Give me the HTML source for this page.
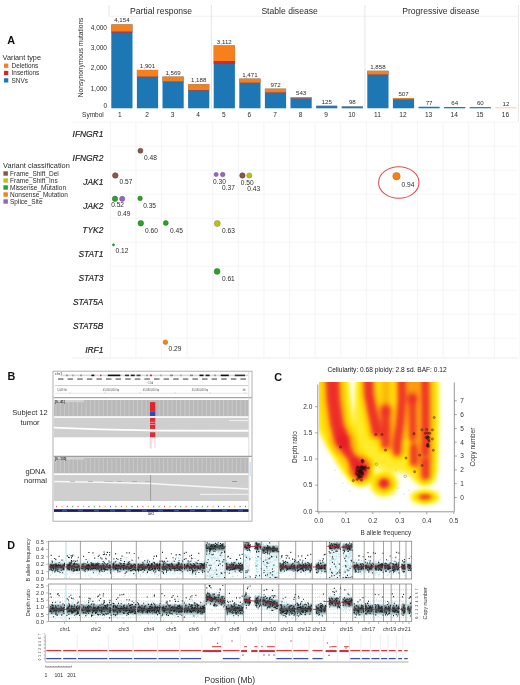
<!DOCTYPE html><html><head><meta charset="utf-8"><style>html,body{margin:0;padding:0;background:#fff;}svg{display:block;will-change:transform;font-family:"Liberation Sans", sans-serif;}</style></head><body><svg width="520" height="685" viewBox="0 0 520 685"><rect width="520" height="685" fill="#fff"/><line x1="109.2" y1="16.3" x2="518.2" y2="16.3" stroke="#ededed" stroke-width="0.8"/><line x1="109" y1="5" x2="109" y2="16.3" stroke="#e0e0e0" stroke-width="0.8"/><line x1="211.4" y1="5" x2="211.4" y2="109" stroke="#e0e0e0" stroke-width="0.8"/><line x1="364.9" y1="5" x2="364.9" y2="109" stroke="#e0e0e0" stroke-width="0.8"/><line x1="518.4" y1="5" x2="518.4" y2="122" stroke="#e0e0e0" stroke-width="0.8"/><text x="161.1" y="14.2" font-size="8.6" fill="#2c2c2c" text-anchor="middle">Partial response</text><text x="289.6" y="13.9" font-size="8.6" fill="#2c2c2c" text-anchor="middle">Stable disease</text><text x="440.9" y="13.9" font-size="8.6" fill="#2c2c2c" text-anchor="middle">Progressive disease</text><rect x="111.3" y="24.39" width="21.2" height="83.91" fill="#1d77b5"/><rect x="111.3" y="24.39" width="21.2" height="7.3" fill="#f6811c"/><rect x="111.3" y="31.69" width="21.2" height="0.9" fill="#d62728"/><text x="121.9" y="22.49" font-size="6.15" fill="#2c2c2c" text-anchor="middle">4,154</text><text x="119.9" y="117.2" font-size="6.6" fill="#2c2c2c" text-anchor="middle">1</text><rect x="136.9" y="69.9" width="21.2" height="38.4" fill="#1d77b5"/><rect x="136.9" y="69.9" width="21.2" height="6.8" fill="#f6811c"/><rect x="136.9" y="76.7" width="21.2" height="0.4" fill="#d62728"/><text x="147.5" y="68" font-size="6.15" fill="#2c2c2c" text-anchor="middle">1,901</text><text x="147" y="117.2" font-size="6.6" fill="#2c2c2c" text-anchor="middle">2</text><rect x="162.5" y="76.61" width="21.2" height="31.69" fill="#1d77b5"/><rect x="162.5" y="76.61" width="21.2" height="5" fill="#f6811c"/><rect x="162.5" y="81.61" width="21.2" height="0.4" fill="#d62728"/><text x="173.1" y="74.71" font-size="6.15" fill="#2c2c2c" text-anchor="middle">1,569</text><text x="172.6" y="117.2" font-size="6.6" fill="#2c2c2c" text-anchor="middle">3</text><rect x="188.1" y="84.3" width="21.2" height="24" fill="#1d77b5"/><rect x="188.1" y="84.3" width="21.2" height="5.8" fill="#f6811c"/><rect x="188.1" y="90.1" width="21.2" height="0.4" fill="#d62728"/><text x="198.7" y="82.4" font-size="6.15" fill="#2c2c2c" text-anchor="middle">1,188</text><text x="198.2" y="117.2" font-size="6.6" fill="#2c2c2c" text-anchor="middle">4</text><rect x="213.7" y="45.44" width="21.2" height="62.86" fill="#1d77b5"/><rect x="213.7" y="45.44" width="21.2" height="15.6" fill="#f6811c"/><rect x="213.7" y="61.04" width="21.2" height="3" fill="#d62728"/><text x="224.3" y="43.54" font-size="6.15" fill="#2c2c2c" text-anchor="middle">3,112</text><text x="223.8" y="117.2" font-size="6.6" fill="#2c2c2c" text-anchor="middle">5</text><rect x="239.3" y="78.59" width="21.2" height="29.71" fill="#1d77b5"/><rect x="239.3" y="78.59" width="21.2" height="4.2" fill="#f6811c"/><rect x="239.3" y="82.79" width="21.2" height="0.3" fill="#d62728"/><text x="249.9" y="76.69" font-size="6.15" fill="#2c2c2c" text-anchor="middle">1,471</text><text x="249.4" y="117.2" font-size="6.6" fill="#2c2c2c" text-anchor="middle">6</text><rect x="264.9" y="88.67" width="21.2" height="19.63" fill="#1d77b5"/><rect x="264.9" y="88.67" width="21.2" height="3.8" fill="#f6811c"/><rect x="264.9" y="92.47" width="21.2" height="0.3" fill="#d62728"/><text x="275.5" y="86.77" font-size="6.15" fill="#2c2c2c" text-anchor="middle">972</text><text x="275" y="117.2" font-size="6.6" fill="#2c2c2c" text-anchor="middle">7</text><rect x="290.5" y="97.33" width="21.2" height="10.97" fill="#1d77b5"/><rect x="290.5" y="97.33" width="21.2" height="1" fill="#f6811c"/><rect x="290.5" y="98.33" width="21.2" height="0.2" fill="#d62728"/><text x="301.1" y="95.43" font-size="6.15" fill="#2c2c2c" text-anchor="middle">543</text><text x="300.6" y="117.2" font-size="6.6" fill="#2c2c2c" text-anchor="middle">8</text><rect x="316.1" y="105.77" width="21.2" height="2.52" fill="#1d77b5"/><rect x="316.1" y="105.77" width="21.2" height="0.3" fill="#f6811c"/><text x="326.7" y="103.87" font-size="6.15" fill="#2c2c2c" text-anchor="middle">125</text><text x="326.2" y="117.2" font-size="6.6" fill="#2c2c2c" text-anchor="middle">9</text><rect x="341.7" y="106.32" width="21.2" height="1.98" fill="#1d77b5"/><rect x="341.7" y="106.32" width="21.2" height="0.2" fill="#f6811c"/><text x="352.3" y="104.42" font-size="6.15" fill="#2c2c2c" text-anchor="middle">98</text><text x="351.8" y="117.2" font-size="6.6" fill="#2c2c2c" text-anchor="middle">10</text><rect x="367.3" y="70.77" width="21.2" height="37.53" fill="#1d77b5"/><rect x="367.3" y="70.77" width="21.2" height="3.8" fill="#f6811c"/><rect x="367.3" y="74.57" width="21.2" height="0.3" fill="#d62728"/><text x="377.9" y="68.87" font-size="6.15" fill="#2c2c2c" text-anchor="middle">1,858</text><text x="377.4" y="117.2" font-size="6.6" fill="#2c2c2c" text-anchor="middle">11</text><rect x="392.9" y="98.06" width="21.2" height="10.24" fill="#1d77b5"/><rect x="392.9" y="98.06" width="21.2" height="1.3" fill="#f6811c"/><rect x="392.9" y="99.36" width="21.2" height="0.2" fill="#d62728"/><text x="403.5" y="96.16" font-size="6.15" fill="#2c2c2c" text-anchor="middle">507</text><text x="403" y="117.2" font-size="6.6" fill="#2c2c2c" text-anchor="middle">12</text><rect x="418.5" y="106.74" width="21.2" height="1.56" fill="#1d77b5"/><text x="429.1" y="104.84" font-size="6.15" fill="#2c2c2c" text-anchor="middle">77</text><text x="428.6" y="117.2" font-size="6.6" fill="#2c2c2c" text-anchor="middle">13</text><rect x="444.1" y="107.01" width="21.2" height="1.29" fill="#1d77b5"/><text x="454.7" y="105.11" font-size="6.15" fill="#2c2c2c" text-anchor="middle">64</text><text x="454.2" y="117.2" font-size="6.6" fill="#2c2c2c" text-anchor="middle">14</text><rect x="469.7" y="107.09" width="21.2" height="1.21" fill="#1d77b5"/><text x="480.3" y="105.19" font-size="6.15" fill="#2c2c2c" text-anchor="middle">60</text><text x="479.8" y="117.2" font-size="6.6" fill="#2c2c2c" text-anchor="middle">15</text><rect x="495.3" y="107.4" width="21.2" height="0.9" fill="#f6c9a0"/><text x="505.9" y="106.16" font-size="6.15" fill="#2c2c2c" text-anchor="middle">12</text><text x="505.4" y="117.2" font-size="6.6" fill="#2c2c2c" text-anchor="middle">16</text><text x="103.8" y="117.2" font-size="6.5" fill="#2c2c2c" text-anchor="end">Symbol</text><text x="107" y="108.2" font-size="6.5" fill="#2c2c2c" text-anchor="end">0</text><text x="107" y="90.5" font-size="6.5" fill="#2c2c2c" text-anchor="end">1,000</text><text x="107" y="70.3" font-size="6.5" fill="#2c2c2c" text-anchor="end">2,000</text><text x="107" y="50.1" font-size="6.5" fill="#2c2c2c" text-anchor="end">3,000</text><text x="107" y="29.9" font-size="6.5" fill="#2c2c2c" text-anchor="end">4,000</text><text transform="translate(83.2 57.4) rotate(-90)" font-size="6.6" fill="#2c2c2c" text-anchor="middle">Nonsynonymous mutations</text><text x="7.2" y="43.6" font-size="10.8" fill="#111" font-weight="bold">A</text><text x="2.6" y="60.3" font-size="7.3" fill="#2c2c2c">Variant type</text><rect x="4" y="63.6" width="4.3" height="4.3" fill="#f6811c"/><text x="11.6" y="68" font-size="6.4" fill="#2c2c2c">Deletions</text><rect x="4" y="70.9" width="4.3" height="4.3" fill="#d62728"/><text x="11.6" y="75.3" font-size="6.4" fill="#2c2c2c">Insertions</text><rect x="4" y="78.2" width="4.3" height="4.3" fill="#1d77b5"/><text x="11.6" y="82.6" font-size="6.4" fill="#2c2c2c">SNVs</text><line x1="72.5" y1="122.2" x2="518.2" y2="122.2" stroke="#f1f1f1" stroke-width="0.8"/><line x1="110.3" y1="146.2" x2="518.2" y2="146.2" stroke="#f1f1f1" stroke-width="0.8"/><line x1="110.3" y1="170.2" x2="518.2" y2="170.2" stroke="#f1f1f1" stroke-width="0.8"/><line x1="110.3" y1="194.2" x2="518.2" y2="194.2" stroke="#f1f1f1" stroke-width="0.8"/><line x1="110.3" y1="218.2" x2="518.2" y2="218.2" stroke="#f1f1f1" stroke-width="0.8"/><line x1="110.3" y1="242.2" x2="518.2" y2="242.2" stroke="#f1f1f1" stroke-width="0.8"/><line x1="110.3" y1="266.2" x2="518.2" y2="266.2" stroke="#f1f1f1" stroke-width="0.8"/><line x1="110.3" y1="290.2" x2="518.2" y2="290.2" stroke="#f1f1f1" stroke-width="0.8"/><line x1="110.3" y1="314.2" x2="518.2" y2="314.2" stroke="#f1f1f1" stroke-width="0.8"/><line x1="110.3" y1="338.2" x2="518.2" y2="338.2" stroke="#f1f1f1" stroke-width="0.8"/><line x1="72.5" y1="358" x2="518.2" y2="358" stroke="#ebebeb" stroke-width="0.9"/><line x1="110.3" y1="122.2" x2="110.3" y2="358" stroke="#f1f1f1" stroke-width="0.8"/><line x1="135.9" y1="122.2" x2="135.9" y2="358" stroke="#f1f1f1" stroke-width="0.8"/><line x1="161.5" y1="122.2" x2="161.5" y2="358" stroke="#f1f1f1" stroke-width="0.8"/><line x1="187.1" y1="122.2" x2="187.1" y2="358" stroke="#f1f1f1" stroke-width="0.8"/><line x1="212.7" y1="122.2" x2="212.7" y2="358" stroke="#f1f1f1" stroke-width="0.8"/><line x1="238.3" y1="122.2" x2="238.3" y2="358" stroke="#f1f1f1" stroke-width="0.8"/><line x1="263.9" y1="122.2" x2="263.9" y2="358" stroke="#f1f1f1" stroke-width="0.8"/><line x1="289.5" y1="122.2" x2="289.5" y2="358" stroke="#f1f1f1" stroke-width="0.8"/><line x1="315.1" y1="122.2" x2="315.1" y2="358" stroke="#f1f1f1" stroke-width="0.8"/><line x1="340.7" y1="122.2" x2="340.7" y2="358" stroke="#f1f1f1" stroke-width="0.8"/><line x1="366.3" y1="122.2" x2="366.3" y2="358" stroke="#f1f1f1" stroke-width="0.8"/><line x1="391.9" y1="122.2" x2="391.9" y2="358" stroke="#f1f1f1" stroke-width="0.8"/><line x1="417.5" y1="122.2" x2="417.5" y2="358" stroke="#f1f1f1" stroke-width="0.8"/><line x1="443.1" y1="122.2" x2="443.1" y2="358" stroke="#f1f1f1" stroke-width="0.8"/><line x1="468.7" y1="122.2" x2="468.7" y2="358" stroke="#f1f1f1" stroke-width="0.8"/><line x1="494.3" y1="122.2" x2="494.3" y2="358" stroke="#f1f1f1" stroke-width="0.8"/><line x1="519.9" y1="122.2" x2="519.9" y2="358" stroke="#f1f1f1" stroke-width="0.8"/><text x="103.3" y="137" font-size="8.4" fill="#1c1c1c" text-anchor="end" font-style="italic" stroke="#1c1c1c" stroke-width="0.18">IFNGR1</text><text x="103.3" y="160.96" font-size="8.4" fill="#1c1c1c" text-anchor="end" font-style="italic" stroke="#1c1c1c" stroke-width="0.18">IFNGR2</text><text x="103.3" y="184.92" font-size="8.4" fill="#1c1c1c" text-anchor="end" font-style="italic" stroke="#1c1c1c" stroke-width="0.18">JAK1</text><text x="103.3" y="208.88" font-size="8.4" fill="#1c1c1c" text-anchor="end" font-style="italic" stroke="#1c1c1c" stroke-width="0.18">JAK2</text><text x="103.3" y="232.84" font-size="8.4" fill="#1c1c1c" text-anchor="end" font-style="italic" stroke="#1c1c1c" stroke-width="0.18">TYK2</text><text x="103.3" y="256.8" font-size="8.4" fill="#1c1c1c" text-anchor="end" font-style="italic" stroke="#1c1c1c" stroke-width="0.18">STAT1</text><text x="103.3" y="280.76" font-size="8.4" fill="#1c1c1c" text-anchor="end" font-style="italic" stroke="#1c1c1c" stroke-width="0.18">STAT3</text><text x="103.3" y="304.72" font-size="8.4" fill="#1c1c1c" text-anchor="end" font-style="italic" stroke="#1c1c1c" stroke-width="0.18">STAT5A</text><text x="103.3" y="328.68" font-size="8.4" fill="#1c1c1c" text-anchor="end" font-style="italic" stroke="#1c1c1c" stroke-width="0.18">STAT5B</text><text x="103.3" y="352.64" font-size="8.4" fill="#1c1c1c" text-anchor="end" font-style="italic" stroke="#1c1c1c" stroke-width="0.18">IRF1</text><text x="3" y="168" font-size="7.4" fill="#2c2c2c">Variant classification</text><rect x="3.4" y="171.3" width="4.5" height="4.4" fill="#8c564b"/><text x="10" y="175.8" font-size="6.5" fill="#2c2c2c">Frame_Shift_Del</text><rect x="3.4" y="178.3" width="4.5" height="4.4" fill="#bcbd22"/><text x="10" y="182.8" font-size="6.5" fill="#2c2c2c">Frame_Shift_Ins</text><rect x="3.4" y="185.3" width="4.5" height="4.4" fill="#2ca02c"/><text x="10" y="189.8" font-size="6.5" fill="#2c2c2c">Missense_Mutation</text><rect x="3.4" y="192.3" width="4.5" height="4.4" fill="#f6811c"/><text x="10" y="196.8" font-size="6.5" fill="#2c2c2c">Nonsense_Mutation</text><rect x="3.4" y="199.3" width="4.5" height="4.4" fill="#9467bd"/><text x="10" y="203.8" font-size="6.5" fill="#2c2c2c">Splice_Site</text><circle cx="140.4" cy="150.7" r="2.5" fill="#8c564b" stroke="#5e3730" stroke-width="0.5"/><circle cx="115.3" cy="175.5" r="2.8" fill="#8c564b" stroke="#5e3730" stroke-width="0.5"/><circle cx="216.1" cy="174.5" r="2.1" fill="#9467bd" stroke="#6a4590" stroke-width="0.5"/><circle cx="222.7" cy="174.5" r="2.3" fill="#9467bd" stroke="#6a4590" stroke-width="0.5"/><circle cx="242.4" cy="175.5" r="2.7" fill="#8c564b" stroke="#5e3730" stroke-width="0.5"/><circle cx="249.3" cy="175.5" r="2.6" fill="#bcbd22" stroke="#8a8a18" stroke-width="0.5"/><circle cx="396.5" cy="176.2" r="3.7" fill="#f6811c" stroke="#c05c08" stroke-width="0.5"/><circle cx="115" cy="198.8" r="2.7" fill="#2ca02c" stroke="#1b6e1f" stroke-width="0.5"/><circle cx="122.2" cy="198.8" r="2.6" fill="#9467bd" stroke="#6a4590" stroke-width="0.5"/><circle cx="140.1" cy="198.4" r="2.3" fill="#2ca02c" stroke="#1b6e1f" stroke-width="0.5"/><circle cx="140.8" cy="223.2" r="2.8" fill="#2ca02c" stroke="#1b6e1f" stroke-width="0.5"/><circle cx="165.8" cy="223" r="2.5" fill="#2ca02c" stroke="#1b6e1f" stroke-width="0.5"/><circle cx="217.3" cy="223.5" r="3" fill="#bcbd22" stroke="#8a8a18" stroke-width="0.5"/><circle cx="113.5" cy="244.8" r="1.1" fill="#2ca02c" stroke="#1b6e1f" stroke-width="0.5"/><circle cx="217.1" cy="271.4" r="2.9" fill="#2ca02c" stroke="#1b6e1f" stroke-width="0.5"/><circle cx="165.4" cy="342.2" r="2.3" fill="#f6811c" stroke="#c05c08" stroke-width="0.5"/><text x="144" y="160.4" font-size="6.6" fill="#2c2c2c">0.48</text><text x="119.6" y="184.3" font-size="6.6" fill="#2c2c2c">0.57</text><text x="213" y="183.6" font-size="6.6" fill="#2c2c2c">0.30</text><text x="222" y="190.2" font-size="6.6" fill="#2c2c2c">0.37</text><text x="240.8" y="185.1" font-size="6.6" fill="#2c2c2c">0.50</text><text x="247.3" y="191.2" font-size="6.6" fill="#2c2c2c">0.43</text><text x="401.5" y="186.7" font-size="6.6" fill="#2c2c2c">0.94</text><text x="111.2" y="207.4" font-size="6.6" fill="#2c2c2c">0.52</text><text x="117.6" y="215.9" font-size="6.6" fill="#2c2c2c">0.49</text><text x="143.2" y="207.7" font-size="6.6" fill="#2c2c2c">0.35</text><text x="145" y="232.8" font-size="6.6" fill="#2c2c2c">0.60</text><text x="170" y="232.8" font-size="6.6" fill="#2c2c2c">0.45</text><text x="222" y="232.8" font-size="6.6" fill="#2c2c2c">0.63</text><text x="115.5" y="253.2" font-size="6.6" fill="#2c2c2c">0.12</text><text x="221.9" y="281" font-size="6.6" fill="#2c2c2c">0.61</text><text x="168.5" y="350.9" font-size="6.6" fill="#2c2c2c">0.29</text><ellipse cx="398.8" cy="182.5" rx="20.2" ry="15.8" fill="none" stroke="#d9534f" stroke-width="1.1"/><text x="7.4" y="380.2" font-size="10.8" fill="#111" font-weight="bold">B</text><text x="30" y="415" font-size="7.5" fill="#2c2c2c" text-anchor="middle">Subject 12</text><text x="30" y="424.5" font-size="7.5" fill="#2c2c2c" text-anchor="middle">tumor</text><text x="35.5" y="474.2" font-size="7.5" fill="#2c2c2c" text-anchor="middle">gDNA</text><text x="35.5" y="483" font-size="7.5" fill="#2c2c2c" text-anchor="middle">normal</text><rect x="53" y="371.2" width="199" height="150" fill="#ffffff" stroke="#a8a8a8" stroke-width="0.9"/><text x="55" y="374.7" font-size="3.8" fill="#333">chr1</text><rect x="60.5" y="374.6" width="187.5" height="1.6" fill="#d8d8d8"/><rect x="66" y="374.6" width="2" height="1.6" fill="#999"/><rect x="72" y="374.6" width="2" height="1.6" fill="#aaa"/><rect x="80" y="374.6" width="2" height="1.6" fill="#999"/><rect x="91.4" y="374.6" width="2.9" height="1.6" fill="#111"/><rect x="100" y="374.6" width="1.5" height="1.6" fill="#c04040"/><rect x="107.8" y="374.6" width="12.5" height="1.6" fill="#111"/><rect x="125" y="374.6" width="4" height="1.6" fill="#333"/><rect x="130.8" y="374.6" width="3.9" height="1.6" fill="#222"/><rect x="136.6" y="374.6" width="3.9" height="1.6" fill="#444"/><rect x="146" y="374.6" width="2" height="1.6" fill="#999"/><rect x="150" y="374.6" width="2" height="1.6" fill="#d03030"/><rect x="160" y="374.6" width="2" height="1.6" fill="#aaa"/><rect x="170" y="374.6" width="3" height="1.6" fill="#888"/><rect x="180" y="374.6" width="2" height="1.6" fill="#aaa"/><rect x="190" y="374.6" width="3" height="1.6" fill="#888"/><rect x="199.5" y="374.6" width="4" height="1.6" fill="#111"/><rect x="205.6" y="374.6" width="4" height="1.6" fill="#222"/><rect x="214" y="374.6" width="2" height="1.6" fill="#999"/><rect x="220.7" y="374.6" width="8.1" height="1.6" fill="#111"/><rect x="234.8" y="374.6" width="10.2" height="1.6" fill="#333"/><rect x="58" y="378.3" width="5.5" height="1.5" fill="#7a7a7a"/><rect x="67.6" y="378.3" width="5.5" height="1.5" fill="#7a7a7a"/><rect x="77.2" y="378.3" width="5.5" height="1.5" fill="#7a7a7a"/><rect x="86.8" y="378.3" width="5.5" height="1.5" fill="#7a7a7a"/><rect x="96.4" y="378.3" width="5.5" height="1.5" fill="#7a7a7a"/><rect x="106" y="378.3" width="5.5" height="1.5" fill="#7a7a7a"/><rect x="115.6" y="378.3" width="5.5" height="1.5" fill="#7a7a7a"/><rect x="125.2" y="378.3" width="5.5" height="1.5" fill="#7a7a7a"/><rect x="134.8" y="378.3" width="5.5" height="1.5" fill="#7a7a7a"/><rect x="144.4" y="378.3" width="5.5" height="1.5" fill="#7a7a7a"/><rect x="154" y="378.3" width="5.5" height="1.5" fill="#7a7a7a"/><rect x="163.6" y="378.3" width="5.5" height="1.5" fill="#7a7a7a"/><rect x="173.2" y="378.3" width="5.5" height="1.5" fill="#7a7a7a"/><rect x="182.8" y="378.3" width="5.5" height="1.5" fill="#7a7a7a"/><rect x="192.4" y="378.3" width="5.5" height="1.5" fill="#7a7a7a"/><rect x="202" y="378.3" width="5.5" height="1.5" fill="#7a7a7a"/><rect x="211.6" y="378.3" width="5.5" height="1.5" fill="#7a7a7a"/><rect x="221.2" y="378.3" width="5.5" height="1.5" fill="#7a7a7a"/><rect x="230.8" y="378.3" width="5.5" height="1.5" fill="#7a7a7a"/><rect x="240.4" y="378.3" width="5.5" height="1.5" fill="#7a7a7a"/><line x1="55" y1="385.6" x2="248" y2="385.6" stroke="#9a9a9a" stroke-width="0.5"/><text x="150" y="384.4" font-size="2.6" fill="#444" text-anchor="middle">~1 kb</text><text x="62" y="391.3" font-size="2.6" fill="#555" text-anchor="middle">5,049 kb</text><text x="111" y="391.3" font-size="2.6" fill="#555" text-anchor="middle">45,000,000 bp</text><text x="151" y="391.3" font-size="2.6" fill="#555" text-anchor="middle">45,080,000 bp</text><text x="200" y="391.3" font-size="2.6" fill="#555" text-anchor="middle">45,090,000 bp</text><text x="244" y="391.3" font-size="2.6" fill="#555" text-anchor="middle">kb</text><line x1="55" y1="393.3" x2="248" y2="393.3" stroke="#c8c8c8" stroke-width="0.5"/><line x1="70" y1="392.4" x2="70" y2="393.3" stroke="#999" stroke-width="0.5"/><line x1="105" y1="392.4" x2="105" y2="393.3" stroke="#999" stroke-width="0.5"/><line x1="140" y1="392.4" x2="140" y2="393.3" stroke="#999" stroke-width="0.5"/><line x1="175" y1="392.4" x2="175" y2="393.3" stroke="#999" stroke-width="0.5"/><line x1="210" y1="392.4" x2="210" y2="393.3" stroke="#999" stroke-width="0.5"/><line x1="245" y1="392.4" x2="245" y2="393.3" stroke="#999" stroke-width="0.5"/><line x1="53.6" y1="397.6" x2="251.8" y2="397.6" stroke="#a6a6a6" stroke-width="1.1"/><line x1="248.8" y1="372" x2="248.8" y2="520.8" stroke="#cfcfcf" stroke-width="0.7"/><rect x="249.3" y="462" width="2.4" height="14" fill="#d6e6f4"/><rect x="54" y="400" width="194.5" height="16.2" fill="#b9b9b9"/><rect x="55.5" y="400" width="0.9" height="16.2" fill="#cbcbcb"/><rect x="59.8" y="400" width="0.9" height="16.2" fill="#cbcbcb"/><rect x="64.1" y="400" width="0.9" height="16.2" fill="#cbcbcb"/><rect x="68.4" y="400" width="0.9" height="16.2" fill="#cbcbcb"/><rect x="72.7" y="400" width="0.9" height="16.2" fill="#cbcbcb"/><rect x="77" y="400" width="0.9" height="16.2" fill="#cbcbcb"/><rect x="81.3" y="400" width="0.9" height="16.2" fill="#cbcbcb"/><rect x="85.6" y="400" width="0.9" height="16.2" fill="#cbcbcb"/><rect x="89.9" y="400" width="0.9" height="16.2" fill="#cbcbcb"/><rect x="94.2" y="400" width="0.9" height="16.2" fill="#cbcbcb"/><rect x="98.5" y="400" width="0.9" height="16.2" fill="#cbcbcb"/><rect x="102.8" y="400" width="0.9" height="16.2" fill="#cbcbcb"/><rect x="107.1" y="400" width="0.9" height="16.2" fill="#cbcbcb"/><rect x="111.4" y="400" width="0.9" height="16.2" fill="#cbcbcb"/><rect x="115.7" y="400" width="0.9" height="16.2" fill="#cbcbcb"/><rect x="120" y="400" width="0.9" height="16.2" fill="#cbcbcb"/><rect x="124.3" y="400" width="0.9" height="16.2" fill="#cbcbcb"/><rect x="128.6" y="400" width="0.9" height="16.2" fill="#cbcbcb"/><rect x="132.9" y="400" width="0.9" height="16.2" fill="#cbcbcb"/><rect x="137.2" y="400" width="0.9" height="16.2" fill="#cbcbcb"/><rect x="141.5" y="400" width="0.9" height="16.2" fill="#cbcbcb"/><rect x="145.8" y="400" width="0.9" height="16.2" fill="#cbcbcb"/><rect x="150.1" y="400" width="0.9" height="16.2" fill="#cbcbcb"/><rect x="154.4" y="400" width="0.9" height="16.2" fill="#cbcbcb"/><rect x="158.7" y="400" width="0.9" height="16.2" fill="#cbcbcb"/><rect x="163" y="400" width="0.9" height="16.2" fill="#cbcbcb"/><rect x="167.3" y="400" width="0.9" height="16.2" fill="#cbcbcb"/><rect x="171.6" y="400" width="0.9" height="16.2" fill="#cbcbcb"/><rect x="175.9" y="400" width="0.9" height="16.2" fill="#cbcbcb"/><rect x="180.2" y="400" width="0.9" height="16.2" fill="#cbcbcb"/><rect x="184.5" y="400" width="0.9" height="16.2" fill="#cbcbcb"/><rect x="188.8" y="400" width="0.9" height="16.2" fill="#cbcbcb"/><rect x="193.1" y="400" width="0.9" height="16.2" fill="#cbcbcb"/><rect x="197.4" y="400" width="0.9" height="16.2" fill="#cbcbcb"/><rect x="201.7" y="400" width="0.9" height="16.2" fill="#cbcbcb"/><rect x="206" y="400" width="0.9" height="16.2" fill="#cbcbcb"/><rect x="210.3" y="400" width="0.9" height="16.2" fill="#cbcbcb"/><rect x="214.6" y="400" width="0.9" height="16.2" fill="#cbcbcb"/><rect x="218.9" y="400" width="0.9" height="16.2" fill="#cbcbcb"/><rect x="223.2" y="400" width="0.9" height="16.2" fill="#cbcbcb"/><rect x="227.5" y="400" width="0.9" height="16.2" fill="#cbcbcb"/><rect x="231.8" y="400" width="0.9" height="16.2" fill="#cbcbcb"/><rect x="236.1" y="400" width="0.9" height="16.2" fill="#cbcbcb"/><rect x="240.4" y="400" width="0.9" height="16.2" fill="#cbcbcb"/><rect x="244.7" y="400" width="0.9" height="16.2" fill="#cbcbcb"/><rect x="54" y="400" width="30" height="2.2" fill="#d2d2d2"/><text x="55" y="402.6" font-size="3" fill="#222" font-weight="bold">[0 - 41]</text><rect x="54" y="417.8" width="194.5" height="19.5" fill="#cfcfcf"/><polyline points="54,427.6 100,429.4 160,430.6 248.5,430.7" fill="none" stroke="#fff" stroke-width="1.9"/><line x1="229" y1="420.6" x2="248.5" y2="420.6" stroke="#f4f4f4" stroke-width="0.9"/><rect x="150" y="402.1" width="5.3" height="9.6" fill="#e3242b"/><rect x="150" y="411.7" width="5.3" height="4.3" fill="#2b4bb5"/><rect x="150" y="417.9" width="5.3" height="11" fill="#dc2b3a"/><rect x="150" y="421.8" width="5.3" height="0.8" fill="#f3a0a8"/><rect x="150" y="424" width="5.3" height="0.8" fill="#f3a0a8"/><rect x="150" y="432.3" width="5.3" height="4.9" fill="#dc2b3a"/><line x1="150.3" y1="437" x2="150.3" y2="448" stroke="#f0a0a0" stroke-width="0.5"/><line x1="155" y1="437" x2="155" y2="448" stroke="#f0a0a0" stroke-width="0.5"/><line x1="151.3" y1="437" x2="151.3" y2="449" stroke="#bbbbbb" stroke-width="0.4"/><line x1="53.6" y1="456.4" x2="251.8" y2="456.4" stroke="#9e9e9e" stroke-width="1.4"/><rect x="54" y="457.4" width="194.5" height="15.9" fill="#b9b9b9"/><rect x="55.5" y="457.4" width="0.9" height="15.9" fill="#cbcbcb"/><rect x="59.8" y="457.4" width="0.9" height="15.9" fill="#cbcbcb"/><rect x="64.1" y="457.4" width="0.9" height="15.9" fill="#cbcbcb"/><rect x="68.4" y="457.4" width="0.9" height="15.9" fill="#cbcbcb"/><rect x="72.7" y="457.4" width="0.9" height="15.9" fill="#cbcbcb"/><rect x="77" y="457.4" width="0.9" height="15.9" fill="#cbcbcb"/><rect x="81.3" y="457.4" width="0.9" height="15.9" fill="#cbcbcb"/><rect x="85.6" y="457.4" width="0.9" height="15.9" fill="#cbcbcb"/><rect x="89.9" y="457.4" width="0.9" height="15.9" fill="#cbcbcb"/><rect x="94.2" y="457.4" width="0.9" height="15.9" fill="#cbcbcb"/><rect x="98.5" y="457.4" width="0.9" height="15.9" fill="#cbcbcb"/><rect x="102.8" y="457.4" width="0.9" height="15.9" fill="#cbcbcb"/><rect x="107.1" y="457.4" width="0.9" height="15.9" fill="#cbcbcb"/><rect x="111.4" y="457.4" width="0.9" height="15.9" fill="#cbcbcb"/><rect x="115.7" y="457.4" width="0.9" height="15.9" fill="#cbcbcb"/><rect x="120" y="457.4" width="0.9" height="15.9" fill="#cbcbcb"/><rect x="124.3" y="457.4" width="0.9" height="15.9" fill="#cbcbcb"/><rect x="128.6" y="457.4" width="0.9" height="15.9" fill="#cbcbcb"/><rect x="132.9" y="457.4" width="0.9" height="15.9" fill="#cbcbcb"/><rect x="137.2" y="457.4" width="0.9" height="15.9" fill="#cbcbcb"/><rect x="141.5" y="457.4" width="0.9" height="15.9" fill="#cbcbcb"/><rect x="145.8" y="457.4" width="0.9" height="15.9" fill="#cbcbcb"/><rect x="150.1" y="457.4" width="0.9" height="15.9" fill="#cbcbcb"/><rect x="154.4" y="457.4" width="0.9" height="15.9" fill="#cbcbcb"/><rect x="158.7" y="457.4" width="0.9" height="15.9" fill="#cbcbcb"/><rect x="163" y="457.4" width="0.9" height="15.9" fill="#cbcbcb"/><rect x="167.3" y="457.4" width="0.9" height="15.9" fill="#cbcbcb"/><rect x="171.6" y="457.4" width="0.9" height="15.9" fill="#cbcbcb"/><rect x="175.9" y="457.4" width="0.9" height="15.9" fill="#cbcbcb"/><rect x="180.2" y="457.4" width="0.9" height="15.9" fill="#cbcbcb"/><rect x="184.5" y="457.4" width="0.9" height="15.9" fill="#cbcbcb"/><rect x="188.8" y="457.4" width="0.9" height="15.9" fill="#cbcbcb"/><rect x="193.1" y="457.4" width="0.9" height="15.9" fill="#cbcbcb"/><rect x="197.4" y="457.4" width="0.9" height="15.9" fill="#cbcbcb"/><rect x="201.7" y="457.4" width="0.9" height="15.9" fill="#cbcbcb"/><rect x="206" y="457.4" width="0.9" height="15.9" fill="#cbcbcb"/><rect x="210.3" y="457.4" width="0.9" height="15.9" fill="#cbcbcb"/><rect x="214.6" y="457.4" width="0.9" height="15.9" fill="#cbcbcb"/><rect x="218.9" y="457.4" width="0.9" height="15.9" fill="#cbcbcb"/><rect x="223.2" y="457.4" width="0.9" height="15.9" fill="#cbcbcb"/><rect x="227.5" y="457.4" width="0.9" height="15.9" fill="#cbcbcb"/><rect x="231.8" y="457.4" width="0.9" height="15.9" fill="#cbcbcb"/><rect x="236.1" y="457.4" width="0.9" height="15.9" fill="#cbcbcb"/><rect x="240.4" y="457.4" width="0.9" height="15.9" fill="#cbcbcb"/><rect x="244.7" y="457.4" width="0.9" height="15.9" fill="#cbcbcb"/><rect x="54" y="457.4" width="30" height="2.2" fill="#d2d2d2"/><text x="55" y="460" font-size="3" fill="#222" font-weight="bold">[0 - 130]</text><rect x="54" y="475" width="194.5" height="26" fill="#cfcfcf"/><polyline points="54,481.6 100,482.2 150,483.5 200,486.5 248.5,489" fill="none" stroke="#f7f7f7" stroke-width="1.5"/><line x1="200" y1="494.3" x2="248.5" y2="494.3" stroke="#f4f4f4" stroke-width="1"/><rect x="70" y="481" width="5" height="0.7" fill="#e8a070"/><rect x="88" y="481" width="5" height="0.7" fill="#d89090"/><rect x="104" y="481" width="5" height="0.7" fill="#e0b080"/><rect x="117" y="481" width="5" height="0.7" fill="#d0a060"/><rect x="132" y="481" width="5" height="0.7" fill="#c89080"/><rect x="108" y="481" width="5" height="0.7" fill="#c8a8a8"/><rect x="145" y="481" width="5" height="0.7" fill="#e0a070"/><rect x="232" y="481" width="5" height="0.7" fill="#d06060"/><line x1="150.6" y1="475" x2="150.6" y2="501" stroke="#7a7a7a" stroke-width="0.6"/><rect x="56" y="505.9" width="1" height="1.3" fill="#e05050"/><rect x="61.4" y="505.9" width="1" height="1.3" fill="#e0a030"/><rect x="66.8" y="505.9" width="1" height="1.3" fill="#4060d0"/><rect x="72.2" y="505.9" width="1" height="1.3" fill="#40a040"/><rect x="77.6" y="505.9" width="1" height="1.3" fill="#e05050"/><rect x="83" y="505.9" width="1" height="1.3" fill="#e0a030"/><rect x="88.4" y="505.9" width="1" height="1.3" fill="#4060d0"/><rect x="93.8" y="505.9" width="1" height="1.3" fill="#40a040"/><rect x="99.2" y="505.9" width="1" height="1.3" fill="#e05050"/><rect x="104.6" y="505.9" width="1" height="1.3" fill="#e0a030"/><rect x="110" y="505.9" width="1" height="1.3" fill="#4060d0"/><rect x="115.4" y="505.9" width="1" height="1.3" fill="#40a040"/><rect x="120.8" y="505.9" width="1" height="1.3" fill="#e05050"/><rect x="126.2" y="505.9" width="1" height="1.3" fill="#e0a030"/><rect x="131.6" y="505.9" width="1" height="1.3" fill="#4060d0"/><rect x="137" y="505.9" width="1" height="1.3" fill="#40a040"/><rect x="142.4" y="505.9" width="1" height="1.3" fill="#e05050"/><rect x="147.8" y="505.9" width="1" height="1.3" fill="#e0a030"/><rect x="153.2" y="505.9" width="1" height="1.3" fill="#4060d0"/><rect x="158.6" y="505.9" width="1" height="1.3" fill="#40a040"/><rect x="164" y="505.9" width="1" height="1.3" fill="#e05050"/><rect x="169.4" y="505.9" width="1" height="1.3" fill="#e0a030"/><rect x="174.8" y="505.9" width="1" height="1.3" fill="#4060d0"/><rect x="180.2" y="505.9" width="1" height="1.3" fill="#40a040"/><rect x="185.6" y="505.9" width="1" height="1.3" fill="#e05050"/><rect x="191" y="505.9" width="1" height="1.3" fill="#e0a030"/><rect x="196.4" y="505.9" width="1" height="1.3" fill="#4060d0"/><rect x="201.8" y="505.9" width="1" height="1.3" fill="#40a040"/><rect x="207.2" y="505.9" width="1" height="1.3" fill="#e05050"/><rect x="212.6" y="505.9" width="1" height="1.3" fill="#e0a030"/><rect x="218" y="505.9" width="1" height="1.3" fill="#4060d0"/><rect x="223.4" y="505.9" width="1" height="1.3" fill="#40a040"/><rect x="228.8" y="505.9" width="1" height="1.3" fill="#e05050"/><rect x="234.2" y="505.9" width="1" height="1.3" fill="#e0a030"/><rect x="239.6" y="505.9" width="1" height="1.3" fill="#4060d0"/><rect x="245" y="505.9" width="1" height="1.3" fill="#40a040"/><rect x="54" y="509.2" width="194.5" height="2.7" fill="#17186a"/><rect x="62" y="509.6" width="5" height="1.9" fill="#3f4fa8"/><rect x="78" y="509.6" width="5" height="1.9" fill="#3f4fa8"/><rect x="94" y="509.6" width="5" height="1.9" fill="#3f4fa8"/><rect x="110" y="509.6" width="5" height="1.9" fill="#3f4fa8"/><rect x="126" y="509.6" width="5" height="1.9" fill="#3f4fa8"/><rect x="142" y="509.6" width="5" height="1.9" fill="#3f4fa8"/><rect x="158" y="509.6" width="5" height="1.9" fill="#3f4fa8"/><rect x="174" y="509.6" width="5" height="1.9" fill="#3f4fa8"/><rect x="190" y="509.6" width="5" height="1.9" fill="#3f4fa8"/><rect x="206" y="509.6" width="5" height="1.9" fill="#3f4fa8"/><rect x="222" y="509.6" width="5" height="1.9" fill="#3f4fa8"/><rect x="238" y="509.6" width="5" height="1.9" fill="#3f4fa8"/><text x="151" y="515.2" font-size="2.8" fill="#222" text-anchor="middle">JAK1</text><text x="274.3" y="380.6" font-size="10.8" fill="#111" font-weight="bold">C</text><text x="387" y="371.7" font-size="6.6" fill="#222" text-anchor="middle">Cellularity: 0.68 ploidy: 2.8 sd. BAF: 0.12</text><defs><clipPath id="hmc"><rect x="319" y="382" width="134.8" height="129.5"/></clipPath><filter id="hmf" x="300" y="360" width="170" height="170" filterUnits="userSpaceOnUse" color-interpolation-filters="sRGB"><feGaussianBlur stdDeviation="2.6"/><feComponentTransfer><feFuncR type="table" tableValues="0.9 0.91 0.93 0.95 0.98 1 1 1 1"/><feFuncG type="table" tableValues="0.1 0.12 0.16 0.3 0.52 0.74 0.9 0.96 1"/><feFuncB type="table" tableValues="0.14 0.15 0.17 0.14 0.08 0.04 0.04 0.4 1"/></feComponentTransfer></filter></defs><g clip-path="url(#hmc)"><g filter="url(#hmf)"><rect x="300" y="360" width="170" height="170" fill="#fff"/><g fill="#000" stroke="#000" stroke-linecap="round" stroke-linejoin="round" fill-opacity="0"><path d="M310 365 L347 365 L350 400 L352 428 L355 400 L357 365 L438.5 365 L438.5 420 L437.5 470 L433 481 L425 485 L416 482 L410 476 L406 473 L400 472 L394 472 L388 471 L380 468 L372 466 L368 476 L364 484 L356 484 L348 477 L341 469 L335 459 L329 449 L323 439 L318 430 L310 430 Z" fill-opacity="0.2" stroke="none"/><path d="M332 370 L333.5 400 L337 425 L342.5 441" stroke-width="30" stroke-opacity="0.12"/><path d="M342.5 441 L346 449 L351 457 L358 467" stroke-width="26" stroke-opacity="0.12"/><path d="M368 370 L369 395 L372 410 L375.5 426 L376.5 432" stroke-width="20" stroke-opacity="0.12"/><path d="M386 410 L386 428 L385.5 445" stroke-width="16" stroke-opacity="0.12"/><path d="M386 370 L386 410" stroke-width="14" stroke-opacity="0.08"/><path d="M401.5 370 L402 400 L400 425 L397.5 442 L397 452" stroke-width="16" stroke-opacity="0.12"/><path d="M412.5 370 L412.5 398" stroke-width="12" stroke-opacity="0.1"/><path d="M412.5 398 L412.5 438" stroke-width="12" stroke-opacity="0.12"/><path d="M413.5 447 L413.5 463" stroke-width="12" stroke-opacity="0.12"/><path d="M425 370 L425.5 410 L425.5 452" stroke-width="22" stroke-opacity="0.14"/><path d="M425.5 462 L425.5 476" stroke-width="20" stroke-opacity="0.14"/><path d="M332 370 L333.5 400 L337 425 L342.5 441" stroke-width="18" stroke-opacity="0.16"/><path d="M342.5 441 L346 449 L351 457 L358 467" stroke-width="13.5" stroke-opacity="0.16"/><path d="M368 370 L369 395 L372 410 L375.5 426 L376.5 432" stroke-width="14" stroke-opacity="0.16"/><path d="M386 410 L386 428 L385.5 445" stroke-width="12.5" stroke-opacity="0.16"/><path d="M386 370 L386 410" stroke-width="8" stroke-opacity="0.16"/><path d="M401.5 370 L402 400 L400 425 L397.5 442 L397 452" stroke-width="12.5" stroke-opacity="0.16"/><path d="M412.5 370 L412.5 398" stroke-width="10" stroke-opacity="0.16"/><path d="M412.5 398 L412.5 438" stroke-width="11" stroke-opacity="0.16"/><path d="M413.5 447 L413.5 463" stroke-width="11.5" stroke-opacity="0.16"/><path d="M425 370 L425.5 410 L425.5 452" stroke-width="12.5" stroke-opacity="0.16"/><path d="M425.5 462 L425.5 476" stroke-width="12.5" stroke-opacity="0.16"/><path d="M332 370 L333.5 400 L337 425 L342.5 441" stroke-width="12" stroke-opacity="0.55"/><path d="M342.5 441 L346 449 L351 457 L358 467" stroke-width="7.5" stroke-opacity="0.55"/><path d="M368 370 L369 395 L372 410 L375.5 426 L376.5 432" stroke-width="8" stroke-opacity="0.55"/><path d="M386 410 L386 428 L385.5 445" stroke-width="6.5" stroke-opacity="0.52"/><path d="M386 370 L386 410" stroke-width="2" stroke-opacity="0.05"/><path d="M401.5 370 L402 400 L400 425 L397.5 442 L397 452" stroke-width="6.5" stroke-opacity="0.55"/><path d="M412.5 370 L412.5 398" stroke-width="4" stroke-opacity="0.05"/><path d="M412.5 398 L412.5 438" stroke-width="5" stroke-opacity="0.52"/><path d="M413.5 447 L413.5 463" stroke-width="5.5" stroke-opacity="0.52"/><path d="M425 370 L425.5 410 L425.5 452" stroke-width="6.5" stroke-opacity="0.55"/><path d="M425.5 462 L425.5 476" stroke-width="6.5" stroke-opacity="0.52"/><ellipse cx="361" cy="470.5" rx="13" ry="15" fill-opacity="0.3" stroke="none"/><ellipse cx="361" cy="470.5" rx="6" ry="8" fill-opacity="0.7" stroke="none"/><ellipse cx="384" cy="483.5" rx="13" ry="12" fill-opacity="0.3" stroke="none"/><ellipse cx="384" cy="483.5" rx="5.5" ry="5" fill-opacity="0.7" stroke="none"/><ellipse cx="425" cy="497" rx="14" ry="6.5" fill-opacity="0.3" stroke="none"/><ellipse cx="425" cy="497" rx="7" ry="2.6" fill-opacity="0.7" stroke="none"/></g></g></g><g fill="#2a1008" fill-opacity="0.35" stroke="#2a1208" stroke-width="0.45" stroke-opacity="0.8"><circle cx="362.57" cy="474.5" r="1.1"/><circle cx="360.14" cy="476.5" r="1.1"/><circle cx="360.17" cy="471.49" r="1.1"/><circle cx="365.16" cy="466.97" r="1.1"/><circle cx="361.71" cy="473.51" r="1.1"/><circle cx="363.33" cy="468.49" r="1.1"/><circle cx="361.16" cy="467.44" r="1.1"/><circle cx="359.75" cy="471.31" r="1.1"/><circle cx="356.54" cy="471.04" r="1.1"/><circle cx="357.32" cy="475.11" r="1.1"/><circle cx="360.29" cy="471.12" r="1.1"/><circle cx="359.68" cy="467.85" r="1.1"/><circle cx="361.1" cy="472.33" r="1.1"/><circle cx="361.65" cy="467.35" r="1.1"/><circle cx="357.94" cy="467.3" r="1.1"/><circle cx="357.53" cy="467.1" r="1.1"/><circle cx="359.23" cy="478.05" r="1.1"/><circle cx="357.25" cy="479.3" r="1.1"/><circle cx="361.35" cy="469.84" r="1.1"/><circle cx="362.54" cy="471.68" r="1.1"/><circle cx="362.94" cy="468.18" r="1.1"/><circle cx="359.09" cy="471.47" r="1.1"/><circle cx="358.88" cy="473.95" r="1.1"/><circle cx="360.53" cy="476.32" r="1.1"/><circle cx="355.87" cy="473.52" r="1.1"/><circle cx="356.7" cy="468.54" r="1.1"/><circle cx="362.35" cy="460.29" r="1.1"/><circle cx="359.83" cy="470.87" r="1.1"/><circle cx="362.29" cy="462.03" r="1.1"/><circle cx="362.45" cy="466.81" r="1.1"/><circle cx="359.94" cy="470.16" r="1.1"/><circle cx="361.09" cy="466.88" r="1.1"/><circle cx="361.22" cy="472.62" r="1.1"/><circle cx="362.22" cy="460.46" r="1.1"/><circle cx="365.25" cy="470" r="1.1"/><circle cx="360.32" cy="473.55" r="1.1"/><circle cx="361.83" cy="476.99" r="1.1"/><circle cx="361.2" cy="470.39" r="1.1"/><circle cx="360.3" cy="471.57" r="1.1"/><circle cx="359.66" cy="469.67" r="1.1"/><circle cx="363.22" cy="461.18" r="1.1"/><circle cx="353.29" cy="480.56" r="1.1"/><circle cx="361.1" cy="472.85" r="1.1"/><circle cx="360.41" cy="471.65" r="1.1"/><circle cx="362.76" cy="473.15" r="1.1"/><circle cx="359.65" cy="471.7" r="1.1"/><circle cx="365.66" cy="467.83" r="1.1"/><circle cx="361.49" cy="480.1" r="1.1"/><circle cx="361.98" cy="467.95" r="1.1"/><circle cx="358.86" cy="475.33" r="1.1"/><circle cx="358.09" cy="470.91" r="1.1"/><circle cx="357.72" cy="473.55" r="1.1"/><circle cx="362.85" cy="467.49" r="1.1"/><circle cx="358.69" cy="477.01" r="1.1"/><circle cx="362.07" cy="473.52" r="1.1"/><circle cx="363.34" cy="467.94" r="1.1"/><circle cx="360.65" cy="471.76" r="1.1"/><circle cx="359.35" cy="476.19" r="1.1"/><circle cx="364.07" cy="468.38" r="1.1"/><circle cx="360.22" cy="471.44" r="1.1"/><circle cx="427.25" cy="436.98" r="1.1"/><circle cx="427.86" cy="436.79" r="1.1"/><circle cx="427.8" cy="433.11" r="1.1"/><circle cx="429.06" cy="441.25" r="1.1"/><circle cx="426.66" cy="429.51" r="1.1"/><circle cx="428.49" cy="446.52" r="1.1"/><circle cx="427.33" cy="438.59" r="1.1"/><circle cx="427.59" cy="444.27" r="1.1"/><circle cx="427.03" cy="445.93" r="1.1"/><circle cx="428.02" cy="445.62" r="1.1"/><circle cx="428.55" cy="439.84" r="1.1"/><circle cx="426.13" cy="437.56" r="1.1"/><circle cx="428.08" cy="444.3" r="1.1"/><circle cx="428.89" cy="437.52" r="1.1"/><circle cx="434.2" cy="417.5" r="1.1"/><circle cx="421.9" cy="429.8" r="1.1"/><circle cx="432.4" cy="429.8" r="1.1"/><circle cx="414" cy="433.7" r="1.1"/><circle cx="425.4" cy="433.3" r="1.1"/><circle cx="429.8" cy="433.3" r="1.1"/><circle cx="432.4" cy="439" r="1.1"/><circle cx="433.3" cy="450.3" r="1.1"/><circle cx="419.7" cy="455.2" r="1.1"/><circle cx="340.5" cy="447" r="1.1"/><circle cx="375.8" cy="434.5" r="1.1"/><circle cx="382" cy="434.5" r="1.1"/><circle cx="385.5" cy="450.2" r="1.1"/><circle cx="368.5" cy="468" r="1.1"/><circle cx="414.6" cy="471.7" r="1.1"/><circle cx="422.2" cy="465.5" r="1.1"/><circle cx="406" cy="458" r="1.1"/></g><circle cx="376.4" cy="464.2" r="1.3" fill="none" stroke="#777" stroke-width="0.5"/><circle cx="405.2" cy="476.3" r="1.3" fill="none" stroke="#777" stroke-width="0.5"/><circle cx="335" cy="470" r="0.5" fill="#aab8c8"/><circle cx="343" cy="483" r="0.5" fill="#aab8c8"/><circle cx="350" cy="491" r="0.5" fill="#aab8c8"/><circle cx="398" cy="488" r="0.5" fill="#aab8c8"/><circle cx="404" cy="494" r="0.5" fill="#aab8c8"/><circle cx="409" cy="490" r="0.5" fill="#aab8c8"/><circle cx="330" cy="500" r="0.5" fill="#aab8c8"/><circle cx="396" cy="470" r="0.5" fill="#aab8c8"/><line x1="317.8" y1="384.5" x2="317.8" y2="512.2" stroke="#8a8a8a" stroke-width="0.9"/><line x1="315.2" y1="511.3" x2="317.7" y2="511.3" stroke="#8a8a8a" stroke-width="0.8"/><text x="312.3" y="513.6" font-size="6.5" fill="#333" text-anchor="end">0.0</text><line x1="315.2" y1="485.15" x2="317.7" y2="485.15" stroke="#8a8a8a" stroke-width="0.8"/><text x="312.3" y="487.45" font-size="6.5" fill="#333" text-anchor="end">0.5</text><line x1="315.2" y1="459" x2="317.7" y2="459" stroke="#8a8a8a" stroke-width="0.8"/><text x="312.3" y="461.3" font-size="6.5" fill="#333" text-anchor="end">1.0</text><line x1="315.2" y1="432.85" x2="317.7" y2="432.85" stroke="#8a8a8a" stroke-width="0.8"/><text x="312.3" y="435.15" font-size="6.5" fill="#333" text-anchor="end">1.5</text><line x1="315.2" y1="406.7" x2="317.7" y2="406.7" stroke="#8a8a8a" stroke-width="0.8"/><text x="312.3" y="409" font-size="6.5" fill="#333" text-anchor="end">2.0</text><line x1="317.8" y1="511.8" x2="453.8" y2="511.8" stroke="#8a8a8a" stroke-width="0.9"/><line x1="318.8" y1="511.8" x2="318.8" y2="514.2" stroke="#8a8a8a" stroke-width="0.8"/><text x="318.8" y="522.7" font-size="6.5" fill="#333" text-anchor="middle">0.0</text><line x1="345.8" y1="511.8" x2="345.8" y2="514.2" stroke="#8a8a8a" stroke-width="0.8"/><text x="345.8" y="522.7" font-size="6.5" fill="#333" text-anchor="middle">0.1</text><line x1="372.8" y1="511.8" x2="372.8" y2="514.2" stroke="#8a8a8a" stroke-width="0.8"/><text x="372.8" y="522.7" font-size="6.5" fill="#333" text-anchor="middle">0.2</text><line x1="399.8" y1="511.8" x2="399.8" y2="514.2" stroke="#8a8a8a" stroke-width="0.8"/><text x="399.8" y="522.7" font-size="6.5" fill="#333" text-anchor="middle">0.3</text><line x1="426.8" y1="511.8" x2="426.8" y2="514.2" stroke="#8a8a8a" stroke-width="0.8"/><text x="426.8" y="522.7" font-size="6.5" fill="#333" text-anchor="middle">0.4</text><line x1="453.8" y1="511.8" x2="453.8" y2="514.2" stroke="#8a8a8a" stroke-width="0.8"/><text x="453.8" y="522.7" font-size="6.5" fill="#333" text-anchor="middle">0.5</text><line x1="454.3" y1="382.5" x2="454.3" y2="511.8" stroke="#8a8a8a" stroke-width="0.9"/><line x1="454.3" y1="497.5" x2="456.8" y2="497.5" stroke="#8a8a8a" stroke-width="0.8"/><text x="460.2" y="499.8" font-size="6.5" fill="#333">0</text><line x1="454.3" y1="483.68" x2="456.8" y2="483.68" stroke="#8a8a8a" stroke-width="0.8"/><text x="460.2" y="485.98" font-size="6.5" fill="#333">1</text><line x1="454.3" y1="469.86" x2="456.8" y2="469.86" stroke="#8a8a8a" stroke-width="0.8"/><text x="460.2" y="472.16" font-size="6.5" fill="#333">2</text><line x1="454.3" y1="456.04" x2="456.8" y2="456.04" stroke="#8a8a8a" stroke-width="0.8"/><text x="460.2" y="458.34" font-size="6.5" fill="#333">3</text><line x1="454.3" y1="442.22" x2="456.8" y2="442.22" stroke="#8a8a8a" stroke-width="0.8"/><text x="460.2" y="444.52" font-size="6.5" fill="#333">4</text><line x1="454.3" y1="428.4" x2="456.8" y2="428.4" stroke="#8a8a8a" stroke-width="0.8"/><text x="460.2" y="430.7" font-size="6.5" fill="#333">5</text><line x1="454.3" y1="414.58" x2="456.8" y2="414.58" stroke="#8a8a8a" stroke-width="0.8"/><text x="460.2" y="416.88" font-size="6.5" fill="#333">6</text><line x1="454.3" y1="400.76" x2="456.8" y2="400.76" stroke="#8a8a8a" stroke-width="0.8"/><text x="460.2" y="403.06" font-size="6.5" fill="#333">7</text><text x="385.8" y="534.6" font-size="6.4" fill="#333" text-anchor="middle">B allele frequency</text><text transform="translate(297 447) rotate(-90)" font-size="6.5" fill="#333" text-anchor="middle">Depth ratio</text><text transform="translate(475.3 447) rotate(-90)" font-size="6.5" fill="#333" text-anchor="middle">Copy number</text><text x="7.2" y="549.4" font-size="10.8" fill="#111" font-weight="bold">D</text><rect x="48.7" y="541.2" width="363" height="37.8" fill="#ffffff"/><rect x="48.7" y="584" width="363" height="37.6" fill="#ffffff"/><defs><linearGradient id="cyb" x1="0" y1="0" x2="0" y2="1"><stop offset="0" stop-color="#c4e6ee" stop-opacity="0"/><stop offset="0.5" stop-color="#c4e6ee" stop-opacity="0.9"/><stop offset="1" stop-color="#c4e6ee" stop-opacity="0"/></linearGradient><linearGradient id="bkb" x1="0" y1="0" x2="0" y2="1"><stop offset="0" stop-color="#1a2426" stop-opacity="0"/><stop offset="0.5" stop-color="#1a2426" stop-opacity="0.8"/><stop offset="1" stop-color="#1a2426" stop-opacity="0"/></linearGradient><linearGradient id="bkd" x1="0" y1="0" x2="0" y2="1"><stop offset="0" stop-color="#1a2426" stop-opacity="0"/><stop offset="0.5" stop-color="#1a2426" stop-opacity="0.75"/><stop offset="1" stop-color="#1a2426" stop-opacity="0"/></linearGradient></defs><line x1="48.7" y1="589.7" x2="411.7" y2="589.7" stroke="#a8a8a8" stroke-width="0.5" stroke-dasharray="1 1.2"/><line x1="48.7" y1="593.7" x2="411.7" y2="593.7" stroke="#a8a8a8" stroke-width="0.5" stroke-dasharray="1 1.2"/><line x1="48.7" y1="597.4" x2="411.7" y2="597.4" stroke="#a8a8a8" stroke-width="0.5" stroke-dasharray="1 1.2"/><line x1="48.7" y1="601.1" x2="411.7" y2="601.1" stroke="#a8a8a8" stroke-width="0.5" stroke-dasharray="1 1.2"/><line x1="48.7" y1="605" x2="411.7" y2="605" stroke="#a8a8a8" stroke-width="0.5" stroke-dasharray="1 1.2"/><line x1="48.7" y1="609.2" x2="411.7" y2="609.2" stroke="#a8a8a8" stroke-width="0.5" stroke-dasharray="1 1.2"/><line x1="48.7" y1="613.4" x2="411.7" y2="613.4" stroke="#a8a8a8" stroke-width="0.5" stroke-dasharray="1 1.2"/><line x1="48.7" y1="617.6" x2="411.7" y2="617.6" stroke="#a8a8a8" stroke-width="0.5" stroke-dasharray="1 1.2"/><rect x="65" y="541.7" width="2" height="36.8" fill="#d5eef4"/><rect x="65" y="584.5" width="2" height="36.6" fill="#d5eef4"/><rect x="205.7" y="541.7" width="18.9" height="36.8" fill="#eef8fa"/><rect x="244.1" y="541.7" width="6.05" height="36.8" fill="#eef8fa"/><rect x="254.52" y="541.7" width="6.38" height="36.8" fill="#eef8fa"/><rect x="262.1" y="541.7" width="16.1" height="36.8" fill="#eef8fa"/><rect x="328.74" y="541.7" width="11.26" height="36.8" fill="#eef8fa"/><rect x="342.51" y="541.7" width="9.59" height="36.8" fill="#eef8fa"/><rect x="49.3" y="558.97" width="15.25" height="16" fill="url(#cyb)"/><rect x="49.3" y="601.35" width="15.25" height="16" fill="url(#cyb)"/><rect x="66.38" y="558.97" width="13.42" height="16" fill="url(#cyb)"/><rect x="66.38" y="601.35" width="13.42" height="16" fill="url(#cyb)"/><rect x="81" y="558.97" width="29.9" height="16" fill="url(#cyb)"/><rect x="81" y="601.35" width="29.9" height="16" fill="url(#cyb)"/><rect x="112.1" y="558.97" width="23.6" height="16" fill="url(#cyb)"/><rect x="112.1" y="601.35" width="23.6" height="16" fill="url(#cyb)"/><rect x="136.9" y="558.97" width="23.2" height="16" fill="url(#cyb)"/><rect x="136.9" y="601.35" width="23.2" height="16" fill="url(#cyb)"/><rect x="161.3" y="558.97" width="21" height="16" fill="url(#cyb)"/><rect x="161.3" y="601.35" width="21" height="16" fill="url(#cyb)"/><rect x="183.5" y="558.97" width="21" height="16" fill="url(#cyb)"/><rect x="183.5" y="601.35" width="21" height="16" fill="url(#cyb)"/><rect x="205.7" y="591.44" width="18.9" height="16" fill="url(#cyb)"/><rect x="225.8" y="558.97" width="17.1" height="16" fill="url(#cyb)"/><rect x="225.8" y="601.35" width="17.1" height="16" fill="url(#cyb)"/><rect x="244.1" y="592.88" width="6.05" height="16" fill="url(#cyb)"/><rect x="254.52" y="592.88" width="6.38" height="16" fill="url(#cyb)"/><rect x="262.1" y="595.03" width="16.1" height="16" fill="url(#cyb)"/><rect x="279.4" y="558.97" width="15.7" height="16" fill="url(#cyb)"/><rect x="279.4" y="601.35" width="15.7" height="16" fill="url(#cyb)"/><rect x="296.3" y="558.97" width="15.4" height="16" fill="url(#cyb)"/><rect x="296.3" y="601.35" width="15.4" height="16" fill="url(#cyb)"/><rect x="315.52" y="558.97" width="10.48" height="16" fill="url(#cyb)"/><rect x="315.52" y="601.35" width="10.48" height="16" fill="url(#cyb)"/><rect x="328.74" y="594.17" width="11.26" height="16" fill="url(#cyb)"/><rect x="342.51" y="594.31" width="9.59" height="16" fill="url(#cyb)"/><rect x="353.3" y="558.97" width="10.3" height="16" fill="url(#cyb)"/><rect x="353.3" y="601.35" width="10.3" height="16" fill="url(#cyb)"/><rect x="364.8" y="558.97" width="8.4" height="16" fill="url(#cyb)"/><rect x="364.8" y="601.35" width="8.4" height="16" fill="url(#cyb)"/><rect x="374.4" y="558.97" width="8.5" height="16" fill="url(#cyb)"/><rect x="374.4" y="601.35" width="8.5" height="16" fill="url(#cyb)"/><rect x="384.1" y="558.97" width="6.5" height="16" fill="url(#cyb)"/><rect x="384.1" y="601.35" width="6.5" height="16" fill="url(#cyb)"/><rect x="391.8" y="558.97" width="7.2" height="16" fill="url(#cyb)"/><rect x="391.8" y="601.35" width="7.2" height="16" fill="url(#cyb)"/><rect x="401.24" y="558.97" width="4.16" height="16" fill="url(#cyb)"/><rect x="401.24" y="601.35" width="4.16" height="16" fill="url(#cyb)"/><rect x="407.28" y="558.97" width="3.82" height="16" fill="url(#cyb)"/><rect x="407.28" y="601.35" width="3.82" height="16" fill="url(#cyb)"/><path d="M63.1 564.7h1M68.5 569.1h1M55.1 562.2h1M68.8 562.7h1M70.9 566.6h1M77.1 566.4h1M52.0 565.3h1M73.6 565.2h1M52.9 565.5h1M58.6 570.9h1M52.0 573.1h1M66.8 573.9h1M62.2 569.8h1M67.5 566.7h1M62.9 570.8h1M64.0 577.5h1M68.4 563.9h1M51.9 562.8h1M68.0 562.0h1M55.5 563.3h1M71.0 563.5h1M49.9 575.3h1M70.2 567.3h1M68.9 577.2h1M73.4 562.2h1M72.7 568.4h1M71.5 570.2h1M55.4 566.9h1M73.7 567.4h1M77.5 570.3h1M53.2 567.4h1M68.2 564.7h1M62.6 569.8h1M76.8 569.8h1M76.4 574.2h1M73.4 570.9h1M78.8 567.2h1M55.1 567.7h1M63.4 561.7h1M70.7 566.5h1M75.6 570.4h1M77.1 558.8h1M72.7 566.7h1M59.6 562.6h1M68.9 554.4h1M61.5 571.1h1M50.7 562.6h1M78.1 563.5h1M57.9 570.3h1M61.2 573.3h1M51.5 570.3h1M68.3 568.4h1M63.2 560.1h1M71.7 573.1h1M60.3 561.6h1M68.3 568.7h1M68.5 567.4h1M74.0 555.8h1M62.3 568.3h1M77.8 564.1h1M76.2 561.4h1M73.8 567.4h1M51.9 566.8h1M72.6 573.6h1M71.0 571.5h1M60.8 571.5h1M52.8 564.2h1M50.4 567.6h1M67.4 570.3h1M64.0 574.6h1M57.7 566.0h1M71.1 569.2h1M68.7 563.0h1M52.3 572.7h1M58.6 572.0h1M54.1 570.4h1M70.3 555.6h1M69.2 571.9h1M79.5 573.0h1M59.6 564.0h1M66.5 567.9h1M70.9 570.1h1M53.1 571.1h1M74.3 566.3h1M67.9 557.3h1M55.3 560.8h1M55.0 569.8h1M49.8 569.7h1M57.3 566.2h1M53.7 561.6h1M62.5 563.9h1M51.0 562.7h1M51.4 568.7h1M56.6 569.0h1M76.9 564.7h1M79.1 564.1h1M55.3 571.3h1M55.5 575.6h1M76.8 563.4h1M56.1 564.1h1M77.6 573.3h1M56.8 570.7h1M75.1 565.5h1M64.2 564.4h1M75.9 567.7h1M73.7 563.8h1M58.8 572.7h1M73.3 569.3h1M72.5 566.9h1M53.6 565.4h1M71.7 563.8h1M59.6 565.2h1M51.1 558.5h1M75.0 563.9h1M55.5 567.8h1M55.5 565.4h1M82.6 569.5h1M93.7 566.0h1M87.8 567.2h1M101.6 564.5h1M92.7 569.7h1M95.2 564.1h1M98.4 564.7h1M93.1 567.1h1M91.4 565.6h1M109.5 574.2h1M92.4 563.1h1M85.5 565.6h1M105.8 569.9h1M101.5 564.4h1M89.5 567.3h1M84.8 572.6h1M96.2 571.4h1M103.7 560.8h1M105.8 565.4h1M92.9 567.5h1M102.9 567.9h1M90.2 567.4h1M86.2 565.6h1M97.9 564.4h1M82.5 564.6h1M87.0 571.7h1M100.6 575.3h1M94.3 569.7h1M103.5 570.1h1M88.5 559.0h1M90.6 566.8h1M97.3 568.9h1M90.6 577.5h1M98.0 561.1h1M87.9 564.6h1M98.8 574.3h1M110.7 561.8h1M106.9 573.3h1M88.2 560.9h1M86.9 567.3h1M109.1 571.8h1M103.0 571.3h1M93.2 570.8h1M88.0 575.9h1M108.9 560.9h1M107.8 562.4h1M98.7 572.6h1M95.0 564.3h1M110.0 570.1h1M83.0 565.2h1M99.6 569.7h1M81.7 565.7h1M84.7 568.4h1M93.4 571.8h1M106.4 566.0h1M93.4 570.0h1M85.7 567.4h1M82.4 566.8h1M95.3 569.1h1M97.4 569.0h1M91.9 565.0h1M96.4 569.8h1M106.7 566.2h1M82.7 568.8h1M100.9 569.8h1M97.8 558.6h1M95.1 562.1h1M95.8 572.0h1M87.0 570.6h1M88.8 566.9h1M92.3 569.5h1M95.6 564.9h1M98.0 573.4h1M105.1 563.9h1M89.7 564.8h1M89.8 563.4h1M91.8 562.8h1M109.2 565.3h1M96.8 566.3h1M106.7 565.3h1M99.3 566.2h1M107.0 570.3h1M103.6 570.3h1M91.0 567.9h1M95.3 567.5h1M107.2 565.7h1M110.6 577.5h1M103.2 566.3h1M108.8 556.4h1M102.7 572.1h1M86.5 566.0h1M98.0 568.7h1M103.7 568.8h1M103.0 568.5h1M86.5 570.4h1M92.0 564.2h1M97.1 575.6h1M88.0 570.5h1M95.8 564.1h1M100.2 573.9h1M88.3 563.5h1M84.3 569.7h1M101.8 566.6h1M109.8 566.0h1M88.2 567.6h1M93.4 555.7h1M97.2 567.1h1M102.1 567.9h1M83.1 562.4h1M84.8 568.7h1M109.5 567.4h1M84.6 575.8h1M94.5 563.7h1M127.6 569.6h1M120.2 560.3h1M131.5 565.2h1M125.8 561.4h1M115.5 553.4h1M130.0 564.5h1M121.1 571.3h1M119.4 568.0h1M129.5 566.6h1M132.4 560.3h1M131.6 568.7h1M117.2 564.8h1M128.5 562.2h1M135.3 565.7h1M118.5 563.2h1M120.6 570.4h1M114.8 563.4h1M126.8 562.0h1M124.6 557.7h1M128.2 562.0h1M133.7 563.9h1M112.4 571.1h1M130.1 565.6h1M113.5 564.6h1M134.7 575.4h1M113.1 568.5h1M116.5 566.3h1M127.9 571.8h1M124.6 569.2h1M115.9 570.1h1M126.3 569.5h1M127.2 562.7h1M121.3 564.8h1M126.0 569.2h1M128.8 562.8h1M130.6 565.7h1M134.8 570.3h1M135.4 566.0h1M116.8 567.2h1M135.5 569.8h1M134.2 563.9h1M112.9 566.3h1M134.9 567.7h1M132.3 571.2h1M129.3 571.6h1M135.1 560.7h1M126.3 566.9h1M130.8 558.9h1M121.5 568.4h1M115.7 560.8h1M133.1 570.9h1M113.3 571.7h1M123.2 568.5h1M129.3 569.2h1M123.8 570.2h1M135.0 563.5h1M118.0 570.0h1M117.4 568.7h1M114.9 561.1h1M112.9 576.6h1M115.1 568.6h1M130.5 571.6h1M115.9 561.3h1M119.9 568.2h1M124.7 575.5h1M113.2 568.8h1M112.8 566.1h1M116.3 567.3h1M126.3 557.6h1M132.5 566.1h1M131.4 566.5h1M121.8 563.5h1M123.7 570.5h1M112.7 561.4h1M125.8 558.9h1M117.4 561.6h1M113.5 570.4h1M134.2 566.0h1M123.3 576.7h1M120.4 569.6h1M113.1 569.2h1M135.0 566.8h1M122.6 561.0h1M129.2 565.7h1M114.7 569.0h1M133.6 571.1h1M120.4 567.3h1M115.0 568.3h1M141.4 567.7h1M149.1 566.6h1M158.3 565.2h1M139.8 575.0h1M148.4 566.6h1M143.8 569.5h1M159.0 562.1h1M138.1 563.7h1M158.0 575.9h1M137.0 564.6h1M142.1 567.4h1M153.7 566.7h1M151.8 566.1h1M156.1 574.2h1M143.2 562.0h1M138.4 559.8h1M147.5 571.1h1M157.0 565.6h1M138.0 573.0h1M137.6 572.8h1M144.1 564.4h1M154.4 574.7h1M159.6 564.5h1M142.6 561.6h1M156.5 566.3h1M141.6 569.6h1M148.0 560.3h1M159.5 567.4h1M151.3 573.0h1M146.8 562.7h1M141.0 551.8h1M145.2 565.4h1M157.0 562.8h1M146.7 573.2h1M138.1 566.9h1M137.4 570.7h1M148.0 564.6h1M150.5 569.9h1M148.7 570.3h1M141.4 562.1h1M155.0 570.8h1M147.0 565.6h1M139.8 563.7h1M154.8 567.6h1M142.6 569.9h1M148.3 577.4h1M139.6 576.7h1M145.4 560.4h1M149.1 568.2h1M150.0 570.0h1M153.1 570.8h1M144.2 569.1h1M155.3 568.1h1M156.0 577.1h1M155.9 564.8h1M153.4 564.2h1M149.7 565.1h1M154.6 562.5h1M150.4 569.2h1M159.0 566.7h1M145.3 573.6h1M146.5 564.3h1M137.1 569.1h1M159.1 560.4h1M139.0 570.4h1M143.8 562.7h1M156.1 564.4h1M151.8 565.8h1M143.5 566.5h1M148.3 570.1h1M159.4 571.6h1M158.5 567.3h1M159.0 566.7h1M151.7 566.7h1M151.5 571.5h1M141.7 567.1h1M154.5 566.2h1M158.7 561.4h1M147.1 562.2h1M147.6 564.3h1M151.0 566.5h1M154.2 566.3h1M177.9 565.3h1M169.4 570.6h1M179.6 571.3h1M170.8 566.4h1M180.5 571.2h1M164.9 569.3h1M169.7 572.3h1M170.2 564.4h1M162.8 566.7h1M162.4 565.0h1M180.5 567.9h1M179.5 568.2h1M174.4 567.1h1M169.3 568.5h1M166.2 568.3h1M168.7 569.2h1M175.8 557.6h1M181.1 571.9h1M165.7 571.1h1M166.1 562.4h1M181.6 562.0h1M167.2 566.6h1M175.7 568.5h1M171.0 564.4h1M163.2 563.5h1M164.0 574.2h1M163.8 571.0h1M175.0 568.8h1M169.9 563.7h1M173.4 566.7h1M175.7 564.9h1M179.4 564.5h1M179.6 570.9h1M181.6 572.4h1M181.4 560.4h1M172.6 574.4h1M168.6 566.7h1M173.4 560.0h1M176.4 563.8h1M181.2 564.0h1M176.3 567.7h1M176.7 562.6h1M166.4 561.3h1M180.3 568.0h1M177.2 566.1h1M168.8 569.3h1M172.6 564.6h1M174.4 573.1h1M167.5 566.4h1M169.5 568.0h1M161.7 567.4h1M177.8 557.7h1M179.6 573.9h1M179.6 558.7h1M177.2 563.5h1M170.6 569.2h1M178.4 563.8h1M162.8 569.3h1M178.7 569.3h1M181.6 566.8h1M171.8 561.2h1M177.6 566.5h1M177.7 570.6h1M171.4 569.9h1M166.6 567.8h1M174.3 571.7h1M179.4 566.8h1M173.7 572.3h1M166.0 574.5h1M174.1 569.6h1M178.1 558.4h1M165.0 566.8h1M174.5 561.6h1M172.0 564.8h1M179.4 560.9h1M177.1 569.7h1M171.6 566.5h1M164.1 567.3h1M162.7 571.6h1M161.9 566.6h1M169.3 567.8h1M176.8 577.5h1M165.7 565.1h1M194.9 558.5h1M203.3 565.7h1M201.5 570.6h1M189.3 571.0h1M189.0 573.4h1M191.5 563.6h1M190.9 559.6h1M203.3 570.4h1M198.3 559.5h1M194.2 573.3h1M193.1 566.8h1M185.5 568.1h1M202.8 572.1h1M194.2 561.8h1M199.4 568.9h1M201.5 566.5h1M202.1 567.1h1M185.9 564.7h1M203.5 565.9h1M191.9 573.2h1M185.2 567.8h1M204.2 563.3h1M186.2 553.0h1M189.3 565.2h1M183.8 569.0h1M202.7 567.5h1M196.6 561.4h1M191.0 566.2h1M192.0 574.3h1M201.5 574.2h1M191.3 574.2h1M189.6 564.2h1M203.5 566.4h1M198.7 568.9h1M192.2 575.1h1M200.6 566.0h1M185.3 566.2h1M191.0 564.2h1M200.3 569.6h1M195.7 576.5h1M185.7 569.3h1M190.1 565.2h1M187.5 567.0h1M196.9 571.2h1M185.7 563.4h1M193.9 565.1h1M204.3 564.3h1M194.5 564.2h1M193.8 568.7h1M195.1 573.7h1M203.8 569.8h1M190.3 565.2h1M203.9 570.9h1M204.2 570.1h1M203.6 561.1h1M183.8 555.4h1M183.9 570.1h1M187.6 561.8h1M204.0 569.5h1M191.1 560.5h1M195.2 562.6h1M184.0 565.2h1M203.8 567.5h1M193.1 564.0h1M192.3 568.1h1M190.9 572.0h1M191.2 574.2h1M193.5 558.8h1M221.2 550.5h1M221.2 573.4h1M206.5 569.5h1M222.1 575.0h1M218.7 561.4h1M211.4 550.9h1M211.3 551.5h1M211.3 570.4h1M219.7 568.2h1M219.7 547.2h1M208.6 561.8h1M209.5 554.1h1M213.2 574.2h1M209.9 576.4h1M209.9 565.8h1M212.9 557.2h1M212.9 557.7h1M211.1 574.4h1M218.8 552.8h1M218.7 570.2h1M207.0 568.0h1M217.7 558.1h1M207.3 559.2h1M214.9 548.2h1M214.9 567.8h1M210.4 575.9h1M213.3 549.1h1M221.3 549.0h1M216.5 558.1h1M216.5 576.5h1M206.2 551.2h1M206.2 544.1h1M207.6 544.3h1M207.6 554.8h1M222.1 548.9h1M222.1 544.2h1M210.6 567.2h1M216.3 571.4h1M216.3 544.5h1M219.6 561.8h1M206.2 570.8h1M219.8 544.2h1M220.9 557.1h1M224.5 563.9h1M216.5 543.7h1M216.5 565.6h1M206.6 563.2h1M205.8 561.2h1M211.3 558.2h1M211.3 569.0h1M224.1 560.2h1M224.1 569.9h1M224.1 556.2h1M212.6 576.5h1M212.6 574.2h1M207.8 562.8h1M213.2 570.4h1M220.0 574.5h1M220.0 555.8h1M211.6 558.3h1M221.2 555.0h1M221.2 550.1h1M224.0 563.6h1M224.0 552.6h1M209.6 547.0h1M209.6 556.9h1M212.6 545.8h1M214.5 573.7h1M214.8 551.8h1M214.8 547.0h1M214.2 557.0h1M215.8 560.6h1M206.3 565.4h1M208.6 543.4h1M208.6 576.1h1M223.3 561.1h1M223.3 572.0h1M214.0 563.8h1M214.0 572.6h1M220.6 545.3h1M209.7 563.9h1M209.1 546.0h1M213.9 543.3h1M213.9 558.8h1M209.9 576.5h1M212.5 546.1h1M210.2 575.5h1M210.2 554.4h1M207.7 569.1h1M207.7 555.9h1M222.5 560.9h1M222.5 545.9h1M212.6 563.2h1M216.1 546.2h1M206.5 550.8h1M206.5 547.3h1M221.7 569.3h1M221.7 555.6h1M215.0 546.2h1M215.0 572.3h1M210.7 569.5h1M210.7 557.9h1M222.5 560.5h1M214.9 561.8h1M208.7 553.1h1M220.7 552.3h1M222.6 561.4h1M222.6 544.5h1M206.9 575.7h1M206.9 571.0h1M206.8 575.9h1M208.8 565.8h1M208.8 573.9h1M224.5 559.2h1M224.5 563.2h1M218.0 551.7h1M218.7 555.2h1M218.7 576.9h1M210.9 554.1h1M210.9 552.4h1M209.0 543.3h1M205.9 556.6h1M209.3 576.1h1M221.5 562.7h1M218.4 565.4h1M218.4 576.0h1M211.6 554.7h1M216.4 547.5h1M216.4 550.2h1M209.6 551.0h1M211.4 553.2h1M211.4 560.3h1M217.5 552.6h1M217.5 559.2h1M215.2 558.1h1M215.2 549.7h1M211.7 555.5h1M238.1 569.6h1M241.7 559.2h1M238.1 562.4h1M226.0 560.2h1M228.7 570.1h1M231.6 571.1h1M227.9 562.0h1M227.3 575.0h1M233.1 564.0h1M233.3 564.1h1M226.6 569.6h1M241.7 565.5h1M238.7 570.7h1M227.8 562.9h1M241.7 572.0h1M241.7 572.5h1M225.9 560.4h1M239.6 564.6h1M226.9 572.8h1M237.2 572.8h1M241.9 566.6h1M228.9 567.7h1M235.5 559.9h1M239.3 570.2h1M235.6 561.8h1M236.4 559.5h1M239.6 571.6h1M235.4 562.0h1M240.5 567.9h1M237.0 575.6h1M241.7 564.7h1M234.1 566.9h1M229.1 568.8h1M231.7 572.9h1M239.2 563.4h1M242.9 562.7h1M232.0 576.1h1M236.8 569.4h1M227.2 570.7h1M240.2 569.1h1M240.1 567.0h1M241.5 572.1h1M236.9 564.5h1M231.9 566.8h1M227.1 569.3h1M233.3 567.9h1M241.6 565.1h1M233.2 562.7h1M230.6 558.6h1M233.7 561.2h1M239.1 566.3h1M238.7 565.6h1M241.8 562.9h1M238.9 566.9h1M234.4 566.3h1M234.5 568.6h1M236.0 563.6h1M240.5 565.3h1M231.4 568.7h1M239.8 563.3h1M233.4 577.0h1M240.1 568.2h1M232.5 565.6h1M231.8 576.5h1M240.8 562.7h1M235.3 565.1h1M249.8 552.4h1M249.8 552.2h1M246.2 570.9h1M245.3 565.4h1M245.8 557.2h1M259.6 557.6h1M256.2 554.2h1M256.2 568.6h1M246.9 572.3h1M246.9 558.8h1M255.6 560.5h1M255.6 543.9h1M255.3 562.9h1M255.4 543.4h1M257.6 556.6h1M256.1 576.5h1M245.5 567.7h1M258.1 544.3h1M248.7 575.9h1M257.3 565.0h1M245.2 559.9h1M245.2 549.6h1M247.1 556.0h1M256.4 569.2h1M256.5 561.4h1M256.5 569.6h1M247.5 550.3h1M247.9 567.8h1M244.3 560.9h1M244.3 555.4h1M249.1 544.9h1M249.1 560.4h1M257.3 549.3h1M257.9 571.6h1M258.4 549.8h1M258.4 551.3h1M246.8 543.5h1M259.0 575.1h1M256.0 571.6h1M258.8 559.9h1M258.8 552.8h1M247.1 545.4h1M247.1 571.3h1M248.9 571.2h1M247.6 557.6h1M247.6 576.3h1M249.8 544.6h1M249.8 559.0h1M247.5 546.9h1M247.5 557.6h1M249.0 575.9h1M249.0 558.6h1M260.8 574.5h1M260.8 545.9h1M257.6 546.1h1M255.9 565.5h1M260.4 551.4h1M249.3 569.9h1M245.7 561.1h1M244.7 575.7h1M256.3 551.8h1M256.3 548.5h1M248.8 556.4h1M248.3 554.3h1M244.8 554.5h1M244.8 554.7h1M255.6 544.1h1M254.5 563.6h1M247.3 566.0h1M247.3 572.7h1M256.3 564.8h1M256.3 561.3h1M245.8 555.2h1M245.8 550.0h1M257.0 566.4h1M257.5 560.5h1M257.5 563.9h1M256.1 558.5h1M256.7 572.1h1M256.7 560.5h1M248.2 547.9h1M259.9 558.7h1M255.0 557.5h1M244.5 556.2h1M244.5 568.8h1M249.0 565.6h1M260.6 544.5h1M260.6 575.3h1M247.7 550.5h1M257.0 548.2h1M245.8 563.4h1M257.3 546.5h1M250.0 576.8h1M266.7 559.4h1M266.7 571.1h1M271.6 561.8h1M268.5 563.5h1M268.5 546.2h1M262.9 544.6h1M272.7 556.3h1M263.8 561.0h1M263.8 565.0h1M264.3 565.0h1M267.2 545.9h1M267.2 568.5h1M273.1 547.5h1M273.1 556.5h1M265.2 557.1h1M270.2 572.7h1M270.2 574.1h1M273.4 546.0h1M273.7 568.1h1M273.9 556.0h1M265.3 557.4h1M271.7 572.4h1M274.1 570.9h1M274.1 547.7h1M274.6 551.1h1M274.6 576.3h1M267.1 549.3h1M267.1 554.8h1M265.1 546.2h1M275.6 560.5h1M273.3 554.4h1M269.0 552.0h1M269.0 574.7h1M266.1 544.8h1M269.9 562.0h1M269.9 543.7h1M269.6 555.6h1M269.6 546.2h1M272.5 552.0h1M269.3 555.5h1M269.3 562.8h1M267.6 576.9h1M267.6 553.3h1M268.7 570.0h1M267.3 570.5h1M267.3 558.1h1M271.0 573.2h1M262.7 544.2h1M262.7 546.7h1M263.8 565.2h1M263.6 564.0h1M263.6 546.7h1M268.1 573.6h1M269.1 566.2h1M267.4 561.2h1M267.4 553.6h1M271.4 569.1h1M275.0 548.3h1M275.0 545.7h1M274.5 559.2h1M274.5 576.5h1M266.0 568.8h1M266.0 549.9h1M273.5 547.7h1M273.5 560.7h1M266.4 568.2h1M267.1 573.8h1M267.1 551.1h1M267.1 548.0h1M276.3 573.2h1M276.3 545.6h1M262.5 546.9h1M262.5 573.4h1M272.4 551.8h1M276.1 554.9h1M269.5 543.5h1M269.5 547.6h1M266.3 573.1h1M266.8 576.5h1M276.4 559.2h1M276.4 566.4h1M269.3 543.7h1M273.5 574.6h1M263.5 549.2h1M265.7 564.5h1M265.7 547.6h1M267.4 572.9h1M267.4 561.3h1M265.1 554.5h1M271.8 549.1h1M271.8 556.5h1M273.5 570.7h1M266.9 557.6h1M266.9 552.5h1M263.5 568.4h1M263.5 560.4h1M273.4 556.5h1M273.4 576.0h1M276.9 555.6h1M276.9 551.7h1M277.7 554.1h1M277.7 572.7h1M272.3 566.0h1M272.3 576.2h1M264.9 555.0h1M264.9 549.5h1M269.8 562.4h1M269.8 548.4h1M278.1 546.9h1M271.7 571.7h1M262.6 563.4h1M265.1 565.7h1M265.1 571.8h1M269.3 558.5h1M266.3 550.7h1M275.6 556.0h1M275.6 555.2h1M263.3 548.1h1M263.3 562.3h1M265.4 560.0h1M265.4 553.6h1M291.9 571.2h1M279.5 565.2h1M282.6 568.9h1M286.5 566.2h1M288.7 557.5h1M291.1 567.8h1M286.0 555.2h1M285.1 562.7h1M293.9 568.3h1M283.2 563.5h1M283.1 563.2h1M293.9 565.8h1M282.7 568.6h1M291.3 569.3h1M295.0 554.0h1M293.5 570.7h1M294.5 573.8h1M279.8 571.8h1M285.1 560.3h1M288.5 575.9h1M286.5 569.1h1M294.5 568.2h1M293.0 568.4h1M293.9 570.4h1M294.8 568.1h1M293.5 564.8h1M282.5 572.2h1M292.2 566.7h1M280.9 567.6h1M292.4 568.5h1M295.0 565.3h1M294.0 561.7h1M293.4 568.8h1M281.6 572.4h1M293.5 576.8h1M287.3 564.1h1M290.0 567.0h1M290.3 567.5h1M281.9 560.7h1M281.2 570.7h1M281.3 567.1h1M287.2 567.6h1M292.4 569.2h1M279.7 571.2h1M285.9 566.0h1M288.6 569.2h1M280.1 558.5h1M291.5 574.0h1M280.3 558.9h1M279.6 573.4h1M295.0 565.3h1M294.0 562.7h1M286.1 570.3h1M291.3 568.7h1M285.6 562.1h1M288.8 566.5h1M290.0 560.7h1M309.3 567.9h1M298.5 569.5h1M310.4 562.6h1M303.3 565.9h1M299.3 563.5h1M302.3 564.1h1M310.7 569.2h1M300.7 566.8h1M305.0 567.1h1M297.9 571.6h1M307.3 568.5h1M304.8 561.4h1M302.2 560.0h1M301.8 570.3h1M302.2 565.6h1M304.5 570.5h1M296.9 572.5h1M296.7 569.7h1M308.2 569.4h1M304.4 569.5h1M298.1 564.2h1M297.4 557.4h1M302.5 569.8h1M308.5 571.1h1M302.6 569.9h1M296.9 565.0h1M308.8 569.0h1M302.9 560.4h1M304.9 563.2h1M309.8 572.9h1M306.6 564.8h1M296.5 561.5h1M296.6 567.5h1M305.0 572.5h1M303.7 563.6h1M305.5 567.4h1M296.6 566.1h1M306.0 565.1h1M310.3 577.5h1M310.9 566.2h1M307.9 569.0h1M296.7 570.0h1M302.6 568.0h1M297.8 565.0h1M309.8 559.1h1M300.4 565.0h1M309.5 572.9h1M305.0 565.0h1M296.9 564.5h1M309.9 572.0h1M298.2 564.2h1M301.3 557.1h1M301.0 569.0h1M306.6 566.0h1M305.4 574.9h1M310.8 567.2h1M322.9 565.1h1M317.8 564.0h1M325.6 566.8h1M319.6 569.1h1M317.5 560.0h1M316.8 565.8h1M316.4 570.4h1M319.8 577.0h1M317.6 570.6h1M318.4 559.9h1M324.6 573.4h1M323.7 571.6h1M320.4 573.5h1M323.2 555.1h1M321.1 568.7h1M316.0 570.0h1M320.7 565.5h1M316.2 570.7h1M315.7 570.8h1M317.3 565.9h1M325.2 570.3h1M322.0 558.6h1M323.8 565.7h1M324.0 565.3h1M320.4 567.0h1M319.6 562.9h1M318.2 569.7h1M320.0 568.3h1M324.1 570.4h1M320.7 573.0h1M321.0 567.4h1M335.7 568.4h1M335.7 553.8h1M331.0 557.2h1M337.1 572.6h1M337.1 563.1h1M336.2 556.3h1M337.5 574.2h1M338.7 554.4h1M338.7 556.7h1M339.6 551.3h1M333.8 561.1h1M335.7 564.7h1M329.3 563.6h1M329.3 546.1h1M337.3 572.8h1M337.3 573.5h1M329.8 560.7h1M333.8 556.3h1M337.9 546.0h1M337.9 553.8h1M331.2 559.7h1M340.0 551.7h1M340.0 543.4h1M334.9 566.1h1M334.9 571.3h1M339.3 567.8h1M339.3 556.7h1M335.3 553.1h1M331.8 552.1h1M331.8 557.9h1M332.5 576.8h1M332.5 573.1h1M331.1 566.5h1M337.2 561.7h1M328.8 555.8h1M328.8 572.9h1M330.4 560.3h1M334.5 559.4h1M329.8 556.6h1M331.9 562.8h1M330.2 545.3h1M329.2 563.2h1M336.7 565.9h1M331.6 571.0h1M331.6 544.6h1M335.2 559.8h1M336.9 567.9h1M329.3 547.8h1M335.8 555.9h1M334.5 543.3h1M334.5 545.2h1M336.5 558.4h1M336.5 569.0h1M331.2 558.3h1M331.2 560.7h1M332.4 555.6h1M330.2 570.6h1M337.6 544.3h1M336.1 549.6h1M336.1 572.0h1M329.2 563.9h1M329.2 561.5h1M332.0 573.4h1M334.0 543.4h1M334.0 563.2h1M335.9 549.8h1M334.7 566.5h1M332.0 553.9h1M328.7 571.0h1M344.1 570.3h1M344.1 559.0h1M342.7 571.9h1M349.6 544.9h1M349.6 574.5h1M347.6 571.1h1M347.0 547.4h1M348.0 565.4h1M348.0 547.9h1M350.6 555.8h1M347.8 555.3h1M342.8 574.4h1M342.8 555.3h1M347.4 571.5h1M344.6 546.7h1M344.6 565.6h1M346.0 561.7h1M350.7 552.6h1M350.7 545.6h1M349.6 544.3h1M349.6 553.1h1M348.8 569.1h1M346.9 561.8h1M345.9 556.0h1M345.9 555.0h1M348.5 556.9h1M348.5 553.5h1M347.6 546.7h1M347.6 571.1h1M345.6 550.4h1M349.0 554.8h1M351.7 556.6h1M351.7 558.7h1M345.2 557.6h1M345.2 565.5h1M343.1 551.3h1M343.1 556.9h1M351.2 567.8h1M351.2 577.0h1M342.5 566.4h1M349.1 546.1h1M349.1 554.1h1M350.5 562.6h1M350.5 550.7h1M349.7 556.4h1M349.7 552.8h1M346.8 562.7h1M348.2 557.5h1M349.4 554.4h1M349.4 544.5h1M351.6 567.3h1M351.6 550.9h1M346.8 557.2h1M346.8 566.1h1M351.6 553.6h1M345.2 566.7h1M345.2 549.4h1M345.2 571.4h1M348.4 567.5h1M345.3 564.3h1M349.6 566.2h1M349.6 565.8h1M350.3 556.8h1M350.3 563.8h1M345.1 572.0h1M345.1 555.2h1M345.5 550.5h1M347.9 558.5h1M347.9 564.8h1M351.5 545.8h1M346.0 546.3h1M346.0 569.9h1M354.8 565.7h1M362.6 560.9h1M357.8 569.5h1M357.6 567.2h1M354.7 566.5h1M355.9 569.4h1M363.0 570.7h1M358.3 569.9h1M359.6 567.5h1M356.8 572.2h1M358.5 566.5h1M355.1 560.2h1M357.3 567.2h1M358.0 570.6h1M353.9 566.6h1M360.8 564.0h1M353.9 566.1h1M356.0 569.7h1M359.5 563.2h1M355.6 565.5h1M360.9 560.6h1M355.7 572.7h1M362.2 563.5h1M356.0 572.0h1M360.0 563.9h1M360.8 571.6h1M362.9 565.1h1M363.5 554.7h1M355.1 571.6h1M363.0 572.2h1M354.2 570.6h1M358.6 568.3h1M354.6 571.8h1M356.3 562.3h1M360.8 574.0h1M361.3 570.9h1M373.0 560.0h1M370.2 570.2h1M368.2 564.7h1M365.7 565.7h1M366.8 566.1h1M365.6 565.2h1M370.9 562.2h1M370.5 569.8h1M365.1 566.2h1M369.7 571.2h1M367.5 570.2h1M373.1 566.4h1M367.0 563.4h1M369.3 561.8h1M369.0 566.1h1M365.8 561.9h1M370.8 571.4h1M371.1 570.5h1M368.0 576.1h1M365.6 564.0h1M365.9 563.5h1M365.0 571.1h1M365.1 572.9h1M367.0 562.8h1M369.4 569.7h1M370.5 568.7h1M368.0 560.5h1M368.7 571.3h1M368.4 569.1h1M368.9 562.3h1M368.3 565.1h1M378.1 576.0h1M379.9 559.7h1M378.1 574.6h1M381.3 558.1h1M374.8 575.1h1M378.7 565.7h1M374.7 573.4h1M375.2 568.0h1M375.0 570.4h1M377.8 567.7h1M379.2 574.1h1M382.1 565.3h1M381.0 567.8h1M375.6 568.4h1M375.6 570.9h1M382.7 572.2h1M375.3 561.5h1M381.0 568.7h1M378.3 569.1h1M381.4 564.9h1M381.7 565.5h1M376.5 572.6h1M381.4 563.2h1M382.4 577.5h1M376.1 566.9h1M377.7 560.7h1M379.9 571.2h1M381.6 566.9h1M378.6 566.7h1M380.4 566.1h1M378.1 569.9h1M382.6 566.4h1M390.0 571.7h1M389.7 564.8h1M389.6 570.6h1M387.1 560.3h1M388.9 562.5h1M385.9 571.8h1M384.6 563.0h1M390.6 568.1h1M388.1 560.6h1M386.8 575.5h1M385.0 563.5h1M388.2 567.4h1M387.2 568.3h1M384.9 565.8h1M388.4 567.3h1M387.4 574.3h1M390.1 568.0h1M388.8 568.9h1M393.0 567.0h1M392.6 560.8h1M393.4 561.8h1M396.3 563.6h1M394.3 564.4h1M396.1 573.1h1M398.2 572.0h1M394.5 569.6h1M392.6 572.5h1M392.5 573.3h1M398.4 562.8h1M395.8 571.4h1M395.1 558.7h1M393.1 563.6h1M396.2 567.0h1M393.8 569.8h1M398.0 559.5h1M392.4 567.6h1M393.1 568.7h1M392.7 574.7h1M398.1 561.6h1M398.9 559.6h1M396.8 565.5h1M393.7 569.5h1M397.1 565.5h1M394.2 568.3h1M394.3 565.1h1M393.3 571.1h1M396.3 561.9h1M395.9 562.3h1M397.1 565.8h1M391.8 557.8h1M404.1 565.6h1M403.6 564.5h1M404.5 569.0h1M403.0 567.9h1M402.0 565.8h1M403.6 568.5h1M404.0 568.4h1M401.5 570.0h1M403.0 566.9h1M404.6 568.8h1M401.3 566.1h1M403.5 569.2h1M403.1 570.6h1M404.2 562.8h1M403.3 565.2h1M404.3 564.0h1M404.6 575.4h1M403.6 572.9h1M409.6 564.1h1M408.4 564.7h1M407.3 565.9h1M410.8 569.5h1M410.3 568.2h1M408.6 566.2h1M407.9 567.8h1M409.1 570.7h1M409.8 571.1h1M410.1 569.3h1M409.0 568.5h1" stroke="#b4dde8" stroke-width="1" fill="none"/><path d="M63.1 607.9h1M68.5 603.3h1M79.3 607.9h1M61.5 609.2h1M77.1 604.1h1M52.0 611.3h1M55.8 612.4h1M52.0 612.4h1M66.8 605.1h1M67.5 601.7h1M68.0 610.1h1M79.2 608.2h1M76.8 607.4h1M51.9 607.8h1M55.4 604.9h1M71.0 610.4h1M68.4 610.3h1M49.9 610.2h1M70.2 608.8h1M53.3 607.2h1M76.1 608.0h1M73.4 611.6h1M72.7 606.9h1M70.3 605.9h1M71.5 603.4h1M76.8 608.3h1M55.4 608.4h1M53.2 605.9h1M68.2 612.1h1M76.4 613.9h1M55.1 608.8h1M54.9 618.9h1M63.4 608.8h1M70.7 605.1h1M75.6 608.5h1M72.7 608.7h1M68.9 604.8h1M61.5 618.5h1M78.8 603.6h1M50.7 608.2h1M78.1 606.3h1M57.9 613.2h1M71.3 604.1h1M63.2 619.7h1M60.3 604.1h1M56.9 608.8h1M68.5 601.3h1M53.0 613.6h1M62.3 604.9h1M51.8 606.1h1M60.2 618.0h1M77.2 612.8h1M77.8 612.3h1M55.2 612.5h1M76.2 615.3h1M73.8 608.6h1M51.9 610.7h1M72.6 602.8h1M60.8 609.1h1M67.4 605.7h1M74.2 599.3h1M64.0 604.4h1M57.7 604.2h1M71.1 612.8h1M58.6 606.8h1M54.1 608.5h1M69.2 607.5h1M79.5 613.0h1M66.5 614.6h1M70.9 609.7h1M53.1 605.0h1M74.3 605.7h1M73.4 609.8h1M67.9 613.3h1M71.1 614.9h1M55.3 612.9h1M63.4 616.2h1M67.6 602.3h1M78.0 603.0h1M49.8 611.7h1M72.2 602.3h1M62.5 613.1h1M51.0 605.8h1M51.4 611.4h1M75.7 616.2h1M76.9 609.3h1M58.4 605.9h1M55.5 613.5h1M76.8 600.0h1M60.7 607.7h1M77.6 608.9h1M50.7 607.8h1M50.3 611.6h1M69.0 604.4h1M56.5 602.1h1M64.2 605.5h1M75.9 611.2h1M73.7 606.4h1M58.8 614.9h1M73.3 609.1h1M53.6 616.5h1M71.7 613.0h1M51.1 606.3h1M75.0 614.2h1M55.5 612.0h1M57.3 606.1h1M81.6 610.0h1M82.6 612.9h1M100.9 603.0h1M87.8 605.6h1M105.2 605.4h1M101.6 608.0h1M92.7 611.8h1M95.2 613.0h1M98.4 611.9h1M93.1 612.2h1M85.5 605.3h1M88.2 607.6h1M101.5 605.6h1M89.5 611.6h1M84.8 602.5h1M95.4 608.3h1M96.2 605.7h1M105.8 614.9h1M92.9 612.7h1M102.9 605.3h1M110.3 607.2h1M86.2 611.9h1M97.9 609.8h1M87.0 614.3h1M94.3 612.9h1M81.3 611.9h1M88.5 605.2h1M97.3 613.0h1M96.0 612.1h1M103.5 613.9h1M87.3 604.7h1M98.0 605.6h1M87.9 606.1h1M110.6 618.5h1M88.0 602.8h1M110.7 605.0h1M106.9 606.8h1M88.2 605.2h1M86.9 614.8h1M99.0 610.8h1M88.0 604.4h1M108.9 611.1h1M94.2 607.5h1M87.3 612.4h1M81.7 605.9h1M84.7 616.4h1M93.4 611.4h1M90.8 600.3h1M92.8 613.4h1M95.3 608.1h1M97.4 613.8h1M103.4 600.4h1M91.9 607.4h1M96.4 610.6h1M82.7 606.7h1M108.9 604.2h1M108.4 611.9h1M94.4 615.3h1M95.8 606.8h1M87.0 608.8h1M106.2 608.4h1M92.3 608.0h1M105.1 608.1h1M103.9 615.7h1M89.7 606.2h1M89.8 608.5h1M107.1 604.8h1M102.9 618.6h1M100.6 612.6h1M110.6 614.7h1M110.4 604.4h1M96.8 615.6h1M95.5 611.7h1M99.3 609.1h1M107.0 603.7h1M93.2 604.9h1M91.0 611.2h1M95.3 606.2h1M101.2 610.2h1M110.6 614.2h1M104.4 611.7h1M85.3 607.0h1M102.7 610.9h1M86.5 604.2h1M98.0 612.6h1M103.7 607.3h1M110.1 605.5h1M109.2 610.7h1M103.0 606.7h1M92.0 605.7h1M88.0 607.9h1M97.7 609.0h1M95.8 612.0h1M104.9 609.2h1M109.3 607.8h1M101.5 610.8h1M104.5 612.4h1M92.5 605.2h1M101.5 614.9h1M109.8 617.5h1M97.0 612.2h1M93.4 603.5h1M103.8 605.9h1M97.2 607.9h1M102.1 606.9h1M84.8 607.4h1M88.7 610.6h1M94.5 604.8h1M120.2 607.1h1M121.5 607.4h1M119.8 614.7h1M123.8 610.9h1M115.5 613.1h1M121.1 613.7h1M132.4 607.3h1M117.4 605.2h1M117.2 611.6h1M128.5 610.1h1M135.3 610.2h1M118.5 614.6h1M120.6 614.6h1M126.8 612.5h1M124.6 609.8h1M133.7 608.4h1M112.4 605.6h1M130.1 605.7h1M122.6 610.5h1M117.2 618.5h1M113.5 609.8h1M116.5 606.2h1M127.9 611.1h1M124.6 611.4h1M133.7 609.5h1M129.2 609.9h1M132.0 610.4h1M115.9 617.1h1M126.3 611.5h1M127.2 604.8h1M121.3 618.1h1M126.0 608.3h1M130.6 603.6h1M116.8 609.4h1M123.0 607.5h1M134.9 603.7h1M132.3 610.4h1M113.6 613.9h1M135.1 609.7h1M130.8 613.6h1M121.5 614.9h1M115.7 608.2h1M133.1 615.1h1M113.3 615.3h1M123.2 618.4h1M126.7 605.1h1M124.0 605.9h1M123.8 608.4h1M135.0 613.9h1M118.0 607.8h1M117.4 606.3h1M129.3 605.8h1M114.9 611.0h1M112.9 605.4h1M115.1 616.6h1M125.7 620.1h1M125.5 610.6h1M113.7 606.0h1M124.4 611.2h1M124.7 613.6h1M135.2 600.4h1M114.9 612.1h1M117.8 604.9h1M123.1 607.2h1M113.2 616.8h1M112.8 611.5h1M119.2 612.9h1M126.3 610.1h1M132.5 614.6h1M131.4 610.6h1M121.8 607.6h1M123.7 610.1h1M123.4 612.9h1M112.7 615.2h1M130.8 605.2h1M125.8 603.5h1M133.5 607.2h1M129.9 617.5h1M113.5 616.3h1M134.2 607.2h1M113.1 618.1h1M135.0 608.7h1M127.7 618.2h1M129.2 611.3h1M126.6 605.5h1M120.7 600.7h1M132.2 613.1h1M120.4 607.9h1M141.4 607.2h1M153.2 607.9h1M145.8 612.3h1M139.8 615.2h1M148.4 615.0h1M139.6 615.7h1M146.5 609.9h1M141.3 597.5h1M143.8 609.5h1M142.6 613.2h1M158.0 612.8h1M141.6 607.8h1M138.2 603.5h1M142.1 612.8h1M138.1 611.9h1M153.7 611.2h1M148.0 611.1h1M151.8 617.7h1M156.1 612.8h1M143.2 612.7h1M156.7 607.4h1M147.5 612.0h1M157.0 605.7h1M138.0 609.3h1M149.9 612.1h1M137.6 602.4h1M154.2 616.2h1M157.1 609.1h1M144.1 609.7h1M159.6 613.0h1M142.6 610.0h1M156.5 604.5h1M142.4 604.8h1M147.4 610.9h1M148.0 608.8h1M159.5 603.1h1M141.0 609.6h1M159.6 609.0h1M150.8 607.4h1M157.0 611.9h1M146.7 602.1h1M159.6 608.0h1M156.9 611.0h1M149.0 610.1h1M137.4 615.3h1M156.7 606.6h1M148.0 609.8h1M150.5 620.1h1M148.7 609.7h1M147.2 603.1h1M147.0 604.5h1M139.8 608.7h1M154.8 606.2h1M142.6 604.2h1M145.4 607.8h1M159.8 608.3h1M152.2 609.6h1M153.1 604.6h1M154.7 603.6h1M144.2 608.9h1M156.0 611.6h1M155.9 611.3h1M153.4 607.5h1M149.7 607.7h1M154.6 610.2h1M150.4 608.3h1M157.8 611.1h1M159.0 606.6h1M145.3 608.3h1M137.1 604.4h1M152.4 608.9h1M139.0 611.4h1M149.1 612.5h1M143.8 611.1h1M156.1 618.5h1M160.1 606.5h1M151.8 614.0h1M143.5 609.4h1M139.3 607.7h1M159.4 610.0h1M148.9 604.0h1M159.0 612.0h1M137.9 600.1h1M152.0 605.8h1M153.9 611.1h1M151.7 602.3h1M141.7 609.0h1M154.5 603.7h1M147.1 608.7h1M155.2 607.9h1M147.6 609.8h1M151.0 608.8h1M140.5 606.8h1M154.2 619.8h1M177.9 614.4h1M169.4 611.3h1M170.8 608.6h1M180.5 603.5h1M163.8 614.9h1M169.7 604.8h1M170.2 609.5h1M162.4 615.1h1M180.5 608.7h1M172.8 615.7h1M174.4 607.8h1M179.7 608.5h1M169.3 609.8h1M168.7 608.7h1M175.8 604.9h1M181.1 603.5h1M163.2 606.1h1M166.1 603.4h1M167.2 610.4h1M175.7 608.9h1M178.3 599.4h1M162.6 608.6h1M163.2 614.8h1M181.3 613.5h1M179.1 607.7h1M163.8 613.9h1M175.0 616.0h1M165.3 606.5h1M169.9 607.9h1M179.4 608.1h1M179.6 606.6h1M181.6 619.1h1M178.5 608.6h1M172.6 610.9h1M178.5 613.0h1M173.4 612.6h1M176.2 606.4h1M176.7 612.7h1M170.3 605.0h1M180.3 606.1h1M168.8 606.3h1M172.6 607.2h1M174.4 603.6h1M181.8 607.9h1M174.6 609.3h1M163.4 604.8h1M167.5 613.4h1M169.5 613.1h1M182.1 606.5h1M161.7 613.3h1M162.9 611.9h1M177.8 613.9h1M179.6 606.8h1M161.4 601.3h1M177.2 611.8h1M162.0 605.7h1M162.7 610.9h1M162.8 605.4h1M177.6 599.0h1M177.7 605.6h1M172.1 614.0h1M174.3 613.2h1M173.7 608.2h1M165.0 605.0h1M174.5 613.7h1M172.0 612.8h1M179.4 612.0h1M168.6 608.2h1M174.3 608.0h1M163.0 619.9h1M171.6 606.4h1M161.9 613.3h1M169.3 608.7h1M176.8 613.5h1M165.7 607.9h1M194.9 610.9h1M203.3 601.8h1M202.2 610.5h1M189.0 604.7h1M191.5 608.8h1M190.9 610.3h1M202.4 608.0h1M203.3 603.3h1M198.3 604.2h1M192.0 614.7h1M194.2 605.0h1M196.1 610.2h1M202.1 605.5h1M193.1 615.5h1M185.5 608.8h1M202.8 606.9h1M194.2 604.4h1M201.9 607.4h1M203.8 607.6h1M200.2 606.7h1M202.1 603.6h1M185.9 607.6h1M187.2 608.2h1M203.5 606.4h1M191.9 605.9h1M185.2 615.3h1M204.2 606.8h1M186.2 605.5h1M185.4 609.3h1M197.6 608.1h1M199.7 601.6h1M183.8 608.8h1M202.7 601.6h1M196.6 608.0h1M201.5 605.4h1M197.3 612.6h1M190.0 608.4h1M191.3 608.8h1M189.6 609.1h1M196.9 615.9h1M200.3 611.3h1M203.5 602.6h1M198.7 611.5h1M192.2 613.9h1M197.7 610.8h1M189.8 610.4h1M200.3 609.3h1M187.0 612.9h1M195.7 609.3h1M185.7 603.3h1M190.1 614.2h1M197.5 613.3h1M196.8 609.5h1M196.9 616.3h1M185.7 608.1h1M203.8 616.9h1M193.9 603.7h1M193.1 610.6h1M194.5 610.6h1M195.4 609.0h1M189.2 610.9h1M195.1 612.8h1M184.0 611.2h1M203.8 608.7h1M190.3 612.5h1M198.0 608.3h1M203.9 607.5h1M203.6 607.3h1M200.1 612.6h1M197.1 603.5h1M183.8 602.0h1M187.6 610.0h1M203.6 600.9h1M187.8 607.2h1M192.7 616.2h1M187.2 607.7h1M191.1 598.8h1M195.2 614.6h1M184.0 602.6h1M203.8 612.5h1M188.9 607.2h1M204.2 610.3h1M193.1 612.6h1M192.3 600.7h1M187.7 608.9h1M188.6 610.6h1M190.9 610.7h1M194.6 610.6h1M191.5 599.8h1M201.1 618.4h1M191.2 606.9h1M197.5 608.5h1M206.5 595.1h1M218.7 602.0h1M211.4 588.9h1M211.3 593.1h1M219.7 597.9h1M208.6 602.3h1M209.5 595.3h1M213.2 598.5h1M209.9 598.3h1M212.9 603.4h1M218.8 595.7h1M218.7 594.3h1M217.7 606.3h1M213.9 601.3h1M207.3 601.1h1M210.4 596.2h1M206.2 596.3h1M207.6 596.5h1M222.1 599.8h1M213.6 594.6h1M219.6 599.9h1M208.9 603.8h1M209.5 592.8h1M224.5 601.0h1M208.7 590.9h1M205.8 598.8h1M224.1 609.6h1M207.8 594.4h1M209.6 601.4h1M214.5 607.4h1M214.4 593.5h1M215.8 592.4h1M223.3 604.8h1M213.9 597.7h1M209.9 604.4h1M212.5 600.4h1M224.0 598.1h1M222.5 608.1h1M222.3 604.3h1M212.6 593.8h1M206.5 597.4h1M211.2 610.4h1M222.5 605.1h1M206.9 591.6h1M206.8 600.1h1M208.8 598.5h1M224.5 596.9h1M218.0 602.0h1M218.7 602.1h1M215.2 597.9h1M209.4 598.1h1M205.9 598.5h1M209.3 599.1h1M221.5 605.6h1M211.6 594.3h1M209.6 600.7h1M217.5 598.3h1M206.3 598.4h1M215.2 595.5h1M211.7 595.9h1M241.7 608.2h1M242.5 607.6h1M228.8 606.4h1M235.3 608.7h1M226.0 615.0h1M228.7 611.2h1M226.6 607.4h1M241.7 611.6h1M239.4 613.7h1M238.7 607.2h1M227.8 607.1h1M226.2 603.3h1M241.7 615.2h1M239.6 606.6h1M226.9 615.4h1M239.4 605.5h1M236.5 606.8h1M241.9 611.8h1M241.7 609.9h1M228.9 611.8h1M235.5 603.5h1M239.3 613.8h1M235.4 607.3h1M230.3 609.1h1M241.7 603.7h1M229.1 619.6h1M234.6 608.1h1M231.7 609.4h1M233.7 612.8h1M239.2 613.9h1M242.9 611.8h1M236.8 605.1h1M227.2 599.8h1M240.1 608.8h1M241.5 605.3h1M236.9 612.2h1M231.9 612.3h1M234.1 602.5h1M227.1 612.9h1M233.3 608.2h1M241.6 608.8h1M239.2 611.9h1M226.0 609.3h1M233.0 604.2h1M241.8 610.5h1M234.4 612.7h1M227.8 611.1h1M231.4 614.0h1M239.8 614.3h1M230.4 607.5h1M237.8 610.8h1M240.1 611.7h1M231.8 601.3h1M240.8 613.1h1M230.5 613.0h1M246.2 597.2h1M245.3 593.4h1M245.8 607.2h1M259.6 594.1h1M257.2 598.8h1M255.6 605.0h1M255.3 605.8h1M255.4 602.8h1M256.1 604.1h1M258.1 596.1h1M248.7 597.7h1M257.3 600.9h1M247.1 603.4h1M256.4 604.4h1M256.5 602.5h1M254.9 600.6h1M247.5 600.5h1M247.9 601.8h1M257.3 596.9h1M257.9 609.3h1M246.8 599.7h1M258.8 593.2h1M246.0 594.3h1M247.1 596.1h1M249.7 603.4h1M245.8 596.5h1M247.5 600.1h1M249.0 599.0h1M260.8 605.0h1M257.6 604.5h1M257.4 603.7h1M249.4 599.9h1M256.3 605.0h1M248.8 598.8h1M244.8 591.2h1M255.6 599.7h1M254.5 596.5h1M247.3 603.3h1M256.3 606.7h1M245.8 605.7h1M256.1 597.5h1M248.2 593.5h1M259.9 603.6h1M255.0 595.5h1M244.5 612.2h1M249.0 599.4h1M260.6 599.2h1M257.0 600.1h1M245.8 602.8h1M257.3 601.3h1M244.3 595.3h1M266.7 601.7h1M271.9 597.7h1M271.6 606.4h1M268.5 595.9h1M268.5 610.6h1M262.9 605.2h1M267.2 600.9h1M273.1 601.3h1M265.2 605.8h1M273.4 610.0h1M273.7 609.3h1M273.9 602.8h1M271.7 605.5h1M274.6 603.3h1M267.1 603.8h1M265.1 601.9h1M275.6 600.1h1M273.3 612.8h1M269.7 605.3h1M269.3 598.0h1M274.3 600.7h1M267.6 606.2h1M276.7 596.6h1M271.0 605.5h1M262.7 602.9h1M263.8 598.4h1M263.6 602.7h1M269.1 613.3h1M275.0 597.0h1M274.5 601.4h1M266.0 603.3h1M273.5 596.2h1M267.1 603.2h1M267.1 597.9h1M276.3 600.9h1M262.5 598.4h1M272.4 603.7h1M276.1 607.4h1M266.3 600.3h1M273.5 601.0h1M267.4 596.1h1M274.5 603.9h1M271.8 595.6h1M273.5 605.5h1M266.9 598.5h1M271.3 598.0h1M263.5 599.3h1M273.4 603.3h1M270.1 606.8h1M276.4 611.6h1M264.9 603.8h1M278.1 606.4h1M265.1 603.0h1M269.3 598.7h1M275.6 605.4h1M263.3 599.8h1M265.4 596.8h1M287.2 620.1h1M281.2 609.8h1M294.9 612.1h1M291.9 618.5h1M285.1 609.1h1M279.5 609.5h1M282.6 613.5h1M286.5 611.8h1M288.7 614.9h1M283.2 605.4h1M286.0 602.7h1M285.1 617.1h1M293.9 610.2h1M293.9 612.2h1M282.7 611.3h1M282.7 611.9h1M292.0 603.3h1M285.4 611.5h1M281.1 602.6h1M284.1 605.2h1M293.5 617.0h1M281.5 610.7h1M294.5 609.6h1M279.8 601.4h1M295.0 605.1h1M288.5 612.8h1M287.1 603.9h1M290.0 615.4h1M294.5 612.1h1M286.5 605.7h1M294.8 610.5h1M293.5 614.1h1M282.5 616.8h1M292.2 609.7h1M292.4 608.3h1M283.9 602.5h1M294.0 609.2h1M293.5 607.0h1M287.3 603.8h1M290.0 610.2h1M290.3 608.5h1M281.9 612.0h1M281.2 600.9h1M281.3 608.7h1M281.2 614.2h1M287.2 609.8h1M288.9 612.8h1M292.4 615.6h1M288.8 603.3h1M279.7 606.9h1M285.9 603.0h1M288.6 609.4h1M291.5 613.5h1M292.6 611.2h1M280.3 615.6h1M279.6 603.8h1M280.8 609.9h1M295.0 616.6h1M294.0 605.6h1M281.2 603.3h1M286.1 613.8h1M288.8 610.9h1M284.0 609.7h1M282.3 617.5h1M293.4 607.8h1M280.8 613.0h1M290.0 604.8h1M298.5 610.5h1M310.4 608.9h1M303.3 609.9h1M297.9 609.6h1M299.3 611.0h1M300.0 611.9h1M305.0 611.9h1M303.3 607.8h1M306.6 610.4h1M297.9 611.5h1M307.3 613.5h1M304.8 609.3h1M302.2 610.6h1M302.2 603.5h1M296.9 603.7h1M296.7 602.5h1M304.4 608.8h1M311.0 604.7h1M302.5 604.8h1M301.8 604.6h1M308.8 604.7h1M296.9 618.3h1M300.2 619.8h1M296.6 598.9h1M303.7 608.8h1M302.3 614.8h1M305.5 607.0h1M296.6 610.1h1M310.3 608.9h1M307.9 609.1h1M303.0 609.1h1M309.6 610.2h1M308.8 610.4h1M299.8 606.7h1M309.8 603.2h1M300.4 612.4h1M309.5 607.2h1M307.2 611.1h1M311.0 612.3h1M304.8 602.6h1M300.1 602.7h1M309.9 603.7h1M298.2 606.5h1M305.4 609.7h1M310.3 604.4h1M301.0 613.5h1M306.6 608.9h1M305.9 615.2h1M305.4 612.6h1M310.8 603.5h1M322.9 610.4h1M317.8 610.9h1M320.4 613.9h1M321.8 608.3h1M323.8 607.0h1M323.7 609.9h1M317.5 609.0h1M321.2 613.2h1M316.4 606.8h1M319.8 608.0h1M317.6 609.7h1M322.5 605.9h1M321.6 609.6h1M324.7 608.9h1M323.7 611.4h1M318.9 596.3h1M317.9 611.8h1M323.2 608.1h1M321.1 613.4h1M316.0 616.2h1M316.2 614.3h1M325.2 609.6h1M320.0 603.2h1M317.4 610.0h1M321.4 610.6h1M322.0 614.9h1M324.7 607.7h1M317.4 610.2h1M324.0 603.3h1M320.4 615.5h1M318.2 611.3h1M325.4 611.8h1M324.1 611.7h1M320.7 605.2h1M321.0 609.8h1M321.1 605.7h1M333.3 597.9h1M337.1 604.0h1M336.2 603.9h1M337.5 602.4h1M338.6 600.7h1M329.0 600.8h1M333.8 612.9h1M335.7 592.0h1M329.3 607.0h1M337.9 606.8h1M331.2 599.2h1M340.0 608.6h1M338.8 594.4h1M336.5 607.2h1M340.0 599.0h1M334.9 604.9h1M339.3 606.4h1M335.3 598.1h1M332.5 596.7h1M331.1 604.1h1M337.2 611.3h1M328.8 601.2h1M330.4 600.9h1M329.8 599.5h1M336.7 601.1h1M335.2 598.5h1M336.9 599.0h1M329.3 598.6h1M334.5 596.2h1M332.4 604.4h1M330.2 596.1h1M337.6 605.3h1M336.1 601.9h1M332.0 603.3h1M334.0 599.7h1M337.6 601.6h1M335.9 605.9h1M330.0 598.6h1M334.7 603.1h1M342.7 600.1h1M344.1 598.5h1M345.6 595.6h1M348.0 592.3h1M350.6 602.6h1M347.8 602.8h1M342.8 600.5h1M347.4 605.8h1M344.6 599.6h1M346.0 608.7h1M349.6 595.3h1M348.8 603.2h1M346.9 602.0h1M345.9 607.0h1M348.5 601.8h1M345.6 597.7h1M349.0 610.6h1M351.7 598.7h1M345.2 602.3h1M343.1 610.6h1M351.2 597.6h1M349.1 603.1h1M350.5 600.7h1M349.7 607.1h1M349.4 597.2h1M351.6 603.8h1M351.6 605.5h1M345.2 611.1h1M345.2 612.4h1M348.4 602.7h1M345.3 604.2h1M349.6 589.0h1M344.3 608.4h1M351.6 602.4h1M360.9 615.8h1M357.5 605.6h1M357.6 614.8h1M361.4 612.4h1M362.2 609.0h1M363.5 616.9h1M357.8 611.5h1M357.6 609.3h1M354.7 609.3h1M363.0 601.9h1M363.0 611.3h1M359.6 609.2h1M357.5 604.0h1M362.5 614.2h1M358.5 613.6h1M353.4 609.8h1M355.3 609.3h1M353.7 612.1h1M354.0 607.9h1M358.0 614.4h1M353.9 609.9h1M360.8 614.2h1M355.6 613.6h1M357.4 612.1h1M360.9 604.8h1M356.0 617.3h1M362.9 615.8h1M363.5 610.5h1M355.1 609.3h1M358.3 614.4h1M363.0 615.2h1M357.0 605.1h1M358.7 608.2h1M356.3 608.7h1M360.8 604.2h1M361.3 602.2h1M354.7 610.3h1M365.8 610.2h1M365.1 596.6h1M370.2 611.9h1M365.7 615.2h1M372.9 616.1h1M370.5 610.2h1M365.1 608.6h1M369.7 614.3h1M371.9 610.2h1M367.0 614.7h1M365.3 610.0h1M369.0 609.6h1M365.8 611.8h1M370.8 608.1h1M369.7 606.0h1M371.1 612.4h1M368.0 607.7h1M365.1 609.2h1M367.3 611.7h1M371.0 614.9h1M372.4 608.2h1M372.4 613.5h1M369.3 609.1h1M370.0 603.1h1M365.1 604.9h1M367.0 602.5h1M369.4 606.2h1M370.5 610.1h1M368.7 609.0h1M368.3 613.7h1M382.2 608.2h1M379.9 610.5h1M378.1 603.9h1M377.2 610.9h1M381.3 606.5h1M378.3 605.2h1M374.8 610.5h1M378.3 601.1h1M375.2 611.5h1M375.0 608.3h1M379.7 606.0h1M381.9 607.2h1M380.3 607.6h1M375.3 614.0h1M375.6 614.0h1M375.6 615.1h1M375.3 605.4h1M376.5 607.6h1M377.9 616.5h1M382.7 612.1h1M381.4 614.9h1M376.1 599.8h1M379.9 613.0h1M381.1 611.4h1M381.6 618.7h1M380.4 600.1h1M382.6 612.2h1M382.6 612.5h1M384.5 601.1h1M390.0 608.7h1M389.1 610.5h1M388.9 611.2h1M385.9 616.8h1M388.3 603.7h1M384.6 610.5h1M390.6 614.3h1M386.0 611.2h1M385.4 613.3h1M388.1 605.9h1M388.9 609.7h1M390.4 614.1h1M385.0 602.1h1M388.2 611.4h1M388.1 607.9h1M385.8 605.0h1M388.8 605.7h1M388.8 611.5h1M393.0 611.4h1M397.9 608.6h1M392.6 617.9h1M396.3 613.1h1M394.3 604.6h1M396.1 614.5h1M398.2 608.6h1M394.5 608.1h1M394.3 609.4h1M392.6 607.3h1M395.1 601.4h1M396.2 605.4h1M392.7 607.8h1M392.5 613.5h1M398.1 615.2h1M392.1 602.6h1M396.8 610.8h1M393.7 612.1h1M397.1 610.8h1M394.3 605.8h1M393.3 611.6h1M396.3 613.2h1M395.9 610.0h1M397.1 608.6h1M391.8 608.5h1M404.1 608.4h1M403.6 611.6h1M404.5 603.0h1M403.0 615.0h1M402.0 609.0h1M403.6 611.5h1M404.0 608.1h1M401.5 601.4h1M402.8 608.4h1M403.9 612.9h1M402.5 609.5h1M404.6 611.3h1M403.0 608.2h1M402.5 605.9h1M401.3 613.5h1M403.5 604.7h1M401.9 611.9h1M403.1 607.9h1M403.3 615.8h1M403.9 611.4h1M404.3 604.6h1M408.4 608.9h1M410.3 615.4h1M410.8 601.6h1M410.3 602.8h1M409.9 606.7h1M407.9 607.3h1M409.1 602.2h1M408.9 612.8h1M410.1 609.9h1M407.4 606.9h1M408.7 608.2h1" stroke="#b4dde8" stroke-width="1" fill="none"/><rect x="49.3" y="562.37" width="15.25" height="9.2" fill="url(#bkb)"/><rect x="66.38" y="562.37" width="13.42" height="9.2" fill="url(#bkb)"/><rect x="81" y="562.37" width="29.9" height="9.2" fill="url(#bkb)"/><rect x="112.1" y="562.37" width="23.6" height="9.2" fill="url(#bkb)"/><rect x="136.9" y="562.37" width="23.2" height="9.2" fill="url(#bkb)"/><rect x="161.3" y="562.37" width="21" height="9.2" fill="url(#bkb)"/><rect x="183.5" y="562.37" width="21" height="9.2" fill="url(#bkb)"/><rect x="205.7" y="542.98" width="18.9" height="9" fill="url(#bkb)"/><rect x="225.8" y="562.37" width="17.1" height="9.2" fill="url(#bkb)"/><rect x="244.1" y="541.86" width="6.05" height="9" fill="url(#bkb)"/><rect x="254.52" y="541.86" width="6.38" height="9" fill="url(#bkb)"/><rect x="262.1" y="544.84" width="16.1" height="9" fill="url(#bkb)"/><rect x="279.4" y="562.37" width="15.7" height="9.2" fill="url(#bkb)"/><rect x="296.3" y="562.37" width="15.4" height="9.2" fill="url(#bkb)"/><rect x="315.52" y="562.37" width="10.48" height="9.2" fill="url(#bkb)"/><rect x="328.74" y="541.86" width="11.26" height="9" fill="url(#bkb)"/><rect x="342.51" y="542.61" width="9.59" height="9" fill="url(#bkb)"/><rect x="353.3" y="562.37" width="10.3" height="9.2" fill="url(#bkb)"/><rect x="364.8" y="562.37" width="8.4" height="9.2" fill="url(#bkb)"/><rect x="374.4" y="562.37" width="8.5" height="9.2" fill="url(#bkb)"/><rect x="384.1" y="562.37" width="6.5" height="9.2" fill="url(#bkb)"/><rect x="391.8" y="562.37" width="7.2" height="9.2" fill="url(#bkb)"/><rect x="401.24" y="562.37" width="4.16" height="9.2" fill="url(#bkb)"/><rect x="407.28" y="562.37" width="3.82" height="9.2" fill="url(#bkb)"/><rect x="49.3" y="603.35" width="15.25" height="12" fill="url(#bkd)"/><rect x="66.38" y="603.35" width="13.42" height="12" fill="url(#bkd)"/><rect x="81" y="603.35" width="29.9" height="12" fill="url(#bkd)"/><rect x="112.1" y="603.35" width="23.6" height="12" fill="url(#bkd)"/><rect x="136.9" y="603.35" width="23.2" height="12" fill="url(#bkd)"/><rect x="161.3" y="603.35" width="21" height="12" fill="url(#bkd)"/><rect x="183.5" y="603.35" width="21" height="12" fill="url(#bkd)"/><rect x="205.7" y="592.1" width="4.72" height="12" fill="url(#bkd)"/><rect x="210.42" y="592.99" width="4.72" height="12" fill="url(#bkd)"/><rect x="215.15" y="593.89" width="4.73" height="12" fill="url(#bkd)"/><rect x="219.88" y="594.79" width="4.72" height="12" fill="url(#bkd)"/><rect x="225.8" y="603.35" width="17.1" height="12" fill="url(#bkd)"/><rect x="244.1" y="594.22" width="1.51" height="12" fill="url(#bkd)"/><rect x="245.61" y="594.35" width="1.51" height="12" fill="url(#bkd)"/><rect x="247.12" y="594.48" width="1.51" height="12" fill="url(#bkd)"/><rect x="248.64" y="594.61" width="1.51" height="12" fill="url(#bkd)"/><rect x="254.52" y="595.12" width="1.6" height="12" fill="url(#bkd)"/><rect x="256.11" y="595.25" width="1.6" height="12" fill="url(#bkd)"/><rect x="257.71" y="595.39" width="1.6" height="12" fill="url(#bkd)"/><rect x="259.3" y="595.53" width="1.6" height="12" fill="url(#bkd)"/><rect x="262.1" y="595.42" width="4.02" height="12" fill="url(#bkd)"/><rect x="266.12" y="596.49" width="4.02" height="12" fill="url(#bkd)"/><rect x="270.15" y="597.57" width="4.03" height="12" fill="url(#bkd)"/><rect x="274.18" y="598.65" width="4.02" height="12" fill="url(#bkd)"/><rect x="279.4" y="603.35" width="15.7" height="12" fill="url(#bkd)"/><rect x="296.3" y="603.35" width="15.4" height="12" fill="url(#bkd)"/><rect x="315.52" y="603.35" width="10.48" height="12" fill="url(#bkd)"/><rect x="328.74" y="595.78" width="2.82" height="12" fill="url(#bkd)"/><rect x="331.55" y="596.1" width="2.82" height="12" fill="url(#bkd)"/><rect x="334.37" y="596.41" width="2.82" height="12" fill="url(#bkd)"/><rect x="337.18" y="596.73" width="2.82" height="12" fill="url(#bkd)"/><rect x="342.51" y="596.31" width="9.59" height="12" fill="url(#bkd)"/><rect x="353.3" y="603.35" width="10.3" height="12" fill="url(#bkd)"/><rect x="364.8" y="603.35" width="8.4" height="12" fill="url(#bkd)"/><rect x="374.4" y="603.35" width="8.5" height="12" fill="url(#bkd)"/><rect x="384.1" y="603.35" width="6.5" height="12" fill="url(#bkd)"/><rect x="391.8" y="603.35" width="7.2" height="12" fill="url(#bkd)"/><rect x="401.24" y="603.35" width="4.16" height="12" fill="url(#bkd)"/><rect x="407.28" y="603.35" width="3.82" height="12" fill="url(#bkd)"/><path d="M63.1 569.3h1M68.5 568.6h1M79.3 565.7h1M55.1 566.8h1M68.8 565.6h1M70.9 566.9h1M61.5 560.1h1M77.1 569.3h1M52.0 570.7h1M73.6 564.6h1M52.9 565.8h1M58.6 556.4h1M55.8 564.4h1M52.0 567.1h1M66.8 555.8h1M71.9 556.1h1M62.2 572.7h1M67.5 565.3h1M68.0 565.3h1M62.9 568.0h1M79.2 568.6h1M49.8 566.7h1M64.0 563.3h1M71.8 565.9h1M76.8 560.7h1M68.4 564.2h1M71.5 561.4h1M51.9 565.8h1M68.0 557.3h1M55.5 569.8h1M55.4 565.7h1M67.1 568.7h1M71.0 557.8h1M68.4 565.2h1M75.9 567.2h1M49.9 566.1h1M68.5 567.5h1M70.2 563.5h1M57.6 565.6h1M61.3 566.6h1M53.3 569.8h1M76.1 569.4h1M68.9 562.8h1M73.4 570.8h1M72.7 571.1h1M73.3 568.6h1M70.3 562.3h1M71.5 566.7h1M76.8 570.0h1M55.4 563.8h1M73.7 563.5h1M77.5 566.4h1M76.8 566.4h1M53.2 568.5h1M68.2 566.8h1M62.6 564.6h1M75.3 570.1h1M76.8 570.7h1M76.4 567.2h1M73.4 564.1h1M78.8 570.3h1M55.1 567.5h1M54.9 570.7h1M63.4 569.1h1M70.7 555.8h1M54.3 571.8h1M75.6 564.4h1M77.1 567.7h1M72.7 564.1h1M60.1 567.0h1M59.6 572.5h1M68.9 567.4h1M61.5 567.7h1M78.8 570.3h1M50.7 555.3h1M78.1 566.5h1M57.9 564.5h1M61.2 567.7h1M51.5 561.0h1M71.3 566.7h1M68.3 567.2h1M63.2 568.7h1M71.7 566.9h1M60.3 565.8h1M56.9 571.2h1M68.3 569.4h1M68.5 565.4h1M53.0 565.1h1M74.0 563.0h1M62.3 565.8h1M70.2 565.9h1M51.8 567.7h1M60.2 566.2h1M77.2 564.3h1M77.8 557.2h1M55.2 567.8h1M76.2 570.4h1M73.8 566.3h1M51.9 562.1h1M72.6 570.8h1M70.9 560.6h1M73.9 570.6h1M71.0 560.8h1M60.8 567.7h1M52.8 567.2h1M50.4 567.8h1M67.4 567.7h1M74.2 566.7h1M64.0 565.3h1M57.7 565.8h1M71.1 569.9h1M68.7 557.6h1M49.3 569.7h1M52.3 567.9h1M58.6 562.5h1M54.1 558.5h1M70.3 564.9h1M69.2 564.4h1M79.5 567.8h1M59.6 566.1h1M66.5 564.9h1M70.9 568.9h1M53.1 568.3h1M74.3 563.8h1M73.4 560.8h1M69.1 565.0h1M67.9 567.5h1M71.1 562.8h1M55.3 565.9h1M63.4 566.0h1M66.4 566.5h1M67.6 567.8h1M55.0 565.0h1M78.0 565.8h1M49.8 564.7h1M57.3 569.4h1M53.7 564.6h1M72.2 568.7h1M62.5 569.3h1M51.0 570.0h1M51.4 564.4h1M56.6 565.6h1M75.7 563.8h1M76.9 567.3h1M58.4 571.5h1M50.7 569.4h1M79.1 569.5h1M55.3 559.4h1M55.5 568.7h1M76.8 566.9h1M56.1 566.6h1M60.7 570.4h1M77.6 566.4h1M50.7 566.6h1M56.8 570.7h1M50.3 567.0h1M69.0 569.6h1M75.1 561.4h1M56.5 565.6h1M64.2 564.6h1M75.9 567.2h1M73.7 569.5h1M58.8 565.7h1M74.3 566.9h1M73.3 565.1h1M72.5 555.0h1M53.6 566.3h1M71.7 566.9h1M59.6 564.8h1M51.1 565.4h1M75.0 567.3h1M55.5 565.0h1M55.5 566.8h1M57.3 567.1h1M85.6 559.5h1M81.6 566.3h1M82.6 564.2h1M93.7 567.4h1M100.9 567.5h1M87.8 570.0h1M105.2 558.2h1M101.6 571.4h1M92.7 565.4h1M95.2 566.1h1M98.4 563.6h1M93.1 563.9h1M91.4 563.9h1M109.5 565.7h1M99.6 565.4h1M92.4 552.8h1M85.5 566.9h1M88.2 566.3h1M105.8 559.0h1M101.5 569.3h1M89.5 566.1h1M84.8 569.5h1M95.4 568.2h1M96.2 564.1h1M103.7 569.4h1M105.8 554.6h1M109.1 554.8h1M92.9 572.7h1M102.9 554.5h1M90.2 569.6h1M110.3 569.0h1M86.2 568.6h1M97.9 565.7h1M82.5 568.5h1M87.0 562.1h1M100.6 568.0h1M94.3 567.2h1M103.5 568.0h1M81.3 568.5h1M104.0 554.1h1M88.5 552.5h1M105.2 569.4h1M90.6 568.5h1M97.3 567.5h1M96.0 565.7h1M103.5 565.6h1M93.2 567.8h1M90.6 562.6h1M87.3 565.3h1M98.0 568.8h1M87.9 564.5h1M98.8 555.2h1M110.6 566.8h1M88.0 565.6h1M110.7 569.5h1M106.9 566.4h1M88.2 569.4h1M91.9 569.0h1M84.5 563.6h1M83.1 556.3h1M86.9 566.6h1M99.0 567.5h1M109.1 567.8h1M103.0 566.1h1M93.2 565.2h1M88.0 566.0h1M108.9 566.8h1M94.2 558.1h1M107.8 567.6h1M98.7 570.9h1M101.0 568.7h1M95.0 566.8h1M110.0 572.8h1M83.0 564.0h1M87.3 568.4h1M99.6 569.9h1M84.6 571.5h1M81.7 564.2h1M84.7 567.7h1M93.4 567.5h1M106.4 569.7h1M93.4 564.0h1M85.7 568.1h1M82.4 566.3h1M90.8 564.3h1M92.8 566.9h1M95.3 564.7h1M97.4 567.2h1M103.4 569.3h1M91.9 563.7h1M96.4 569.4h1M106.7 564.7h1M105.9 565.2h1M82.7 570.0h1M108.9 566.8h1M108.4 561.0h1M94.4 568.5h1M100.9 569.9h1M97.8 556.4h1M95.1 566.0h1M95.8 563.9h1M87.0 568.1h1M106.2 564.7h1M88.8 565.4h1M92.3 564.1h1M95.6 567.0h1M98.0 566.5h1M105.1 567.3h1M103.9 571.2h1M89.7 567.2h1M89.8 566.6h1M107.1 569.7h1M102.9 564.2h1M91.8 568.8h1M109.2 565.0h1M100.6 566.6h1M110.6 567.5h1M110.4 567.5h1M96.8 564.9h1M95.5 564.0h1M91.0 568.4h1M106.7 552.4h1M99.3 567.9h1M107.0 552.5h1M103.6 552.0h1M93.2 566.7h1M91.0 565.5h1M95.3 568.4h1M107.2 566.7h1M101.2 566.1h1M110.6 569.3h1M104.4 570.0h1M103.2 567.1h1M85.3 567.5h1M108.8 565.7h1M102.7 561.5h1M86.5 566.6h1M98.0 566.5h1M103.7 562.6h1M110.1 570.9h1M109.2 552.5h1M103.0 568.2h1M86.5 564.9h1M92.0 565.5h1M97.1 564.5h1M85.9 565.2h1M88.0 568.3h1M97.7 565.0h1M95.8 564.1h1M100.2 557.9h1M104.9 569.1h1M109.3 565.1h1M87.4 568.8h1M101.5 566.0h1M88.3 552.5h1M99.3 571.6h1M84.3 570.3h1M99.6 570.2h1M104.5 563.9h1M92.5 568.3h1M101.8 563.7h1M101.5 558.9h1M109.8 566.0h1M97.0 568.0h1M88.2 567.7h1M93.4 566.0h1M103.8 568.4h1M97.2 563.1h1M89.1 566.7h1M102.1 566.0h1M83.1 566.1h1M93.1 568.3h1M84.8 566.5h1M109.5 562.2h1M84.6 567.8h1M88.7 568.2h1M94.5 565.3h1M107.3 563.5h1M93.0 566.9h1M127.6 563.9h1M120.2 564.1h1M121.5 556.1h1M131.5 560.2h1M125.8 566.2h1M119.8 566.9h1M123.8 563.5h1M115.5 564.7h1M130.0 566.4h1M121.1 565.2h1M119.4 571.6h1M129.5 568.0h1M132.4 565.9h1M119.5 568.1h1M117.4 566.0h1M131.6 566.2h1M117.2 570.3h1M128.5 568.5h1M135.3 567.5h1M118.5 566.3h1M120.6 566.5h1M114.8 561.8h1M126.8 566.0h1M124.6 568.1h1M130.9 566.6h1M128.2 566.9h1M133.7 553.5h1M119.4 562.8h1M112.4 564.4h1M130.1 565.7h1M122.6 565.4h1M117.2 570.3h1M114.5 566.6h1M113.5 567.3h1M134.7 566.7h1M113.1 564.6h1M116.5 568.6h1M116.5 565.9h1M127.9 564.3h1M124.6 573.4h1M133.7 564.3h1M129.2 568.5h1M132.0 566.9h1M115.9 565.8h1M126.3 552.8h1M127.2 568.0h1M121.3 565.8h1M126.0 567.3h1M128.8 552.8h1M130.6 568.3h1M135.2 568.4h1M133.3 573.6h1M134.8 564.5h1M118.7 566.2h1M135.4 569.3h1M116.8 566.9h1M135.5 570.3h1M134.2 567.4h1M123.0 569.3h1M112.9 566.1h1M134.9 567.5h1M132.3 569.5h1M113.6 569.1h1M129.3 563.6h1M135.1 567.5h1M126.3 566.2h1M130.8 564.8h1M121.5 565.7h1M115.7 568.6h1M133.1 569.1h1M129.8 570.6h1M113.3 559.0h1M123.2 568.6h1M123.2 568.3h1M126.7 564.4h1M124.0 561.6h1M116.1 566.3h1M129.3 569.0h1M123.8 565.5h1M128.7 564.0h1M135.0 565.6h1M120.4 568.8h1M118.0 565.1h1M115.5 567.8h1M117.4 559.4h1M129.3 567.8h1M114.9 567.8h1M112.9 563.2h1M115.1 553.9h1M125.7 572.1h1M130.5 568.5h1M125.5 566.6h1M115.9 558.5h1M119.9 568.8h1M113.7 566.7h1M124.4 565.2h1M124.7 568.1h1M135.2 570.6h1M114.9 567.6h1M117.8 568.5h1M123.1 563.6h1M113.2 566.4h1M112.8 565.4h1M116.3 565.1h1M130.8 567.7h1M119.2 565.4h1M126.3 571.7h1M119.2 565.9h1M132.5 565.6h1M131.4 565.9h1M121.8 567.3h1M123.7 565.1h1M123.4 567.3h1M112.7 567.6h1M130.8 570.7h1M125.8 568.9h1M133.5 564.8h1M129.9 566.5h1M117.4 569.9h1M113.5 563.1h1M134.2 569.9h1M123.3 569.0h1M131.7 567.1h1M120.4 558.5h1M113.1 567.8h1M135.0 570.6h1M127.7 569.8h1M117.4 571.9h1M131.5 570.3h1M113.1 566.6h1M122.6 565.2h1M129.2 561.7h1M114.7 565.6h1M133.6 569.3h1M126.6 566.5h1M127.9 562.4h1M122.9 565.9h1M120.7 563.5h1M132.2 569.5h1M120.4 560.3h1M115.0 569.1h1M141.4 567.0h1M149.1 566.1h1M153.2 571.1h1M154.3 572.7h1M150.9 569.5h1M145.8 566.9h1M151.0 564.4h1M158.3 567.4h1M139.8 567.5h1M148.4 564.2h1M139.6 565.4h1M146.5 566.7h1M141.3 564.8h1M138.3 570.0h1M143.8 567.2h1M159.0 568.3h1M138.1 567.6h1M142.6 572.0h1M158.0 567.7h1M141.6 568.0h1M138.2 567.6h1M137.0 569.5h1M142.1 565.1h1M138.1 571.1h1M153.7 556.4h1M148.0 564.0h1M151.8 569.3h1M152.7 562.2h1M156.1 556.5h1M146.9 572.3h1M143.2 566.8h1M138.4 569.3h1M156.7 566.3h1M147.5 567.7h1M157.0 564.2h1M138.0 564.4h1M149.9 567.7h1M137.6 570.3h1M154.2 563.6h1M157.1 568.6h1M144.1 570.3h1M154.4 565.7h1M159.6 569.9h1M142.6 569.4h1M156.5 563.9h1M142.4 562.5h1M147.4 565.7h1M141.6 569.4h1M148.0 564.5h1M159.5 563.9h1M153.6 568.5h1M151.3 566.7h1M151.2 563.5h1M149.6 566.0h1M146.8 562.1h1M141.0 566.8h1M159.6 561.4h1M145.2 567.7h1M150.8 567.5h1M157.0 565.4h1M146.7 566.6h1M159.6 566.1h1M156.9 565.4h1M149.0 561.7h1M138.1 557.8h1M137.4 569.4h1M156.7 566.3h1M148.0 569.3h1M150.5 567.1h1M150.5 565.4h1M148.7 569.8h1M141.4 567.2h1M147.2 560.2h1M155.0 568.9h1M147.0 571.8h1M139.8 570.1h1M154.8 564.2h1M142.6 563.8h1M148.3 565.3h1M139.6 565.6h1M145.4 566.6h1M155.0 567.2h1M149.1 568.3h1M150.0 565.5h1M159.8 568.2h1M152.2 564.8h1M153.1 558.7h1M154.7 567.2h1M144.2 560.7h1M143.4 568.2h1M155.3 571.7h1M156.0 555.7h1M155.9 566.3h1M153.4 570.4h1M149.7 570.3h1M154.6 568.8h1M150.4 567.0h1M157.8 565.9h1M159.0 565.6h1M145.3 568.4h1M159.5 566.8h1M146.5 564.6h1M137.1 569.1h1M152.4 565.2h1M159.1 568.9h1M138.7 566.5h1M139.0 567.8h1M149.1 567.5h1M143.8 569.0h1M156.1 564.9h1M160.1 564.8h1M151.8 566.7h1M143.5 565.1h1M159.2 563.4h1M139.3 565.2h1M148.3 565.7h1M140.8 570.1h1M159.4 563.9h1M153.9 562.6h1M158.5 564.2h1M148.9 568.3h1M159.0 564.4h1M137.9 566.1h1M152.0 568.4h1M153.9 566.0h1M151.7 563.9h1M151.5 569.3h1M141.7 568.4h1M153.9 566.9h1M158.0 570.2h1M154.5 569.5h1M158.7 570.7h1M159.2 567.5h1M147.1 565.6h1M155.2 567.7h1M147.6 567.7h1M151.0 566.1h1M140.5 564.9h1M154.2 565.9h1M177.9 563.4h1M169.4 568.9h1M179.6 567.3h1M170.8 553.7h1M175.5 567.8h1M180.5 570.3h1M164.9 569.1h1M163.8 566.8h1M169.7 569.2h1M170.2 569.9h1M162.8 564.1h1M162.4 561.4h1M180.5 566.2h1M172.8 568.0h1M179.5 569.9h1M174.4 569.9h1M179.7 555.0h1M169.3 566.7h1M166.2 570.6h1M168.7 564.9h1M171.7 564.5h1M175.8 565.1h1M181.1 568.0h1M165.7 564.2h1M163.2 569.2h1M182.1 561.1h1M182.3 567.4h1M166.1 569.8h1M181.6 564.1h1M181.8 571.7h1M167.2 561.2h1M175.7 554.6h1M178.3 569.7h1M162.6 567.3h1M171.0 563.9h1M163.2 569.9h1M181.3 568.5h1M179.1 563.1h1M173.1 567.3h1M164.0 567.2h1M163.8 568.9h1M175.0 559.0h1M165.3 568.2h1M169.9 566.1h1M173.4 568.3h1M175.7 554.8h1M179.4 569.5h1M179.6 567.9h1M166.5 567.0h1M181.6 567.6h1M178.5 560.7h1M181.4 566.8h1M172.6 566.2h1M168.6 565.8h1M178.5 568.6h1M173.4 568.3h1M177.1 566.9h1M179.8 566.6h1M176.4 566.4h1M181.2 563.7h1M176.3 567.6h1M176.2 570.1h1M171.8 568.0h1M176.7 564.6h1M166.4 565.7h1M170.3 570.3h1M180.3 566.9h1M177.2 567.8h1M168.8 568.6h1M172.6 557.7h1M174.4 568.2h1M181.8 565.4h1M174.6 568.4h1M163.4 569.2h1M167.5 570.2h1M167.1 564.4h1M169.5 566.8h1M182.1 568.8h1M161.7 568.1h1M162.9 573.3h1M161.6 571.5h1M168.0 565.8h1M177.8 563.4h1M179.6 567.4h1M161.4 561.0h1M167.7 564.7h1M163.7 563.7h1M179.6 566.7h1M164.6 562.9h1M177.2 565.6h1M178.8 554.5h1M170.6 566.1h1M162.0 552.4h1M162.7 562.3h1M178.4 568.4h1M179.3 566.9h1M162.8 564.7h1M178.7 567.4h1M181.6 566.3h1M171.8 565.7h1M177.6 566.0h1M177.7 562.5h1M171.4 563.2h1M172.1 564.6h1M166.6 567.8h1M174.3 569.8h1M179.4 567.5h1M173.7 561.2h1M166.0 572.1h1M174.1 566.6h1M178.1 564.4h1M165.0 566.2h1M174.5 570.7h1M172.0 566.1h1M179.4 564.6h1M177.1 570.5h1M168.6 566.1h1M174.3 566.3h1M163.0 566.1h1M171.6 568.3h1M164.1 561.3h1M162.7 572.4h1M161.9 569.2h1M169.3 564.4h1M176.8 568.2h1M165.7 558.3h1M194.9 570.3h1M203.3 567.6h1M201.5 563.9h1M202.2 570.2h1M194.1 564.6h1M189.3 567.1h1M189.0 566.9h1M191.5 558.5h1M190.9 555.4h1M202.4 565.1h1M203.3 566.0h1M198.3 553.3h1M192.0 569.6h1M194.2 564.3h1M196.1 566.7h1M202.1 564.6h1M193.1 566.5h1M185.5 558.6h1M202.8 565.0h1M194.2 565.3h1M201.9 565.7h1M203.8 563.1h1M191.4 565.5h1M199.4 563.6h1M200.2 567.9h1M201.5 566.7h1M202.1 572.4h1M185.9 566.8h1M197.2 567.5h1M187.2 565.9h1M203.5 566.3h1M186.7 564.7h1M191.9 565.9h1M185.2 567.1h1M204.2 568.0h1M186.2 565.6h1M189.3 568.5h1M194.7 565.6h1M185.4 567.1h1M197.6 560.5h1M199.7 569.0h1M183.8 559.3h1M192.3 572.9h1M202.7 568.3h1M196.6 569.9h1M191.0 558.0h1M192.0 571.9h1M201.5 571.0h1M197.3 568.1h1M190.0 567.5h1M191.3 568.0h1M189.6 570.5h1M196.9 566.5h1M200.3 565.8h1M203.5 564.0h1M198.3 566.0h1M198.7 568.7h1M192.2 570.8h1M193.7 566.8h1M200.6 563.5h1M197.7 568.1h1M189.8 564.3h1M185.3 567.2h1M191.0 567.3h1M195.4 567.7h1M198.4 572.5h1M200.3 566.9h1M189.2 556.0h1M191.5 565.7h1M187.0 565.4h1M195.7 562.9h1M185.7 567.8h1M190.1 564.1h1M197.5 567.7h1M196.8 567.2h1M187.5 563.4h1M196.9 566.4h1M185.7 552.3h1M203.8 567.0h1M193.9 564.6h1M204.3 566.9h1M204.3 565.7h1M193.1 570.9h1M194.5 568.1h1M193.8 568.1h1M195.4 572.0h1M189.2 570.1h1M195.1 574.1h1M184.0 568.6h1M203.8 564.5h1M190.3 561.2h1M198.0 567.1h1M203.9 571.4h1M193.5 571.2h1M204.2 568.4h1M203.6 565.3h1M200.1 566.4h1M197.1 563.4h1M183.8 553.3h1M183.9 565.6h1M187.6 560.9h1M200.4 565.4h1M203.6 567.5h1M187.8 566.2h1M192.7 565.6h1M187.2 570.8h1M204.0 563.8h1M191.1 569.0h1M195.2 566.5h1M200.0 567.1h1M191.0 567.4h1M184.0 564.6h1M203.8 565.7h1M188.9 567.6h1M204.2 567.3h1M193.1 563.7h1M192.3 567.5h1M187.7 565.1h1M188.6 562.0h1M190.9 566.0h1M194.6 570.3h1M191.5 566.0h1M201.1 564.6h1M191.2 565.2h1M197.5 568.5h1M193.5 566.4h1M221.2 544.8h1M206.5 551.8h1M222.1 565.7h1M218.7 548.7h1M211.4 548.8h1M211.3 548.4h1M219.7 546.6h1M208.6 549.0h1M209.5 548.7h1M213.2 548.1h1M209.9 568.1h1M212.9 554.2h1M211.1 545.6h1M218.8 545.7h1M218.7 560.9h1M207.0 548.1h1M217.7 542.7h1M213.9 546.4h1M207.3 547.5h1M214.9 549.5h1M209.8 550.5h1M210.4 549.2h1M213.3 551.2h1M214.1 546.3h1M221.3 573.4h1M216.5 546.4h1M206.2 548.5h1M207.6 571.8h1M222.1 544.8h1M210.6 565.2h1M216.3 560.5h1M213.6 544.8h1M219.6 563.8h1M206.2 554.1h1M219.8 555.2h1M208.9 553.7h1M209.5 551.9h1M220.9 545.1h1M224.5 546.5h1M216.5 544.3h1M208.7 565.2h1M206.6 562.6h1M210.0 548.4h1M205.8 545.6h1M220.0 543.5h1M211.3 544.9h1M224.1 552.3h1M224.1 547.8h1M212.6 544.8h1M207.8 547.4h1M213.2 547.3h1M220.0 545.5h1M211.6 577.5h1M221.2 548.2h1M224.0 551.2h1M209.6 549.5h1M212.6 546.8h1M214.5 551.2h1M214.8 545.9h1M214.2 546.5h1M214.4 547.3h1M215.8 570.0h1M206.3 550.2h1M208.6 544.1h1M206.4 548.3h1M223.3 559.6h1M214.0 547.3h1M220.6 572.9h1M209.7 550.4h1M209.1 570.0h1M213.9 548.3h1M205.8 564.9h1M209.9 547.0h1M212.5 549.7h1M210.2 546.0h1M224.0 577.5h1M207.7 559.7h1M222.5 543.9h1M222.3 561.9h1M212.6 546.9h1M216.1 544.4h1M206.5 548.0h1M221.7 546.4h1M215.0 547.5h1M211.2 546.0h1M210.7 544.8h1M222.5 545.9h1M214.9 543.3h1M208.7 548.7h1M220.7 553.2h1M222.6 548.3h1M206.9 548.0h1M206.8 542.9h1M208.8 548.9h1M224.5 572.6h1M218.0 565.3h1M218.7 560.9h1M210.9 544.8h1M209.0 551.1h1M215.2 547.1h1M209.4 551.8h1M205.9 544.7h1M209.3 548.1h1M221.5 552.5h1M218.4 547.3h1M211.6 554.6h1M216.4 574.3h1M209.6 547.7h1M211.4 547.0h1M217.5 545.3h1M206.3 567.0h1M215.2 545.6h1M211.7 546.2h1M238.1 565.6h1M241.7 567.1h1M242.5 568.6h1M238.1 563.3h1M228.8 573.1h1M235.3 565.8h1M234.6 571.7h1M229.0 567.7h1M226.0 566.1h1M228.7 567.8h1M231.6 568.0h1M227.9 567.6h1M227.3 569.4h1M233.1 563.0h1M233.3 564.6h1M226.6 564.1h1M231.2 567.8h1M241.7 564.6h1M239.4 571.0h1M238.7 570.9h1M227.8 556.4h1M241.7 569.2h1M226.2 568.3h1M241.7 567.1h1M225.9 563.2h1M239.6 568.1h1M226.9 566.6h1M237.2 567.2h1M239.4 565.6h1M228.8 567.5h1M236.5 568.0h1M241.9 565.4h1M228.9 564.7h1M241.7 554.3h1M228.9 570.4h1M235.5 565.5h1M239.3 568.7h1M236.0 565.1h1M234.9 566.5h1M235.6 568.1h1M236.4 559.7h1M240.0 563.3h1M239.6 570.4h1M235.4 566.8h1M235.4 567.1h1M230.3 565.3h1M240.5 569.3h1M237.0 566.1h1M231.2 562.7h1M241.7 565.9h1M234.1 568.6h1M229.1 568.0h1M234.6 567.8h1M236.5 567.8h1M237.9 566.6h1M231.7 564.1h1M233.7 562.8h1M239.2 555.1h1M242.9 567.0h1M232.0 569.4h1M236.8 567.4h1M227.2 557.0h1M240.2 568.2h1M240.1 558.3h1M232.0 564.1h1M241.5 567.7h1M236.9 567.1h1M231.9 565.9h1M234.1 568.1h1M227.1 567.9h1M233.3 569.3h1M225.8 563.9h1M241.6 570.3h1M239.2 571.1h1M226.0 568.9h1M233.2 568.3h1M233.0 564.9h1M230.6 564.3h1M233.7 567.7h1M239.1 567.7h1M238.7 566.8h1M241.8 566.3h1M238.9 564.3h1M234.4 569.1h1M234.5 562.7h1M236.0 559.6h1M227.8 567.5h1M240.5 572.4h1M231.4 569.5h1M239.8 570.3h1M230.0 569.6h1M230.4 567.9h1M237.8 568.1h1M233.4 567.4h1M240.1 565.7h1M232.5 566.0h1M231.8 569.5h1M229.7 558.3h1M240.8 565.5h1M234.8 565.8h1M230.5 566.7h1M235.3 567.9h1M249.8 546.5h1M246.2 548.2h1M245.3 577.5h1M245.8 547.2h1M259.6 546.8h1M256.2 552.2h1M257.2 546.1h1M260.3 547.1h1M246.9 572.0h1M255.6 566.0h1M255.3 543.1h1M255.4 547.1h1M257.6 546.1h1M256.1 547.9h1M245.5 572.6h1M258.1 544.1h1M248.7 550.0h1M257.3 548.7h1M245.2 547.5h1M247.1 542.7h1M256.4 548.4h1M256.5 546.2h1M254.9 577.4h1M247.5 570.1h1M247.9 544.2h1M244.3 547.2h1M249.1 545.6h1M257.3 549.6h1M257.9 551.7h1M258.4 551.3h1M246.8 550.3h1M259.0 575.7h1M256.0 551.6h1M258.8 544.0h1M246.0 548.2h1M247.1 547.9h1M248.9 547.7h1M249.7 577.0h1M245.8 542.7h1M245.5 570.8h1M247.6 548.7h1M249.8 546.9h1M247.5 544.8h1M249.0 545.7h1M260.8 568.7h1M257.6 556.6h1M255.9 542.7h1M260.4 547.0h1M249.3 559.0h1M245.7 548.7h1M257.4 544.0h1M244.7 544.8h1M249.4 550.6h1M256.3 543.3h1M248.8 549.5h1M248.3 542.8h1M244.8 547.0h1M255.6 575.5h1M254.5 548.6h1M247.3 545.7h1M256.3 550.0h1M245.8 548.6h1M257.0 547.7h1M257.5 546.3h1M256.1 544.3h1M256.7 545.6h1M248.2 545.7h1M259.9 547.8h1M255.0 547.8h1M244.5 542.7h1M249.0 547.4h1M260.6 549.2h1M247.7 546.4h1M257.0 546.7h1M245.8 557.4h1M257.3 545.0h1M250.0 545.0h1M244.3 546.3h1M266.7 552.3h1M271.9 548.9h1M271.6 549.0h1M268.5 558.9h1M268.5 548.6h1M262.9 561.5h1M272.7 549.2h1M263.8 553.5h1M264.3 548.0h1M267.2 553.6h1M273.1 548.2h1M265.2 549.4h1M263.6 550.4h1M270.2 548.3h1M273.4 550.7h1M273.7 550.8h1M273.9 548.2h1M265.3 549.3h1M271.7 549.1h1M274.1 548.3h1M274.6 549.8h1M272.2 547.8h1M267.1 551.7h1M265.1 552.2h1M275.6 550.0h1M273.3 551.1h1M269.0 553.9h1M266.1 548.4h1M269.9 549.6h1M269.6 577.5h1M269.7 572.9h1M266.7 547.8h1M272.5 550.1h1M269.3 547.1h1M274.3 550.0h1M267.6 548.5h1M266.7 549.2h1M276.7 548.5h1M272.3 551.2h1M268.7 547.4h1M267.3 546.7h1M271.0 556.3h1M262.7 550.3h1M263.8 547.4h1M263.6 570.5h1M268.1 547.9h1M269.1 542.7h1M267.4 563.2h1M271.4 556.8h1M275.0 577.5h1M274.5 577.5h1M266.0 549.3h1M273.5 546.8h1M266.4 562.6h1M267.1 545.6h1M267.1 550.4h1M276.3 550.9h1M262.5 552.8h1M272.4 546.2h1M267.1 547.2h1M276.1 557.1h1M269.5 557.7h1M266.3 548.2h1M272.0 569.0h1M266.8 548.7h1M276.4 550.0h1M269.3 547.1h1M273.5 547.2h1M263.5 551.7h1M265.7 547.7h1M267.4 546.1h1M274.5 548.5h1M265.1 549.2h1M271.8 574.9h1M273.5 548.2h1M266.9 574.8h1M271.3 548.8h1M263.5 572.5h1M273.4 565.1h1M276.9 549.1h1M277.7 551.9h1M270.1 548.2h1M272.3 571.6h1M276.4 577.3h1M264.9 552.5h1M269.8 552.0h1M278.1 551.4h1M269.6 549.3h1M271.7 550.8h1M262.6 551.0h1M265.1 575.4h1M269.3 549.9h1M266.3 566.6h1M275.6 549.3h1M263.3 550.1h1M265.4 560.0h1M287.2 562.6h1M281.2 557.2h1M294.9 560.6h1M292.2 559.1h1M291.9 568.2h1M285.1 561.5h1M279.5 563.3h1M282.6 560.8h1M286.5 569.4h1M288.7 558.2h1M291.1 565.4h1M283.2 564.1h1M285.4 565.4h1M286.0 567.9h1M285.1 565.8h1M293.9 565.3h1M283.2 562.3h1M283.1 565.2h1M291.2 566.2h1M293.9 567.8h1M282.7 566.6h1M282.7 569.1h1M292.0 559.1h1M291.3 564.7h1M295.0 567.2h1M288.9 567.5h1M285.4 567.1h1M281.1 566.5h1M284.1 562.4h1M293.5 569.1h1M281.5 555.6h1M294.5 565.5h1M279.8 569.2h1M285.1 563.2h1M295.0 569.4h1M288.5 569.0h1M284.5 566.8h1M287.1 568.5h1M286.5 562.2h1M290.0 566.3h1M294.5 568.0h1M286.5 567.4h1M293.0 566.4h1M293.9 565.8h1M294.8 570.2h1M286.5 566.9h1M279.7 563.2h1M293.5 567.5h1M282.5 563.5h1M292.2 563.8h1M294.4 566.4h1M286.9 568.6h1M280.9 566.9h1M292.4 566.7h1M295.0 570.5h1M283.9 571.1h1M294.0 561.6h1M293.4 565.9h1M281.6 568.6h1M293.5 567.8h1M281.4 564.3h1M287.3 569.1h1M290.0 568.7h1M290.3 552.4h1M281.9 564.7h1M281.2 568.9h1M281.3 568.5h1M281.2 567.7h1M287.2 555.8h1M288.9 568.5h1M292.4 566.6h1M288.8 568.5h1M279.7 565.8h1M290.5 567.7h1M285.9 558.1h1M288.6 568.2h1M280.1 570.8h1M291.5 569.9h1M292.6 563.4h1M280.3 569.6h1M279.6 564.1h1M280.8 571.0h1M295.0 567.7h1M294.0 559.7h1M281.2 556.4h1M286.1 570.2h1M291.3 566.3h1M285.6 555.5h1M288.8 558.2h1M284.0 566.9h1M282.3 567.1h1M293.4 571.2h1M280.8 565.5h1M290.0 568.2h1M309.3 570.2h1M298.5 564.6h1M310.4 567.8h1M303.3 567.0h1M297.9 561.5h1M299.3 569.3h1M302.3 568.0h1M310.7 569.7h1M300.0 568.5h1M300.7 568.2h1M305.0 570.1h1M300.5 572.1h1M303.3 571.3h1M300.8 565.6h1M306.6 566.6h1M297.9 556.0h1M307.3 555.3h1M304.8 564.0h1M302.2 561.0h1M300.1 565.5h1M301.8 562.8h1M302.2 566.8h1M306.3 569.7h1M304.5 566.8h1M298.4 562.8h1M296.9 566.7h1M296.7 571.0h1M308.2 565.2h1M304.4 567.0h1M298.1 570.0h1M311.0 565.0h1M297.4 567.3h1M302.5 568.3h1M308.5 565.4h1M299.6 559.9h1M301.1 567.8h1M302.6 565.9h1M296.9 568.9h1M301.8 566.2h1M308.0 566.2h1M308.8 565.7h1M298.4 566.2h1M296.9 571.1h1M302.9 564.6h1M304.9 565.3h1M300.2 565.0h1M309.8 567.8h1M299.4 565.8h1M306.6 564.4h1M303.6 566.1h1M296.5 567.7h1M307.9 569.1h1M296.6 562.5h1M305.0 570.3h1M303.7 567.4h1M302.3 568.7h1M305.5 568.0h1M296.6 568.3h1M306.0 565.5h1M310.3 570.4h1M310.9 563.7h1M307.9 563.0h1M296.7 570.6h1M303.0 570.3h1M309.6 565.1h1M308.8 563.8h1M302.6 564.6h1M297.8 567.2h1M299.8 565.2h1M309.8 566.7h1M300.4 569.1h1M309.5 572.0h1M305.0 558.5h1M307.2 562.5h1M311.0 568.2h1M296.9 565.8h1M304.8 563.2h1M297.7 570.1h1M300.1 565.8h1M301.9 569.9h1M309.9 570.8h1M298.2 570.5h1M301.3 555.9h1M305.4 567.3h1M310.3 554.4h1M301.0 568.3h1M306.6 567.8h1M304.4 565.5h1M305.9 567.7h1M306.6 569.7h1M305.4 568.3h1M310.8 566.2h1M322.9 558.8h1M317.8 571.0h1M316.0 572.3h1M320.4 568.3h1M321.8 567.9h1M325.6 571.7h1M319.6 560.7h1M323.8 567.4h1M323.7 566.8h1M317.5 564.1h1M316.8 566.2h1M321.2 566.1h1M316.4 566.9h1M319.8 568.6h1M317.6 571.8h1M318.4 565.1h1M322.5 562.3h1M321.3 571.2h1M324.6 568.7h1M323.9 565.3h1M323.9 571.7h1M317.9 564.5h1M321.6 568.3h1M324.7 554.2h1M323.7 568.3h1M318.9 567.9h1M320.4 567.8h1M318.2 568.9h1M317.9 562.7h1M323.2 565.7h1M321.1 565.6h1M316.0 566.4h1M320.7 567.7h1M316.2 565.1h1M315.7 569.4h1M317.3 568.7h1M325.2 565.3h1M320.0 563.1h1M317.4 565.0h1M321.4 566.0h1M325.4 564.8h1M322.0 560.7h1M318.3 568.8h1M324.7 569.6h1M325.0 571.7h1M317.4 567.5h1M323.8 554.6h1M319.1 566.0h1M324.0 567.6h1M320.4 563.4h1M319.6 566.7h1M318.2 566.4h1M320.0 563.1h1M325.4 564.8h1M324.1 565.0h1M320.7 567.2h1M316.6 572.8h1M321.0 567.2h1M321.1 568.7h1M335.7 546.7h1M333.3 552.3h1M331.0 543.8h1M337.1 572.9h1M336.2 546.0h1M337.5 546.4h1M338.6 571.2h1M338.7 544.2h1M329.0 542.7h1M339.6 548.0h1M333.8 575.5h1M335.7 574.0h1M329.3 553.0h1M337.3 548.1h1M329.8 569.1h1M333.8 564.1h1M337.9 547.5h1M331.2 548.4h1M340.0 549.3h1M338.8 564.1h1M336.5 551.3h1M340.0 573.0h1M334.9 547.9h1M339.3 575.7h1M335.3 551.1h1M331.8 573.1h1M332.5 558.8h1M331.1 572.4h1M337.2 546.4h1M328.8 545.7h1M330.4 548.7h1M334.5 546.8h1M329.8 546.7h1M331.9 562.4h1M330.2 545.4h1M335.2 566.7h1M329.2 547.1h1M336.7 551.1h1M331.6 550.4h1M335.2 544.3h1M336.9 577.5h1M329.3 548.4h1M335.8 547.4h1M334.5 547.3h1M336.5 543.0h1M331.2 575.9h1M332.4 548.0h1M330.2 553.0h1M337.6 545.0h1M336.1 545.8h1M329.2 577.5h1M332.0 545.4h1M334.0 544.4h1M333.8 548.8h1M337.6 548.0h1M335.9 544.6h1M330.0 547.7h1M332.8 544.0h1M339.4 569.9h1M339.2 572.8h1M334.7 546.7h1M332.0 556.9h1M328.7 551.6h1M342.7 577.5h1M344.1 551.6h1M342.7 550.3h1M345.6 544.8h1M349.6 568.3h1M347.6 544.8h1M347.0 548.5h1M349.0 543.0h1M348.0 548.5h1M350.6 560.4h1M347.8 545.0h1M342.8 547.4h1M347.4 551.4h1M344.6 572.1h1M346.0 577.5h1M350.7 543.9h1M349.6 548.5h1M344.0 550.2h1M348.8 548.8h1M346.9 575.3h1M345.9 544.1h1M348.5 548.4h1M347.6 577.5h1M345.6 556.1h1M349.0 549.7h1M351.7 550.4h1M345.2 565.6h1M343.1 553.1h1M351.2 561.1h1M342.5 547.1h1M349.1 546.1h1M350.5 545.8h1M349.7 549.9h1M346.8 549.3h1M348.2 546.3h1M349.4 547.9h1M351.6 566.2h1M346.8 570.0h1M351.6 576.8h1M345.2 544.7h1M348.5 550.0h1M349.3 548.4h1M345.2 560.8h1M348.7 547.3h1M348.4 570.2h1M345.3 547.7h1M349.6 577.5h1M350.3 545.6h1M345.1 577.4h1M345.5 566.9h1M344.3 558.3h1M346.7 545.9h1M347.9 551.4h1M351.5 546.9h1M351.6 544.7h1M346.0 546.8h1M360.9 565.7h1M357.5 565.3h1M357.6 568.6h1M358.2 569.9h1M361.4 568.4h1M362.2 563.8h1M363.5 566.5h1M354.8 566.3h1M362.6 556.7h1M357.8 572.1h1M357.6 567.0h1M354.7 571.8h1M355.9 571.2h1M363.0 568.2h1M354.9 567.1h1M363.0 564.6h1M358.3 566.8h1M359.6 571.9h1M357.5 568.7h1M362.5 566.9h1M356.8 564.7h1M358.5 555.5h1M355.1 571.8h1M353.4 562.4h1M355.3 569.7h1M357.3 567.1h1M353.7 567.5h1M357.6 566.9h1M354.0 566.5h1M358.0 566.9h1M353.9 566.9h1M353.5 566.6h1M353.7 566.8h1M360.8 569.3h1M353.9 568.2h1M356.0 566.6h1M359.5 569.1h1M355.6 565.3h1M357.4 567.2h1M353.7 565.4h1M360.9 567.8h1M355.7 566.6h1M362.2 566.9h1M356.0 563.0h1M358.5 556.2h1M360.0 564.4h1M360.8 564.0h1M362.9 568.8h1M363.5 565.9h1M355.1 570.4h1M358.3 560.0h1M363.0 566.7h1M357.0 565.4h1M354.2 565.6h1M358.6 567.2h1M358.7 567.2h1M354.6 569.1h1M356.3 564.8h1M360.8 566.3h1M361.3 566.9h1M354.7 566.7h1M365.8 566.4h1M365.1 566.4h1M373.0 566.7h1M370.2 557.0h1M368.2 571.0h1M365.7 566.8h1M366.8 567.1h1M365.6 565.5h1M372.9 552.8h1M370.9 568.8h1M370.5 564.2h1M365.1 562.2h1M369.7 556.7h1M371.9 572.9h1M367.5 552.6h1M373.1 564.3h1M367.0 563.0h1M369.3 563.1h1M365.3 567.9h1M367.9 567.3h1M369.3 568.7h1M365.0 565.7h1M369.0 568.4h1M365.8 565.2h1M370.8 567.6h1M369.7 560.9h1M371.1 566.4h1M368.0 556.7h1M365.1 559.5h1M368.3 567.0h1M367.3 566.0h1M365.6 568.5h1M371.0 565.4h1M365.9 567.8h1M372.4 563.4h1M372.4 565.6h1M369.3 568.1h1M365.0 567.6h1M370.0 567.9h1M364.9 567.0h1M366.9 567.6h1M365.1 566.7h1M367.0 569.9h1M369.4 569.3h1M370.5 566.0h1M368.0 567.2h1M368.7 567.8h1M368.4 570.0h1M368.9 568.4h1M368.3 572.2h1M378.1 562.3h1M380.8 567.1h1M375.7 569.9h1M382.2 564.6h1M379.9 569.5h1M378.1 566.5h1M377.2 566.2h1M381.3 566.2h1M378.3 566.7h1M374.8 553.3h1M380.2 569.8h1M378.3 562.9h1M378.7 565.1h1M374.7 568.4h1M375.2 569.3h1M375.0 566.4h1M379.7 569.7h1M381.9 563.9h1M377.8 569.9h1M380.3 566.0h1M375.4 568.1h1M375.3 566.6h1M379.2 565.4h1M382.1 566.9h1M381.0 570.3h1M375.6 569.8h1M375.6 567.4h1M382.7 565.3h1M375.3 566.0h1M381.9 564.8h1M381.0 563.9h1M378.3 568.0h1M381.4 566.7h1M381.7 567.6h1M376.5 566.5h1M379.3 569.0h1M377.9 570.2h1M382.7 572.1h1M381.4 565.2h1M382.4 564.6h1M376.1 569.0h1M377.7 565.5h1M379.9 564.6h1M381.1 569.8h1M381.6 567.8h1M378.6 568.6h1M380.4 564.6h1M382.6 553.3h1M378.1 567.0h1M382.6 564.4h1M384.5 567.0h1M390.0 563.0h1M389.1 568.3h1M389.7 566.3h1M389.6 556.0h1M387.8 567.6h1M387.1 567.0h1M384.3 565.3h1M388.9 566.4h1M385.9 571.1h1M388.3 569.2h1M384.5 566.2h1M384.6 568.6h1M386.0 563.7h1M390.6 563.2h1M386.0 559.7h1M385.4 565.4h1M385.4 567.7h1M388.1 568.6h1M390.5 571.2h1M388.9 566.9h1M386.8 565.5h1M388.9 572.0h1M387.2 569.2h1M390.4 567.6h1M385.0 571.1h1M384.5 563.6h1M388.2 565.8h1M387.2 568.2h1M388.1 568.8h1M384.4 566.8h1M385.8 571.2h1M384.9 563.4h1M388.4 567.3h1M388.8 567.5h1M387.4 564.8h1M390.1 568.5h1M388.8 564.2h1M393.0 569.6h1M393.1 567.2h1M397.9 568.6h1M395.3 557.2h1M392.6 564.3h1M393.4 564.7h1M396.3 569.1h1M394.3 571.1h1M396.1 566.5h1M398.2 564.7h1M394.5 561.2h1M394.3 569.5h1M393.9 567.1h1M392.6 567.7h1M392.5 566.7h1M398.4 573.0h1M395.8 563.1h1M395.1 564.6h1M393.1 570.8h1M396.2 552.4h1M393.8 567.0h1M398.0 563.0h1M392.4 563.5h1M393.1 572.2h1M394.4 568.6h1M392.7 566.4h1M392.5 570.2h1M398.1 566.1h1M392.1 568.5h1M398.9 567.5h1M394.9 569.7h1M396.8 566.8h1M393.7 567.0h1M397.1 569.1h1M394.2 569.0h1M394.3 565.2h1M398.4 553.1h1M397.4 569.6h1M393.3 571.0h1M396.3 564.4h1M395.9 565.8h1M397.1 569.9h1M391.8 570.4h1M404.1 568.7h1M403.6 566.2h1M404.5 568.6h1M403.0 565.5h1M402.0 560.8h1M403.6 565.8h1M404.0 571.6h1M401.5 564.6h1M402.8 568.0h1M403.0 567.8h1M403.9 559.6h1M402.5 571.3h1M404.6 569.0h1M403.0 571.8h1M402.5 567.3h1M401.3 566.6h1M403.5 567.0h1M401.9 568.6h1M402.2 565.1h1M403.1 566.5h1M404.2 564.9h1M404.2 561.9h1M403.3 562.1h1M403.9 565.4h1M403.3 569.2h1M404.3 568.8h1M404.6 567.0h1M403.6 566.4h1M409.6 570.5h1M408.9 568.4h1M408.4 564.9h1M410.3 569.8h1M407.3 564.6h1M410.8 568.4h1M410.3 565.6h1M409.9 565.5h1M408.6 565.3h1M407.9 570.2h1M409.1 566.7h1M408.9 564.9h1M409.8 566.9h1M410.1 570.2h1M409.0 568.0h1M410.7 556.7h1M407.4 566.7h1M408.7 558.5h1M407.7 565.3h1" stroke="#172626" stroke-width="1.15" fill="none"/><path d="M63.1 607.8h1M68.5 610.9h1M79.3 596.8h1M55.1 610.0h1M68.8 618.6h1M70.9 610.4h1M61.5 609.4h1M77.1 606.0h1M52.0 609.4h1M73.6 609.2h1M52.9 616.7h1M58.6 595.6h1M55.8 608.2h1M52.0 602.6h1M66.8 598.8h1M71.9 612.8h1M62.2 608.7h1M67.5 608.3h1M68.0 609.5h1M62.9 611.1h1M79.2 608.0h1M49.8 593.8h1M64.0 605.0h1M71.8 611.6h1M76.8 612.3h1M68.4 603.7h1M71.5 606.7h1M51.9 607.4h1M68.0 600.0h1M55.5 611.3h1M55.4 614.3h1M67.1 611.8h1M71.0 598.1h1M68.4 614.3h1M75.9 607.2h1M49.9 610.2h1M68.5 606.5h1M70.2 609.7h1M57.6 605.5h1M61.3 614.9h1M53.3 611.6h1M76.1 608.3h1M68.9 604.7h1M73.4 612.0h1M72.7 609.9h1M73.3 612.1h1M70.3 595.2h1M71.5 606.4h1M76.8 612.7h1M55.4 612.7h1M73.7 606.5h1M77.5 611.5h1M76.8 611.0h1M53.2 608.4h1M68.2 609.3h1M62.6 610.5h1M75.3 609.9h1M76.8 608.4h1M76.4 613.7h1M73.4 610.6h1M78.8 606.0h1M55.1 605.7h1M54.9 602.2h1M63.4 610.0h1M70.7 609.2h1M54.3 609.9h1M75.6 614.4h1M77.1 613.9h1M72.7 608.3h1M60.1 610.1h1M59.6 608.8h1M68.9 605.9h1M61.5 609.3h1M78.8 609.2h1M50.7 597.1h1M78.1 607.8h1M57.9 609.5h1M61.2 615.1h1M51.5 604.9h1M71.3 610.9h1M68.3 611.5h1M63.2 611.7h1M71.7 606.3h1M60.3 606.2h1M56.9 594.2h1M68.3 609.9h1M68.5 609.2h1M53.0 610.0h1M74.0 604.9h1M62.3 608.6h1M70.2 611.1h1M51.8 608.6h1M60.2 610.4h1M77.2 608.5h1M77.8 602.1h1M55.2 606.0h1M76.2 609.0h1M73.8 608.2h1M51.9 605.3h1M72.6 608.5h1M70.9 608.0h1M73.9 608.3h1M71.0 613.0h1M60.8 610.3h1M52.8 605.8h1M50.4 611.4h1M67.4 609.5h1M74.2 615.2h1M64.0 607.7h1M57.7 593.6h1M71.1 611.4h1M68.7 596.7h1M49.3 611.3h1M52.3 608.3h1M58.6 610.2h1M54.1 610.4h1M70.3 611.1h1M69.2 606.5h1M79.5 606.9h1M59.6 609.1h1M66.5 608.3h1M70.9 606.1h1M53.1 607.9h1M74.3 609.6h1M73.4 611.8h1M69.1 611.7h1M67.9 607.4h1M71.1 611.7h1M55.3 607.3h1M63.4 613.3h1M66.4 615.5h1M67.6 607.3h1M55.0 609.7h1M78.0 613.3h1M49.8 611.5h1M57.3 608.7h1M53.7 608.5h1M72.2 612.2h1M62.5 603.8h1M51.0 609.4h1M51.4 613.4h1M56.6 615.5h1M75.7 610.2h1M76.9 609.4h1M58.4 611.6h1M50.7 608.2h1M79.1 615.4h1M55.3 614.4h1M55.5 612.9h1M76.8 603.1h1M56.1 609.7h1M60.7 607.6h1M77.6 612.4h1M50.7 611.4h1M56.8 614.8h1M50.3 606.6h1M69.0 610.0h1M75.1 609.7h1M56.5 610.5h1M64.2 605.7h1M75.9 606.6h1M73.7 609.9h1M58.8 609.0h1M74.3 611.0h1M73.3 610.2h1M72.5 598.6h1M53.6 609.9h1M71.7 608.7h1M59.6 602.2h1M51.1 611.7h1M75.0 610.8h1M55.5 613.6h1M55.5 606.9h1M57.3 608.9h1M85.6 609.3h1M81.6 610.1h1M82.6 609.8h1M93.7 607.3h1M100.9 611.5h1M87.8 610.1h1M105.2 613.6h1M101.6 608.5h1M92.7 609.0h1M95.2 607.8h1M98.4 607.3h1M93.1 608.4h1M91.4 603.7h1M109.5 607.6h1M99.6 610.5h1M92.4 601.3h1M85.5 607.5h1M88.2 605.6h1M105.8 609.1h1M101.5 607.0h1M89.5 611.5h1M84.8 612.0h1M95.4 610.0h1M96.2 608.8h1M103.7 611.4h1M105.8 607.6h1M109.1 602.6h1M92.9 609.0h1M102.9 593.9h1M90.2 606.3h1M110.3 604.5h1M86.2 611.2h1M97.9 606.7h1M82.5 610.7h1M87.0 611.1h1M100.6 607.3h1M94.3 609.6h1M103.5 609.5h1M81.3 604.7h1M104.0 602.2h1M88.5 598.3h1M105.2 608.0h1M90.6 607.4h1M97.3 607.6h1M96.0 612.5h1M103.5 602.9h1M93.2 611.4h1M90.6 607.5h1M87.3 611.8h1M98.0 607.9h1M87.9 607.2h1M98.8 600.2h1M110.6 615.3h1M88.0 611.7h1M110.7 610.4h1M106.9 604.7h1M88.2 613.5h1M91.9 609.9h1M84.5 612.9h1M83.1 612.6h1M86.9 607.8h1M99.0 610.7h1M109.1 617.9h1M103.0 607.4h1M93.2 608.4h1M88.0 611.9h1M108.9 612.0h1M94.2 608.1h1M107.8 613.7h1M98.7 607.6h1M101.0 609.9h1M95.0 613.2h1M110.0 608.8h1M83.0 607.7h1M87.3 611.5h1M99.6 605.1h1M84.6 609.9h1M81.7 609.9h1M84.7 608.0h1M93.4 604.1h1M106.4 605.1h1M93.4 605.2h1M85.7 613.3h1M82.4 610.7h1M90.8 604.5h1M92.8 609.2h1M95.3 609.9h1M97.4 608.1h1M103.4 609.5h1M91.9 613.0h1M96.4 610.5h1M106.7 608.3h1M105.9 614.1h1M82.7 612.9h1M108.9 609.2h1M108.4 605.0h1M94.4 611.0h1M100.9 611.0h1M97.8 596.1h1M95.1 612.3h1M95.8 609.3h1M87.0 606.6h1M106.2 607.7h1M88.8 610.4h1M92.3 615.4h1M95.6 609.8h1M98.0 614.9h1M105.1 605.6h1M103.9 605.6h1M89.7 598.8h1M89.8 609.6h1M107.1 611.7h1M102.9 604.0h1M91.8 610.1h1M109.2 610.6h1M100.6 612.2h1M110.6 608.6h1M110.4 610.1h1M96.8 610.8h1M95.5 609.6h1M91.0 616.1h1M106.7 606.3h1M99.3 610.0h1M107.0 604.8h1M103.6 602.0h1M93.2 609.7h1M91.0 615.1h1M95.3 613.4h1M107.2 611.7h1M101.2 609.1h1M110.6 604.8h1M104.4 607.7h1M103.2 608.6h1M85.3 615.6h1M108.8 612.1h1M102.7 596.0h1M86.5 611.0h1M98.0 609.0h1M103.7 600.6h1M110.1 611.1h1M109.2 602.2h1M103.0 614.3h1M86.5 609.9h1M92.0 612.1h1M97.1 614.4h1M85.9 608.9h1M88.0 608.6h1M97.7 606.6h1M95.8 612.1h1M100.2 598.5h1M104.9 606.4h1M109.3 609.6h1M87.4 610.9h1M101.5 604.4h1M88.3 600.9h1M99.3 594.8h1M84.3 610.0h1M99.6 614.6h1M104.5 607.4h1M92.5 609.6h1M101.8 611.1h1M101.5 613.4h1M109.8 612.7h1M97.0 609.4h1M88.2 602.6h1M93.4 610.5h1M103.8 614.9h1M97.2 596.7h1M89.1 606.9h1M102.1 615.0h1M83.1 606.1h1M93.1 608.7h1M84.8 609.5h1M109.5 600.3h1M84.6 607.0h1M88.7 606.8h1M94.5 609.8h1M107.3 613.6h1M93.0 607.0h1M127.6 609.8h1M120.2 611.8h1M121.5 594.7h1M131.5 604.7h1M125.8 610.9h1M119.8 608.8h1M123.8 605.1h1M115.5 607.7h1M130.0 605.3h1M121.1 606.5h1M119.4 595.2h1M129.5 608.7h1M132.4 610.8h1M119.5 606.0h1M117.4 608.3h1M131.6 601.2h1M117.2 609.2h1M128.5 610.0h1M135.3 613.6h1M118.5 608.5h1M120.6 608.0h1M114.8 614.8h1M126.8 606.8h1M124.6 611.7h1M130.9 611.1h1M128.2 603.9h1M133.7 612.8h1M119.4 595.0h1M112.4 603.2h1M130.1 612.7h1M122.6 612.5h1M117.2 605.8h1M114.5 614.5h1M113.5 611.0h1M134.7 606.8h1M113.1 607.4h1M116.5 613.0h1M116.5 614.6h1M127.9 612.4h1M124.6 608.6h1M133.7 609.3h1M129.2 611.1h1M132.0 604.6h1M115.9 607.4h1M126.3 599.7h1M127.2 608.7h1M121.3 608.1h1M126.0 608.8h1M128.8 599.8h1M130.6 612.2h1M135.2 607.4h1M133.3 602.7h1M134.8 609.5h1M118.7 610.4h1M135.4 607.6h1M116.8 611.8h1M135.5 604.9h1M134.2 610.8h1M123.0 613.3h1M112.9 605.7h1M134.9 611.3h1M132.3 609.4h1M113.6 612.1h1M129.3 612.3h1M135.1 612.5h1M126.3 606.0h1M130.8 609.2h1M121.5 609.3h1M115.7 606.5h1M133.1 607.2h1M129.8 610.0h1M113.3 610.5h1M123.2 594.3h1M123.2 608.4h1M126.7 613.4h1M124.0 607.4h1M116.1 607.8h1M129.3 610.3h1M123.8 613.1h1M128.7 606.2h1M135.0 606.7h1M120.4 610.9h1M118.0 603.3h1M115.5 611.2h1M117.4 597.8h1M129.3 610.2h1M114.9 605.7h1M112.9 614.3h1M115.1 610.1h1M125.7 607.6h1M130.5 604.9h1M125.5 610.7h1M115.9 599.5h1M119.9 608.2h1M113.7 605.9h1M124.4 609.9h1M124.7 608.9h1M135.2 612.1h1M114.9 615.3h1M117.8 609.8h1M123.1 610.5h1M113.2 609.6h1M112.8 610.8h1M116.3 607.3h1M130.8 611.6h1M119.2 611.8h1M126.3 615.2h1M119.2 608.6h1M132.5 611.6h1M131.4 606.8h1M121.8 608.4h1M123.7 610.1h1M123.4 607.4h1M112.7 606.8h1M130.8 607.9h1M125.8 609.4h1M133.5 609.8h1M129.9 607.3h1M117.4 613.2h1M113.5 603.9h1M134.2 613.5h1M123.3 607.0h1M131.7 612.5h1M120.4 609.4h1M113.1 603.5h1M135.0 604.6h1M127.7 613.8h1M117.4 611.9h1M131.5 611.4h1M113.1 606.1h1M122.6 608.7h1M129.2 605.3h1M114.7 609.9h1M133.6 606.5h1M126.6 610.3h1M127.9 614.3h1M122.9 605.8h1M120.7 603.6h1M132.2 609.2h1M120.4 608.5h1M115.0 606.9h1M141.4 611.2h1M149.1 608.2h1M153.2 609.3h1M154.3 611.3h1M150.9 607.1h1M145.8 609.2h1M151.0 604.1h1M158.3 610.5h1M139.8 609.4h1M148.4 608.6h1M139.6 607.1h1M146.5 611.6h1M141.3 609.4h1M138.3 610.5h1M143.8 606.4h1M159.0 613.1h1M138.1 604.5h1M142.6 608.1h1M158.0 610.9h1M141.6 608.7h1M138.2 607.3h1M137.0 602.7h1M142.1 613.0h1M138.1 607.2h1M153.7 596.1h1M148.0 610.3h1M151.8 610.8h1M152.7 610.3h1M156.1 611.0h1M146.9 612.8h1M143.2 603.2h1M138.4 611.9h1M156.7 609.7h1M147.5 610.8h1M157.0 614.6h1M138.0 603.8h1M149.9 609.9h1M137.6 609.7h1M154.2 608.2h1M157.1 607.7h1M144.1 608.0h1M154.4 607.2h1M159.6 608.1h1M142.6 612.0h1M156.5 607.8h1M142.4 611.5h1M147.4 611.1h1M141.6 607.0h1M148.0 610.3h1M159.5 607.1h1M153.6 612.6h1M151.3 609.8h1M151.2 611.1h1M149.6 608.9h1M146.8 597.0h1M141.0 608.3h1M159.6 603.5h1M145.2 605.9h1M150.8 607.5h1M157.0 610.4h1M146.7 610.8h1M159.6 611.2h1M156.9 606.7h1M149.0 606.8h1M138.1 610.8h1M137.4 610.2h1M156.7 608.4h1M148.0 604.3h1M150.5 608.6h1M150.5 604.7h1M148.7 610.5h1M141.4 605.5h1M147.2 611.9h1M155.0 607.2h1M147.0 609.7h1M139.8 606.8h1M154.8 609.1h1M142.6 610.1h1M148.3 609.2h1M139.6 610.3h1M145.4 609.5h1M155.0 612.7h1M149.1 606.8h1M150.0 606.5h1M159.8 607.4h1M152.2 607.1h1M153.1 603.2h1M154.7 605.9h1M144.2 606.7h1M143.4 608.9h1M155.3 607.4h1M156.0 611.6h1M155.9 612.8h1M153.4 610.6h1M149.7 612.3h1M154.6 606.3h1M150.4 604.8h1M157.8 607.4h1M159.0 607.7h1M145.3 612.1h1M159.5 613.4h1M146.5 611.2h1M137.1 611.5h1M152.4 607.4h1M159.1 608.4h1M138.7 606.1h1M139.0 609.0h1M149.1 610.4h1M143.8 609.0h1M156.1 609.0h1M160.1 606.8h1M151.8 613.0h1M143.5 610.3h1M159.2 605.2h1M139.3 607.5h1M148.3 610.1h1M140.8 609.2h1M159.4 607.2h1M153.9 595.1h1M158.5 610.2h1M148.9 611.3h1M159.0 609.2h1M137.9 607.5h1M152.0 609.2h1M153.9 608.5h1M151.7 608.0h1M151.5 604.7h1M141.7 610.1h1M153.9 610.5h1M158.0 611.7h1M154.5 606.1h1M158.7 613.1h1M159.2 609.5h1M147.1 612.8h1M155.2 609.6h1M147.6 608.5h1M151.0 607.0h1M140.5 612.1h1M154.2 604.4h1M177.9 608.3h1M169.4 600.8h1M179.6 609.0h1M170.8 613.5h1M175.5 609.9h1M180.5 610.2h1M164.9 610.2h1M163.8 610.1h1M169.7 605.2h1M170.2 608.9h1M162.8 607.3h1M162.4 608.3h1M180.5 611.1h1M172.8 610.9h1M179.5 608.0h1M174.4 610.5h1M179.7 607.1h1M169.3 612.4h1M166.2 609.9h1M168.7 611.9h1M171.7 607.3h1M175.8 607.5h1M181.1 608.5h1M165.7 612.6h1M163.2 606.8h1M182.1 608.0h1M182.3 611.3h1M166.1 614.3h1M181.6 607.2h1M181.8 608.9h1M167.2 613.0h1M175.7 612.0h1M178.3 605.9h1M162.6 610.9h1M171.0 610.5h1M163.2 610.6h1M181.3 612.1h1M179.1 605.3h1M173.1 609.1h1M164.0 611.0h1M163.8 608.7h1M175.0 601.4h1M165.3 606.8h1M169.9 610.0h1M173.4 611.1h1M175.7 611.7h1M179.4 611.9h1M179.6 614.2h1M166.5 601.2h1M181.6 610.4h1M178.5 608.8h1M181.4 611.5h1M172.6 606.7h1M168.6 609.5h1M178.5 610.2h1M173.4 607.7h1M177.1 607.7h1M179.8 611.9h1M176.4 614.1h1M181.2 615.2h1M176.3 608.2h1M176.2 608.2h1M171.8 614.0h1M176.7 611.1h1M166.4 615.2h1M170.3 610.6h1M180.3 607.0h1M177.2 606.8h1M168.8 607.0h1M172.6 595.6h1M174.4 599.3h1M181.8 600.9h1M174.6 609.4h1M163.4 607.7h1M167.5 608.8h1M167.1 604.0h1M169.5 613.6h1M182.1 609.3h1M161.7 607.6h1M162.9 606.8h1M161.6 615.6h1M168.0 615.4h1M177.8 606.5h1M179.6 607.5h1M161.4 593.6h1M167.7 605.2h1M163.7 612.2h1M179.6 607.0h1M164.6 610.1h1M177.2 606.1h1M178.8 605.4h1M170.6 607.3h1M162.0 614.2h1M162.7 607.8h1M178.4 611.3h1M179.3 606.7h1M162.8 608.3h1M178.7 612.0h1M181.6 606.0h1M171.8 606.7h1M177.6 616.5h1M177.7 601.5h1M171.4 597.3h1M172.1 609.5h1M166.6 602.1h1M174.3 606.7h1M179.4 607.7h1M173.7 609.8h1M166.0 606.4h1M174.1 611.1h1M178.1 612.4h1M165.0 608.6h1M174.5 608.0h1M172.0 609.3h1M179.4 605.7h1M177.1 596.2h1M168.6 606.0h1M174.3 605.0h1M163.0 610.0h1M171.6 607.6h1M164.1 595.7h1M162.7 608.4h1M161.9 609.2h1M169.3 605.7h1M176.8 608.4h1M165.7 602.8h1M194.9 605.3h1M203.3 607.6h1M201.5 613.9h1M202.2 612.6h1M194.1 608.4h1M189.3 604.6h1M189.0 609.5h1M191.5 595.7h1M190.9 605.9h1M202.4 607.6h1M203.3 609.9h1M198.3 605.5h1M192.0 607.4h1M194.2 608.8h1M196.1 604.1h1M202.1 608.5h1M193.1 610.5h1M185.5 605.4h1M202.8 606.5h1M194.2 605.0h1M201.9 611.9h1M203.8 608.4h1M191.4 611.4h1M199.4 608.7h1M200.2 613.7h1M201.5 609.6h1M202.1 606.6h1M185.9 612.0h1M197.2 606.8h1M187.2 609.8h1M203.5 607.9h1M186.7 609.7h1M191.9 609.8h1M185.2 605.1h1M204.2 607.3h1M186.2 609.7h1M189.3 611.9h1M194.7 607.8h1M185.4 607.1h1M197.6 608.7h1M199.7 611.7h1M183.8 608.7h1M192.3 608.7h1M202.7 608.9h1M196.6 610.0h1M191.0 612.2h1M192.0 605.2h1M201.5 609.2h1M197.3 608.2h1M190.0 610.9h1M191.3 607.9h1M189.6 611.5h1M196.9 606.1h1M200.3 602.6h1M203.5 612.4h1M198.3 610.1h1M198.7 611.7h1M192.2 609.7h1M193.7 602.8h1M200.6 612.1h1M197.7 612.6h1M189.8 606.4h1M185.3 610.9h1M191.0 612.5h1M195.4 606.1h1M198.4 611.2h1M200.3 606.9h1M189.2 599.2h1M191.5 609.0h1M187.0 611.0h1M195.7 608.6h1M185.7 609.1h1M190.1 611.6h1M197.5 610.0h1M196.8 612.8h1M187.5 608.4h1M196.9 604.6h1M185.7 597.9h1M203.8 605.6h1M193.9 610.6h1M204.3 607.9h1M204.3 608.7h1M193.1 609.4h1M194.5 607.9h1M193.8 607.6h1M195.4 595.3h1M189.2 611.3h1M195.1 607.8h1M184.0 610.8h1M203.8 608.4h1M190.3 596.9h1M198.0 610.1h1M203.9 605.3h1M193.5 609.8h1M204.2 609.6h1M203.6 611.3h1M200.1 608.7h1M197.1 611.5h1M183.8 603.1h1M183.9 617.1h1M187.6 610.1h1M200.4 610.6h1M203.6 609.6h1M187.8 606.9h1M192.7 611.1h1M187.2 612.0h1M204.0 607.8h1M191.1 604.8h1M195.2 611.1h1M200.0 607.7h1M191.0 611.2h1M184.0 612.2h1M203.8 610.2h1M188.9 610.0h1M204.2 611.6h1M193.1 608.7h1M192.3 605.0h1M187.7 609.4h1M188.6 604.1h1M190.9 608.3h1M194.6 603.1h1M191.5 609.2h1M201.1 608.5h1M191.2 606.2h1M197.5 605.2h1M193.5 616.0h1M221.2 596.8h1M206.5 599.3h1M222.1 598.2h1M218.7 603.2h1M211.4 598.4h1M211.3 599.2h1M219.7 589.9h1M208.6 593.6h1M209.5 594.8h1M213.2 598.7h1M209.9 598.0h1M212.9 605.0h1M211.1 597.2h1M218.8 592.7h1M218.7 595.1h1M207.0 596.8h1M217.7 597.3h1M213.9 594.1h1M207.3 592.7h1M214.9 602.1h1M209.8 597.7h1M210.4 587.6h1M213.3 598.6h1M214.1 604.9h1M221.3 602.7h1M216.5 601.0h1M206.2 597.2h1M207.6 599.6h1M222.1 601.0h1M210.6 601.2h1M216.3 599.5h1M213.6 599.5h1M219.6 589.0h1M206.2 597.3h1M219.8 601.6h1M208.9 597.5h1M209.5 585.5h1M220.9 604.6h1M224.5 602.9h1M216.5 605.4h1M208.7 585.5h1M206.6 599.4h1M210.0 603.8h1M205.8 601.5h1M220.0 600.8h1M211.3 597.9h1M224.1 605.2h1M224.1 598.4h1M212.6 599.6h1M207.8 597.1h1M213.2 605.7h1M220.0 599.7h1M211.6 600.2h1M221.2 600.5h1M224.0 601.1h1M209.6 598.5h1M212.6 594.7h1M214.5 599.4h1M214.8 598.5h1M214.2 597.4h1M214.4 606.1h1M215.8 597.5h1M206.3 596.0h1M208.6 593.6h1M206.4 596.0h1M223.3 606.8h1M214.0 603.7h1M220.6 604.0h1M209.7 600.6h1M209.1 586.5h1M213.9 596.9h1M205.8 594.7h1M209.9 598.9h1M212.5 598.9h1M210.2 598.4h1M224.0 602.6h1M207.7 594.0h1M222.5 596.5h1M222.3 585.5h1M212.6 594.0h1M216.1 606.0h1M206.5 600.5h1M221.7 602.4h1M215.0 597.8h1M211.2 597.2h1M210.7 597.3h1M222.5 603.3h1M214.9 597.8h1M208.7 596.1h1M220.7 599.0h1M222.6 601.3h1M206.9 593.7h1M206.8 597.7h1M208.8 597.8h1M224.5 600.4h1M218.0 601.4h1M218.7 594.9h1M210.9 601.4h1M209.0 585.5h1M215.2 599.2h1M209.4 600.2h1M205.9 604.0h1M209.3 595.4h1M221.5 597.3h1M218.4 597.2h1M211.6 601.0h1M216.4 600.7h1M209.6 596.1h1M211.4 598.7h1M217.5 595.0h1M206.3 587.9h1M215.2 604.8h1M211.7 601.1h1M238.1 608.3h1M241.7 610.7h1M242.5 607.4h1M238.1 605.3h1M228.8 610.0h1M235.3 613.4h1M234.6 610.6h1M229.0 611.7h1M226.0 606.6h1M228.7 609.7h1M231.6 609.1h1M227.9 602.5h1M227.3 609.7h1M233.1 606.7h1M233.3 610.3h1M226.6 608.6h1M231.2 609.3h1M241.7 608.5h1M239.4 597.9h1M238.7 607.4h1M227.8 605.0h1M241.7 603.8h1M226.2 608.8h1M241.7 609.7h1M225.9 608.8h1M239.6 605.7h1M226.9 613.9h1M237.2 607.2h1M239.4 610.2h1M228.8 608.5h1M236.5 613.8h1M241.9 607.9h1M228.9 608.3h1M241.7 613.7h1M228.9 593.4h1M235.5 604.4h1M239.3 609.7h1M236.0 612.5h1M234.9 612.0h1M235.6 612.7h1M236.4 608.9h1M240.0 609.5h1M239.6 613.7h1M235.4 614.0h1M235.4 610.3h1M230.3 610.3h1M240.5 610.1h1M237.0 608.7h1M231.2 605.7h1M241.7 596.1h1M234.1 605.7h1M229.1 608.3h1M234.6 608.5h1M236.5 607.2h1M237.9 612.9h1M231.7 607.3h1M233.7 605.0h1M239.2 608.0h1M242.9 612.1h1M232.0 611.7h1M236.8 608.1h1M227.2 601.4h1M240.2 610.4h1M240.1 610.2h1M232.0 601.1h1M241.5 613.6h1M236.9 611.6h1M231.9 613.2h1M234.1 602.8h1M227.1 612.1h1M233.3 612.9h1M225.8 606.9h1M241.6 609.5h1M239.2 605.7h1M226.0 607.1h1M233.2 615.7h1M233.0 609.4h1M230.6 606.8h1M233.7 608.3h1M239.1 609.6h1M238.7 611.1h1M241.8 610.6h1M238.9 610.8h1M234.4 609.7h1M234.5 606.7h1M236.0 597.9h1M227.8 608.5h1M240.5 609.0h1M231.4 612.4h1M239.8 602.3h1M230.0 611.7h1M230.4 610.0h1M237.8 615.7h1M233.4 603.9h1M240.1 612.6h1M232.5 606.2h1M231.8 606.9h1M229.7 601.7h1M240.8 606.9h1M234.8 607.8h1M230.5 604.9h1M235.3 607.7h1M249.8 601.2h1M246.2 600.4h1M245.3 594.1h1M245.8 594.6h1M259.6 600.3h1M256.2 606.8h1M257.2 601.8h1M260.3 599.4h1M246.9 588.6h1M255.6 598.2h1M255.3 601.0h1M255.4 605.4h1M257.6 607.9h1M256.1 598.9h1M245.5 594.0h1M258.1 603.8h1M248.7 602.6h1M257.3 597.5h1M245.2 602.8h1M247.1 600.5h1M256.4 601.0h1M256.5 601.4h1M254.9 601.1h1M247.5 587.1h1M247.9 600.6h1M244.3 596.4h1M249.1 602.9h1M257.3 601.6h1M257.9 601.9h1M258.4 596.2h1M246.8 602.1h1M259.0 605.9h1M256.0 605.5h1M258.8 606.7h1M246.0 599.3h1M247.1 600.4h1M248.9 598.5h1M249.7 586.0h1M245.8 605.5h1M245.5 592.8h1M247.6 603.2h1M249.8 597.5h1M247.5 600.0h1M249.0 603.8h1M260.8 597.4h1M257.6 600.2h1M255.9 602.9h1M260.4 601.1h1M249.3 599.8h1M245.7 601.5h1M257.4 601.6h1M244.7 595.4h1M249.4 601.6h1M256.3 599.9h1M248.8 598.2h1M248.3 602.0h1M244.8 601.9h1M255.6 602.3h1M254.5 602.0h1M247.3 600.5h1M256.3 605.5h1M245.8 607.9h1M257.0 603.0h1M257.5 601.5h1M256.1 603.6h1M256.7 598.0h1M248.2 605.2h1M259.9 604.2h1M255.0 601.6h1M244.5 599.8h1M249.0 601.8h1M260.6 605.6h1M247.7 599.8h1M257.0 601.0h1M245.8 599.7h1M257.3 598.1h1M250.0 602.7h1M244.3 599.4h1M266.7 608.7h1M271.9 605.4h1M271.6 595.8h1M268.5 601.1h1M268.5 604.0h1M262.9 597.7h1M272.7 603.3h1M263.8 600.3h1M264.3 601.4h1M267.2 601.8h1M273.1 597.3h1M265.2 602.0h1M263.6 605.7h1M270.2 601.7h1M273.4 607.5h1M273.7 602.9h1M273.9 603.5h1M265.3 602.4h1M271.7 600.7h1M274.1 606.9h1M274.6 607.1h1M272.2 610.5h1M267.1 602.2h1M265.1 605.7h1M275.6 608.6h1M273.3 601.3h1M269.0 598.3h1M266.1 589.2h1M269.9 597.4h1M269.6 601.6h1M269.7 601.9h1M266.7 597.7h1M272.5 605.5h1M269.3 599.5h1M274.3 601.8h1M267.6 602.5h1M266.7 601.7h1M276.7 608.3h1M272.3 602.2h1M268.7 606.3h1M267.3 602.5h1M271.0 601.9h1M262.7 601.3h1M263.8 600.0h1M263.6 590.3h1M268.1 607.0h1M269.1 597.8h1M267.4 605.9h1M271.4 610.3h1M275.0 607.4h1M274.5 595.9h1M266.0 598.4h1M273.5 595.7h1M266.4 603.6h1M267.1 602.1h1M267.1 602.1h1M276.3 606.3h1M262.5 604.3h1M272.4 602.8h1M267.1 607.5h1M276.1 605.0h1M269.5 599.3h1M266.3 589.7h1M272.0 590.3h1M266.8 602.3h1M276.4 604.6h1M269.3 607.6h1M273.5 603.9h1M263.5 597.3h1M265.7 602.5h1M267.4 601.0h1M274.5 601.0h1M265.1 604.4h1M271.8 604.1h1M273.5 604.4h1M266.9 601.3h1M271.3 599.4h1M263.5 594.7h1M273.4 604.3h1M276.9 606.3h1M277.7 605.6h1M270.1 603.6h1M272.3 610.4h1M276.4 602.8h1M264.9 596.4h1M269.8 606.0h1M278.1 605.4h1M269.6 604.8h1M271.7 606.5h1M262.6 599.9h1M265.1 601.4h1M269.3 603.5h1M266.3 601.7h1M275.6 603.1h1M263.3 603.9h1M265.4 605.3h1M287.2 611.4h1M281.2 608.6h1M294.9 608.7h1M292.2 608.1h1M291.9 613.4h1M285.1 613.3h1M279.5 609.5h1M282.6 598.7h1M286.5 613.5h1M288.7 613.0h1M291.1 610.1h1M283.2 611.7h1M285.4 616.6h1M286.0 614.2h1M285.1 611.0h1M293.9 610.6h1M283.2 611.2h1M283.1 611.6h1M291.2 613.8h1M293.9 608.7h1M282.7 612.7h1M282.7 615.3h1M292.0 609.8h1M291.3 611.9h1M295.0 604.6h1M288.9 606.4h1M285.4 609.0h1M281.1 609.4h1M284.1 613.5h1M293.5 615.1h1M281.5 601.7h1M294.5 614.7h1M279.8 604.8h1M285.1 597.2h1M295.0 613.1h1M288.5 607.2h1M284.5 615.3h1M287.1 610.4h1M286.5 612.0h1M290.0 609.5h1M294.5 611.6h1M286.5 609.8h1M293.0 606.2h1M293.9 611.9h1M294.8 594.6h1M286.5 610.7h1M279.7 609.0h1M293.5 613.5h1M282.5 612.1h1M292.2 609.7h1M294.4 608.5h1M286.9 610.0h1M280.9 604.9h1M292.4 609.3h1M295.0 609.1h1M283.9 606.7h1M294.0 608.5h1M293.4 606.9h1M281.6 610.9h1M293.5 610.1h1M281.4 608.6h1M287.3 604.5h1M290.0 606.2h1M290.3 612.7h1M281.9 612.3h1M281.2 613.9h1M281.3 606.6h1M281.2 607.4h1M287.2 611.9h1M288.9 610.4h1M292.4 608.7h1M288.8 608.4h1M279.7 613.2h1M290.5 605.6h1M285.9 612.8h1M288.6 606.7h1M280.1 609.9h1M291.5 608.7h1M292.6 611.2h1M280.3 612.3h1M279.6 610.5h1M280.8 605.7h1M295.0 608.8h1M294.0 597.2h1M281.2 604.7h1M286.1 610.6h1M291.3 605.6h1M285.6 613.5h1M288.8 614.9h1M284.0 611.2h1M282.3 610.7h1M293.4 599.3h1M280.8 611.7h1M290.0 611.5h1M309.3 614.1h1M298.5 612.0h1M310.4 609.4h1M303.3 609.9h1M297.9 616.1h1M299.3 607.3h1M302.3 610.3h1M310.7 606.2h1M300.0 613.3h1M300.7 607.6h1M305.0 614.3h1M300.5 611.4h1M303.3 609.6h1M300.8 611.1h1M306.6 609.2h1M297.9 604.5h1M307.3 602.9h1M304.8 604.3h1M302.2 608.7h1M300.1 607.3h1M301.8 611.8h1M302.2 606.1h1M306.3 608.3h1M304.5 614.6h1M298.4 598.1h1M296.9 608.2h1M296.7 603.3h1M308.2 608.7h1M304.4 608.2h1M298.1 596.3h1M311.0 605.6h1M297.4 604.1h1M302.5 606.3h1M308.5 607.5h1M299.6 613.0h1M301.1 614.3h1M302.6 608.3h1M296.9 613.3h1M301.8 612.2h1M308.0 603.9h1M308.8 606.8h1M298.4 607.4h1M296.9 607.7h1M302.9 611.6h1M304.9 610.9h1M300.2 603.3h1M309.8 610.1h1M299.4 614.9h1M306.6 610.4h1M303.6 609.7h1M296.5 611.7h1M307.9 606.3h1M296.6 603.4h1M305.0 610.0h1M303.7 604.7h1M302.3 607.8h1M305.5 609.4h1M296.6 608.2h1M306.0 611.4h1M310.3 608.1h1M310.9 609.6h1M307.9 608.6h1M296.7 615.2h1M303.0 599.2h1M309.6 608.0h1M308.8 609.1h1M302.6 612.4h1M297.8 609.6h1M299.8 604.5h1M309.8 611.1h1M300.4 608.1h1M309.5 608.7h1M305.0 607.3h1M307.2 609.4h1M311.0 609.4h1M296.9 605.2h1M304.8 612.5h1M297.7 607.5h1M300.1 606.2h1M301.9 608.8h1M309.9 608.2h1M298.2 605.4h1M301.3 601.6h1M305.4 609.0h1M310.3 606.4h1M301.0 608.7h1M306.6 611.5h1M304.4 609.1h1M305.9 604.9h1M306.6 608.8h1M305.4 610.3h1M310.8 605.1h1M322.9 594.1h1M317.8 607.9h1M316.0 612.4h1M320.4 611.7h1M321.8 615.9h1M325.6 607.0h1M319.6 603.9h1M323.8 611.7h1M323.7 601.4h1M317.5 608.3h1M316.8 608.0h1M321.2 611.6h1M316.4 611.2h1M319.8 607.1h1M317.6 607.7h1M318.4 612.6h1M322.5 606.4h1M321.3 606.2h1M324.6 610.5h1M323.9 610.1h1M323.9 610.3h1M317.9 610.0h1M321.6 605.1h1M324.7 608.4h1M323.7 611.0h1M318.9 614.4h1M320.4 610.2h1M318.2 609.0h1M317.9 604.9h1M323.2 609.6h1M321.1 607.6h1M316.0 607.8h1M320.7 603.5h1M316.2 613.2h1M315.7 606.3h1M317.3 608.9h1M325.2 605.9h1M320.0 610.0h1M317.4 608.5h1M321.4 606.6h1M325.4 601.5h1M322.0 604.7h1M318.3 615.2h1M324.7 609.3h1M325.0 605.6h1M317.4 613.7h1M323.8 609.0h1M319.1 610.5h1M324.0 609.6h1M320.4 605.6h1M319.6 606.3h1M318.2 609.3h1M320.0 607.3h1M325.4 606.6h1M324.1 607.0h1M320.7 609.3h1M316.6 613.5h1M321.0 608.6h1M321.1 610.8h1M335.7 600.8h1M333.3 605.6h1M331.0 598.1h1M337.1 607.8h1M336.2 600.2h1M337.5 603.4h1M338.6 607.4h1M338.7 606.5h1M329.0 603.2h1M339.6 603.1h1M333.8 592.3h1M335.7 591.1h1M329.3 604.5h1M337.3 606.2h1M329.8 602.7h1M333.8 594.6h1M337.9 606.1h1M331.2 603.4h1M340.0 605.5h1M338.8 601.6h1M336.5 597.9h1M340.0 588.1h1M334.9 604.2h1M339.3 607.6h1M335.3 599.6h1M331.8 601.8h1M332.5 591.6h1M331.1 603.6h1M337.2 603.0h1M328.8 603.8h1M330.4 602.1h1M334.5 598.9h1M329.8 601.4h1M331.9 599.2h1M330.2 601.2h1M335.2 605.6h1M329.2 607.0h1M336.7 600.1h1M331.6 598.6h1M335.2 604.9h1M336.9 602.7h1M329.3 600.8h1M335.8 601.3h1M334.5 603.2h1M336.5 603.1h1M331.2 601.4h1M332.4 591.7h1M330.2 605.2h1M337.6 598.5h1M336.1 598.5h1M329.2 599.7h1M332.0 604.0h1M334.0 600.9h1M333.8 588.3h1M337.6 604.6h1M335.9 601.3h1M330.0 600.6h1M332.8 601.0h1M339.4 603.8h1M339.2 597.0h1M334.7 598.7h1M332.0 603.2h1M328.7 598.4h1M342.7 602.3h1M344.1 601.1h1M342.7 599.4h1M345.6 601.5h1M349.6 603.8h1M347.6 603.2h1M347.0 603.5h1M349.0 598.8h1M348.0 601.8h1M350.6 599.2h1M347.8 601.9h1M342.8 605.4h1M347.4 593.8h1M344.6 600.6h1M346.0 601.4h1M350.7 598.2h1M349.6 602.2h1M344.0 597.8h1M348.8 602.6h1M346.9 602.2h1M345.9 602.4h1M348.5 602.5h1M347.6 599.6h1M345.6 601.8h1M349.0 601.8h1M351.7 600.5h1M345.2 605.0h1M343.1 602.7h1M351.2 599.6h1M342.5 602.4h1M349.1 604.3h1M350.5 600.6h1M349.7 601.6h1M346.8 602.1h1M348.2 604.4h1M349.4 603.9h1M351.6 599.6h1M346.8 603.5h1M351.6 602.8h1M345.2 602.3h1M348.5 606.1h1M349.3 601.0h1M345.2 600.6h1M348.7 603.9h1M348.4 594.7h1M345.3 602.4h1M349.6 605.5h1M350.3 601.4h1M345.1 601.7h1M345.5 599.5h1M344.3 589.8h1M346.7 598.8h1M347.9 603.2h1M351.5 601.1h1M351.6 604.8h1M346.0 602.6h1M360.9 605.3h1M357.5 601.9h1M357.6 610.0h1M358.2 608.3h1M361.4 607.4h1M362.2 607.0h1M363.5 611.5h1M354.8 617.2h1M362.6 608.6h1M357.8 613.1h1M357.6 610.7h1M354.7 614.0h1M355.9 605.6h1M363.0 609.6h1M354.9 608.4h1M363.0 612.1h1M358.3 608.6h1M359.6 599.8h1M357.5 610.8h1M362.5 597.6h1M356.8 610.4h1M358.5 614.9h1M355.1 608.9h1M353.4 612.7h1M355.3 609.7h1M357.3 609.2h1M353.7 603.8h1M357.6 606.4h1M354.0 612.2h1M358.0 611.4h1M353.9 606.9h1M353.5 610.4h1M353.7 613.0h1M360.8 607.9h1M353.9 603.7h1M356.0 609.8h1M359.5 614.7h1M355.6 605.7h1M357.4 607.0h1M353.7 603.8h1M360.9 606.0h1M355.7 605.9h1M362.2 605.6h1M356.0 614.9h1M358.5 607.8h1M360.0 608.3h1M360.8 607.8h1M362.9 610.8h1M363.5 608.8h1M355.1 609.4h1M358.3 612.2h1M363.0 606.9h1M357.0 611.0h1M354.2 609.8h1M358.6 611.9h1M358.7 609.9h1M354.6 609.7h1M356.3 612.9h1M360.8 612.2h1M361.3 608.4h1M354.7 609.7h1M365.8 609.2h1M365.1 610.5h1M373.0 614.0h1M370.2 613.5h1M368.2 608.3h1M365.7 609.2h1M366.8 603.4h1M365.6 613.1h1M372.9 609.4h1M370.9 607.2h1M370.5 607.9h1M365.1 605.9h1M369.7 611.6h1M371.9 605.9h1M367.5 603.7h1M373.1 611.8h1M367.0 608.1h1M369.3 608.9h1M365.3 607.9h1M367.9 610.6h1M369.3 608.7h1M365.0 608.1h1M369.0 607.2h1M365.8 613.9h1M370.8 608.9h1M369.7 606.0h1M371.1 609.4h1M368.0 601.4h1M365.1 609.1h1M368.3 611.3h1M367.3 612.9h1M365.6 605.3h1M371.0 611.1h1M365.9 606.8h1M372.4 607.4h1M372.4 610.0h1M369.3 608.1h1M365.0 603.9h1M370.0 606.8h1M364.9 613.6h1M366.9 611.3h1M365.1 606.5h1M367.0 609.5h1M369.4 606.6h1M370.5 609.8h1M368.0 605.7h1M368.7 613.2h1M368.4 609.8h1M368.9 609.3h1M368.3 609.4h1M378.1 608.7h1M380.8 612.0h1M375.7 605.7h1M382.2 606.7h1M379.9 611.7h1M378.1 605.2h1M377.2 604.8h1M381.3 610.6h1M378.3 594.7h1M374.8 594.5h1M380.2 611.3h1M378.3 606.6h1M378.7 611.9h1M374.7 604.6h1M375.2 614.9h1M375.0 607.7h1M379.7 609.1h1M381.9 597.0h1M377.8 608.1h1M380.3 607.9h1M375.4 611.2h1M375.3 606.6h1M379.2 608.7h1M382.1 612.0h1M381.0 606.9h1M375.6 611.1h1M375.6 611.8h1M382.7 612.2h1M375.3 612.1h1M381.9 608.9h1M381.0 607.2h1M378.3 606.2h1M381.4 609.8h1M381.7 611.6h1M376.5 612.2h1M379.3 607.0h1M377.9 606.6h1M382.7 610.6h1M381.4 608.4h1M382.4 608.8h1M376.1 609.7h1M377.7 610.6h1M379.9 610.8h1M381.1 607.5h1M381.6 611.6h1M378.6 607.9h1M380.4 610.1h1M382.6 615.1h1M378.1 610.1h1M382.6 610.0h1M384.5 609.0h1M390.0 605.9h1M389.1 610.7h1M389.7 607.3h1M389.6 608.2h1M387.8 610.0h1M387.1 608.8h1M384.3 610.9h1M388.9 609.7h1M385.9 608.7h1M388.3 603.0h1M384.5 612.8h1M384.6 608.0h1M386.0 613.4h1M390.6 609.7h1M386.0 612.1h1M385.4 607.3h1M385.4 607.4h1M388.1 607.9h1M390.5 609.3h1M388.9 613.2h1M386.8 614.9h1M388.9 613.4h1M387.2 601.5h1M390.4 611.2h1M385.0 614.9h1M384.5 611.6h1M388.2 606.4h1M387.2 604.5h1M388.1 613.8h1M384.4 606.0h1M385.8 607.1h1M384.9 607.6h1M388.4 609.4h1M388.8 608.1h1M387.4 609.0h1M390.1 605.2h1M388.8 612.7h1M393.0 615.6h1M393.1 610.7h1M397.9 614.0h1M395.3 610.1h1M392.6 611.1h1M393.4 608.6h1M396.3 612.2h1M394.3 609.1h1M396.1 605.4h1M398.2 606.2h1M394.5 612.1h1M394.3 611.1h1M393.9 609.7h1M392.6 610.1h1M392.5 608.3h1M398.4 611.5h1M395.8 614.6h1M395.1 610.8h1M393.1 605.9h1M396.2 610.5h1M393.8 603.3h1M398.0 608.3h1M392.4 611.2h1M393.1 596.6h1M394.4 611.2h1M392.7 610.7h1M392.5 607.6h1M398.1 612.4h1M392.1 610.7h1M398.9 608.4h1M394.9 610.5h1M396.8 611.4h1M393.7 611.8h1M397.1 612.2h1M394.2 607.7h1M394.3 609.1h1M398.4 607.9h1M397.4 607.9h1M393.3 609.3h1M396.3 609.1h1M395.9 606.1h1M397.1 616.0h1M391.8 593.9h1M404.1 612.3h1M403.6 610.2h1M404.5 607.8h1M403.0 607.5h1M402.0 596.9h1M403.6 605.0h1M404.0 609.3h1M401.5 614.0h1M402.8 606.2h1M403.0 611.7h1M403.9 605.9h1M402.5 604.0h1M404.6 608.8h1M403.0 594.5h1M402.5 615.5h1M401.3 609.0h1M403.5 605.4h1M401.9 610.3h1M402.2 610.1h1M403.1 612.2h1M404.2 609.7h1M404.2 612.0h1M403.3 613.8h1M403.9 610.2h1M403.3 608.2h1M404.3 611.6h1M404.6 611.1h1M403.6 612.8h1M409.6 597.3h1M408.9 613.4h1M408.4 609.0h1M410.3 612.0h1M407.3 607.8h1M410.8 607.9h1M410.3 603.1h1M409.9 616.0h1M408.6 610.2h1M407.9 606.7h1M409.1 610.8h1M408.9 612.8h1M409.8 603.5h1M410.1 596.6h1M409.0 613.3h1M410.7 606.8h1M407.4 609.1h1M408.7 598.3h1M407.7 609.5h1" stroke="#172626" stroke-width="1.15" fill="none"/><line x1="49.3" y1="566.97" x2="79.8" y2="566.97" stroke="#a8283a" stroke-width="0.9"/><line x1="81" y1="566.97" x2="110.9" y2="566.97" stroke="#a8283a" stroke-width="0.9"/><line x1="112.1" y1="566.97" x2="135.7" y2="566.97" stroke="#a8283a" stroke-width="0.9"/><line x1="136.9" y1="566.97" x2="160.1" y2="566.97" stroke="#a8283a" stroke-width="0.9"/><line x1="161.3" y1="566.97" x2="182.3" y2="566.97" stroke="#a8283a" stroke-width="0.9"/><line x1="183.5" y1="566.97" x2="204.5" y2="566.97" stroke="#a8283a" stroke-width="0.9"/><line x1="205.7" y1="547.48" x2="224.6" y2="547.48" stroke="#a8283a" stroke-width="0.9"/><line x1="225.8" y1="566.97" x2="242.9" y2="566.97" stroke="#a8283a" stroke-width="0.9"/><line x1="244.1" y1="546.36" x2="260.9" y2="546.36" stroke="#a8283a" stroke-width="0.9"/><line x1="262.1" y1="549.34" x2="278.2" y2="549.34" stroke="#a8283a" stroke-width="0.9"/><line x1="279.4" y1="566.97" x2="295.1" y2="566.97" stroke="#a8283a" stroke-width="0.9"/><line x1="296.3" y1="566.97" x2="311.7" y2="566.97" stroke="#a8283a" stroke-width="0.9"/><line x1="312.9" y1="566.97" x2="326" y2="566.97" stroke="#a8283a" stroke-width="0.9"/><line x1="327.2" y1="546.36" x2="340" y2="546.36" stroke="#a8283a" stroke-width="0.9"/><line x1="341.2" y1="547.11" x2="352.1" y2="547.11" stroke="#a8283a" stroke-width="0.9"/><line x1="353.3" y1="566.97" x2="363.6" y2="566.97" stroke="#a8283a" stroke-width="0.9"/><line x1="364.8" y1="566.97" x2="373.2" y2="566.97" stroke="#a8283a" stroke-width="0.9"/><line x1="374.4" y1="566.97" x2="382.9" y2="566.97" stroke="#a8283a" stroke-width="0.9"/><line x1="384.1" y1="566.97" x2="390.6" y2="566.97" stroke="#a8283a" stroke-width="0.9"/><line x1="391.8" y1="566.97" x2="399" y2="566.97" stroke="#a8283a" stroke-width="0.9"/><line x1="400.2" y1="566.97" x2="405.4" y2="566.97" stroke="#a8283a" stroke-width="0.9"/><line x1="406.6" y1="566.97" x2="411.1" y2="566.97" stroke="#a8283a" stroke-width="0.9"/><line x1="49.3" y1="609.35" x2="79.8" y2="609.35" stroke="#a8283a" stroke-width="0.9"/><line x1="81" y1="609.35" x2="110.9" y2="609.35" stroke="#a8283a" stroke-width="0.9"/><line x1="112.1" y1="609.35" x2="135.7" y2="609.35" stroke="#a8283a" stroke-width="0.9"/><line x1="136.9" y1="609.35" x2="160.1" y2="609.35" stroke="#a8283a" stroke-width="0.9"/><line x1="161.3" y1="609.35" x2="182.3" y2="609.35" stroke="#a8283a" stroke-width="0.9"/><line x1="183.5" y1="609.35" x2="204.5" y2="609.35" stroke="#a8283a" stroke-width="0.9"/><line x1="205.7" y1="597.65" x2="224.6" y2="601.24" stroke="#a8283a" stroke-width="0.9"/><line x1="225.8" y1="609.35" x2="242.9" y2="609.35" stroke="#a8283a" stroke-width="0.9"/><line x1="244.1" y1="600.16" x2="260.9" y2="601.6" stroke="#a8283a" stroke-width="0.9"/><line x1="262.1" y1="600.88" x2="278.2" y2="605.19" stroke="#a8283a" stroke-width="0.9"/><line x1="279.4" y1="609.35" x2="295.1" y2="609.35" stroke="#a8283a" stroke-width="0.9"/><line x1="296.3" y1="609.35" x2="311.7" y2="609.35" stroke="#a8283a" stroke-width="0.9"/><line x1="312.9" y1="609.35" x2="326" y2="609.35" stroke="#a8283a" stroke-width="0.9"/><line x1="327.2" y1="601.45" x2="340" y2="602.89" stroke="#a8283a" stroke-width="0.9"/><line x1="341.2" y1="602.31" x2="352.1" y2="602.31" stroke="#a8283a" stroke-width="0.9"/><line x1="353.3" y1="609.35" x2="363.6" y2="609.35" stroke="#a8283a" stroke-width="0.9"/><line x1="364.8" y1="609.35" x2="373.2" y2="609.35" stroke="#a8283a" stroke-width="0.9"/><line x1="374.4" y1="609.35" x2="382.9" y2="609.35" stroke="#a8283a" stroke-width="0.9"/><line x1="384.1" y1="609.35" x2="390.6" y2="609.35" stroke="#a8283a" stroke-width="0.9"/><line x1="391.8" y1="609.35" x2="399" y2="609.35" stroke="#a8283a" stroke-width="0.9"/><line x1="400.2" y1="609.35" x2="405.4" y2="609.35" stroke="#a8283a" stroke-width="0.9"/><line x1="406.6" y1="609.35" x2="411.1" y2="609.35" stroke="#a8283a" stroke-width="0.9"/><rect x="48.7" y="541.2" width="363" height="37.8" fill="none" stroke="#777" stroke-width="0.7"/><line x1="80.4" y1="541.2" x2="80.4" y2="579" stroke="#666" stroke-width="0.6"/><line x1="111.5" y1="541.2" x2="111.5" y2="579" stroke="#666" stroke-width="0.6"/><line x1="136.3" y1="541.2" x2="136.3" y2="579" stroke="#666" stroke-width="0.6"/><line x1="160.7" y1="541.2" x2="160.7" y2="579" stroke="#666" stroke-width="0.6"/><line x1="182.9" y1="541.2" x2="182.9" y2="579" stroke="#666" stroke-width="0.6"/><line x1="205.1" y1="541.2" x2="205.1" y2="579" stroke="#666" stroke-width="0.6"/><line x1="225.2" y1="541.2" x2="225.2" y2="579" stroke="#666" stroke-width="0.6"/><line x1="243.5" y1="541.2" x2="243.5" y2="579" stroke="#666" stroke-width="0.6"/><line x1="261.5" y1="541.2" x2="261.5" y2="579" stroke="#666" stroke-width="0.6"/><line x1="278.8" y1="541.2" x2="278.8" y2="579" stroke="#666" stroke-width="0.6"/><line x1="295.7" y1="541.2" x2="295.7" y2="579" stroke="#666" stroke-width="0.6"/><line x1="312.3" y1="541.2" x2="312.3" y2="579" stroke="#666" stroke-width="0.6"/><line x1="326.6" y1="541.2" x2="326.6" y2="579" stroke="#666" stroke-width="0.6"/><line x1="340.6" y1="541.2" x2="340.6" y2="579" stroke="#666" stroke-width="0.6"/><line x1="352.7" y1="541.2" x2="352.7" y2="579" stroke="#666" stroke-width="0.6"/><line x1="364.2" y1="541.2" x2="364.2" y2="579" stroke="#666" stroke-width="0.6"/><line x1="373.8" y1="541.2" x2="373.8" y2="579" stroke="#666" stroke-width="0.6"/><line x1="383.5" y1="541.2" x2="383.5" y2="579" stroke="#666" stroke-width="0.6"/><line x1="391.2" y1="541.2" x2="391.2" y2="579" stroke="#666" stroke-width="0.6"/><line x1="399.6" y1="541.2" x2="399.6" y2="579" stroke="#666" stroke-width="0.6"/><line x1="406" y1="541.2" x2="406" y2="579" stroke="#666" stroke-width="0.6"/><rect x="48.7" y="584" width="363" height="37.6" fill="none" stroke="#777" stroke-width="0.7"/><line x1="80.4" y1="584" x2="80.4" y2="621.6" stroke="#666" stroke-width="0.6"/><line x1="111.5" y1="584" x2="111.5" y2="621.6" stroke="#666" stroke-width="0.6"/><line x1="136.3" y1="584" x2="136.3" y2="621.6" stroke="#666" stroke-width="0.6"/><line x1="160.7" y1="584" x2="160.7" y2="621.6" stroke="#666" stroke-width="0.6"/><line x1="182.9" y1="584" x2="182.9" y2="621.6" stroke="#666" stroke-width="0.6"/><line x1="205.1" y1="584" x2="205.1" y2="621.6" stroke="#666" stroke-width="0.6"/><line x1="225.2" y1="584" x2="225.2" y2="621.6" stroke="#666" stroke-width="0.6"/><line x1="243.5" y1="584" x2="243.5" y2="621.6" stroke="#666" stroke-width="0.6"/><line x1="261.5" y1="584" x2="261.5" y2="621.6" stroke="#666" stroke-width="0.6"/><line x1="278.8" y1="584" x2="278.8" y2="621.6" stroke="#666" stroke-width="0.6"/><line x1="295.7" y1="584" x2="295.7" y2="621.6" stroke="#666" stroke-width="0.6"/><line x1="312.3" y1="584" x2="312.3" y2="621.6" stroke="#666" stroke-width="0.6"/><line x1="326.6" y1="584" x2="326.6" y2="621.6" stroke="#666" stroke-width="0.6"/><line x1="340.6" y1="584" x2="340.6" y2="621.6" stroke="#666" stroke-width="0.6"/><line x1="352.7" y1="584" x2="352.7" y2="621.6" stroke="#666" stroke-width="0.6"/><line x1="364.2" y1="584" x2="364.2" y2="621.6" stroke="#666" stroke-width="0.6"/><line x1="373.8" y1="584" x2="373.8" y2="621.6" stroke="#666" stroke-width="0.6"/><line x1="383.5" y1="584" x2="383.5" y2="621.6" stroke="#666" stroke-width="0.6"/><line x1="391.2" y1="584" x2="391.2" y2="621.6" stroke="#666" stroke-width="0.6"/><line x1="399.6" y1="584" x2="399.6" y2="621.6" stroke="#666" stroke-width="0.6"/><line x1="406" y1="584" x2="406" y2="621.6" stroke="#666" stroke-width="0.6"/><line x1="46.2" y1="579.1" x2="48.3" y2="579.1" stroke="#777" stroke-width="0.5"/><text x="43.8" y="581.1" font-size="5.6" fill="#333" text-anchor="end">0.0</text><line x1="46.2" y1="571.66" x2="48.3" y2="571.66" stroke="#777" stroke-width="0.5"/><text x="43.8" y="573.66" font-size="5.6" fill="#333" text-anchor="end">0.1</text><line x1="46.2" y1="564.22" x2="48.3" y2="564.22" stroke="#777" stroke-width="0.5"/><text x="43.8" y="566.22" font-size="5.6" fill="#333" text-anchor="end">0.2</text><line x1="46.2" y1="556.78" x2="48.3" y2="556.78" stroke="#777" stroke-width="0.5"/><text x="43.8" y="558.78" font-size="5.6" fill="#333" text-anchor="end">0.3</text><line x1="46.2" y1="549.34" x2="48.3" y2="549.34" stroke="#777" stroke-width="0.5"/><text x="43.8" y="551.34" font-size="5.6" fill="#333" text-anchor="end">0.4</text><line x1="46.2" y1="541.9" x2="48.3" y2="541.9" stroke="#777" stroke-width="0.5"/><text x="43.8" y="543.9" font-size="5.6" fill="#333" text-anchor="end">0.5</text><line x1="46.2" y1="621.7" x2="48.3" y2="621.7" stroke="#777" stroke-width="0.5"/><text x="43.8" y="623.7" font-size="5.6" fill="#333" text-anchor="end">0.0</text><line x1="46.2" y1="614.52" x2="48.3" y2="614.52" stroke="#777" stroke-width="0.5"/><text x="43.8" y="616.52" font-size="5.6" fill="#333" text-anchor="end">0.5</text><line x1="46.2" y1="607.34" x2="48.3" y2="607.34" stroke="#777" stroke-width="0.5"/><text x="43.8" y="609.34" font-size="5.6" fill="#333" text-anchor="end">1.0</text><line x1="46.2" y1="600.16" x2="48.3" y2="600.16" stroke="#777" stroke-width="0.5"/><text x="43.8" y="602.16" font-size="5.6" fill="#333" text-anchor="end">1.5</text><line x1="46.2" y1="592.98" x2="48.3" y2="592.98" stroke="#777" stroke-width="0.5"/><text x="43.8" y="594.98" font-size="5.6" fill="#333" text-anchor="end">2.0</text><line x1="46.2" y1="585.8" x2="48.3" y2="585.8" stroke="#777" stroke-width="0.5"/><text x="43.8" y="587.8" font-size="5.6" fill="#333" text-anchor="end">2.5</text><text transform="translate(30 560) rotate(-90)" font-size="5.4" fill="#333" text-anchor="middle">B allele frequency</text><text transform="translate(30 602.7) rotate(-90)" font-size="5.5" fill="#333" text-anchor="middle">Depth ratio</text><text transform="translate(417.5 617.6) rotate(-90)" font-size="3.2" fill="#333" text-anchor="middle">0</text><text transform="translate(417.5 613.57) rotate(-90)" font-size="3.2" fill="#333" text-anchor="middle">1</text><text transform="translate(417.5 609.54) rotate(-90)" font-size="3.2" fill="#333" text-anchor="middle">2</text><text transform="translate(417.5 605.51) rotate(-90)" font-size="3.2" fill="#333" text-anchor="middle">3</text><text transform="translate(417.5 601.48) rotate(-90)" font-size="3.2" fill="#333" text-anchor="middle">4</text><text transform="translate(417.5 597.45) rotate(-90)" font-size="3.2" fill="#333" text-anchor="middle">5</text><text transform="translate(417.5 593.42) rotate(-90)" font-size="3.2" fill="#333" text-anchor="middle">6</text><text transform="translate(417.5 589.39) rotate(-90)" font-size="3.2" fill="#333" text-anchor="middle">7</text><text transform="translate(426.5 603.3) rotate(-90)" font-size="5.4" fill="#333" text-anchor="middle">Copy number</text><text x="65" y="631.3" font-size="5.3" fill="#333" text-anchor="middle">chr1</text><text x="95.8" y="631.3" font-size="5.3" fill="#333" text-anchor="middle">chr2</text><text x="123.7" y="631.3" font-size="5.3" fill="#333" text-anchor="middle">chr3</text><text x="149" y="631.3" font-size="5.3" fill="#333" text-anchor="middle">chr4</text><text x="171.3" y="631.3" font-size="5.3" fill="#333" text-anchor="middle">chr5</text><text x="193.9" y="631.3" font-size="5.3" fill="#333" text-anchor="middle">chr6</text><text x="214.6" y="631.3" font-size="5.3" fill="#333" text-anchor="middle">chr7</text><text x="234.3" y="631.3" font-size="5.3" fill="#333" text-anchor="middle">chr8</text><text x="252.3" y="631.3" font-size="5.3" fill="#333" text-anchor="middle">chr9</text><text x="269.6" y="631.3" font-size="5.3" fill="#333" text-anchor="middle">chr10</text><text x="287" y="631.3" font-size="5.3" fill="#333" text-anchor="middle">chr11</text><text x="304.2" y="631.3" font-size="5.3" fill="#333" text-anchor="middle">chr12</text><text x="319.2" y="631.3" font-size="5.3" fill="#333" text-anchor="middle">chr13</text><text x="346.3" y="631.3" font-size="5.3" fill="#333" text-anchor="middle">chr15</text><text x="368.5" y="631.3" font-size="5.3" fill="#333" text-anchor="middle">chr17</text><text x="389.6" y="631.3" font-size="5.3" fill="#333" text-anchor="middle">chr19</text><text x="404" y="631.3" font-size="5.3" fill="#333" text-anchor="middle">chr21</text><line x1="64.55" y1="622" x2="64.55" y2="624" stroke="#777" stroke-width="0.5"/><line x1="95.95" y1="622" x2="95.95" y2="624" stroke="#777" stroke-width="0.5"/><line x1="123.9" y1="622" x2="123.9" y2="624" stroke="#777" stroke-width="0.5"/><line x1="148.5" y1="622" x2="148.5" y2="624" stroke="#777" stroke-width="0.5"/><line x1="171.8" y1="622" x2="171.8" y2="624" stroke="#777" stroke-width="0.5"/><line x1="194" y1="622" x2="194" y2="624" stroke="#777" stroke-width="0.5"/><line x1="215.15" y1="622" x2="215.15" y2="624" stroke="#777" stroke-width="0.5"/><line x1="234.35" y1="622" x2="234.35" y2="624" stroke="#777" stroke-width="0.5"/><line x1="252.5" y1="622" x2="252.5" y2="624" stroke="#777" stroke-width="0.5"/><line x1="270.15" y1="622" x2="270.15" y2="624" stroke="#777" stroke-width="0.5"/><line x1="287.25" y1="622" x2="287.25" y2="624" stroke="#777" stroke-width="0.5"/><line x1="304" y1="622" x2="304" y2="624" stroke="#777" stroke-width="0.5"/><line x1="319.45" y1="622" x2="319.45" y2="624" stroke="#777" stroke-width="0.5"/><line x1="333.6" y1="622" x2="333.6" y2="624" stroke="#777" stroke-width="0.5"/><line x1="346.65" y1="622" x2="346.65" y2="624" stroke="#777" stroke-width="0.5"/><line x1="358.45" y1="622" x2="358.45" y2="624" stroke="#777" stroke-width="0.5"/><line x1="369" y1="622" x2="369" y2="624" stroke="#777" stroke-width="0.5"/><line x1="378.65" y1="622" x2="378.65" y2="624" stroke="#777" stroke-width="0.5"/><line x1="387.35" y1="622" x2="387.35" y2="624" stroke="#777" stroke-width="0.5"/><line x1="395.4" y1="622" x2="395.4" y2="624" stroke="#777" stroke-width="0.5"/><line x1="402.8" y1="622" x2="402.8" y2="624" stroke="#777" stroke-width="0.5"/><line x1="408.85" y1="622" x2="408.85" y2="624" stroke="#777" stroke-width="0.5"/><line x1="45.2" y1="634.6" x2="45.2" y2="661.2" stroke="#777" stroke-width="0.6"/><line x1="43.6" y1="658.6" x2="45.2" y2="658.6" stroke="#777" stroke-width="0.4"/><text transform="translate(40.6 659.5) rotate(-90)" font-size="2.9" fill="#333" text-anchor="middle">0</text><line x1="43.6" y1="655.05" x2="45.2" y2="655.05" stroke="#777" stroke-width="0.4"/><text transform="translate(40.6 655.95) rotate(-90)" font-size="2.9" fill="#333" text-anchor="middle">1</text><line x1="43.6" y1="651.5" x2="45.2" y2="651.5" stroke="#777" stroke-width="0.4"/><text transform="translate(40.6 652.4) rotate(-90)" font-size="2.9" fill="#333" text-anchor="middle">2</text><line x1="43.6" y1="647.95" x2="45.2" y2="647.95" stroke="#777" stroke-width="0.4"/><text transform="translate(40.6 648.85) rotate(-90)" font-size="2.9" fill="#333" text-anchor="middle">3</text><line x1="43.6" y1="644.4" x2="45.2" y2="644.4" stroke="#777" stroke-width="0.4"/><text transform="translate(40.6 645.3) rotate(-90)" font-size="2.9" fill="#333" text-anchor="middle">4</text><line x1="43.6" y1="640.85" x2="45.2" y2="640.85" stroke="#777" stroke-width="0.4"/><text transform="translate(40.6 641.75) rotate(-90)" font-size="2.9" fill="#333" text-anchor="middle">5</text><line x1="43.6" y1="637.3" x2="45.2" y2="637.3" stroke="#777" stroke-width="0.4"/><text transform="translate(40.6 638.2) rotate(-90)" font-size="2.9" fill="#333" text-anchor="middle">6</text><line x1="43.6" y1="633.75" x2="45.2" y2="633.75" stroke="#777" stroke-width="0.4"/><text transform="translate(40.6 634.65) rotate(-90)" font-size="2.9" fill="#333" text-anchor="middle">7</text><line x1="45.2" y1="662" x2="408.5" y2="662" stroke="#888" stroke-width="0.7"/><line x1="77.2" y1="634.6" x2="77.2" y2="661.5" stroke="#e2e2e2" stroke-width="0.6"/><line x1="108.3" y1="634.6" x2="108.3" y2="661.5" stroke="#e2e2e2" stroke-width="0.6"/><line x1="133.1" y1="634.6" x2="133.1" y2="661.5" stroke="#e2e2e2" stroke-width="0.6"/><line x1="157.5" y1="634.6" x2="157.5" y2="661.5" stroke="#e2e2e2" stroke-width="0.6"/><line x1="179.7" y1="634.6" x2="179.7" y2="661.5" stroke="#e2e2e2" stroke-width="0.6"/><line x1="201.9" y1="634.6" x2="201.9" y2="661.5" stroke="#e2e2e2" stroke-width="0.6"/><line x1="222" y1="634.6" x2="222" y2="661.5" stroke="#e2e2e2" stroke-width="0.6"/><line x1="240.3" y1="634.6" x2="240.3" y2="661.5" stroke="#e2e2e2" stroke-width="0.6"/><line x1="258.3" y1="634.6" x2="258.3" y2="661.5" stroke="#e2e2e2" stroke-width="0.6"/><line x1="275.6" y1="634.6" x2="275.6" y2="661.5" stroke="#e2e2e2" stroke-width="0.6"/><line x1="292.5" y1="634.6" x2="292.5" y2="661.5" stroke="#e2e2e2" stroke-width="0.6"/><line x1="309.1" y1="634.6" x2="309.1" y2="661.5" stroke="#e2e2e2" stroke-width="0.6"/><line x1="323.4" y1="634.6" x2="323.4" y2="661.5" stroke="#e2e2e2" stroke-width="0.6"/><line x1="337.4" y1="634.6" x2="337.4" y2="661.5" stroke="#e2e2e2" stroke-width="0.6"/><line x1="349.5" y1="634.6" x2="349.5" y2="661.5" stroke="#e2e2e2" stroke-width="0.6"/><line x1="361" y1="634.6" x2="361" y2="661.5" stroke="#e2e2e2" stroke-width="0.6"/><line x1="370.6" y1="634.6" x2="370.6" y2="661.5" stroke="#e2e2e2" stroke-width="0.6"/><line x1="380.3" y1="634.6" x2="380.3" y2="661.5" stroke="#e2e2e2" stroke-width="0.6"/><line x1="388" y1="634.6" x2="388" y2="661.5" stroke="#e2e2e2" stroke-width="0.6"/><line x1="396.4" y1="634.6" x2="396.4" y2="661.5" stroke="#e2e2e2" stroke-width="0.6"/><line x1="402.8" y1="634.6" x2="402.8" y2="661.5" stroke="#e2e2e2" stroke-width="0.6"/><line x1="46.3" y1="650.6" x2="61.35" y2="650.6" stroke="#d0393f" stroke-width="1.3"/><line x1="46.3" y1="658.6" x2="61.35" y2="658.6" stroke="#3b4fa0" stroke-width="1.3"/><line x1="63.16" y1="650.6" x2="76.4" y2="650.6" stroke="#d0393f" stroke-width="1.3"/><line x1="63.16" y1="658.6" x2="76.4" y2="658.6" stroke="#3b4fa0" stroke-width="1.3"/><line x1="78" y1="650.6" x2="107.5" y2="650.6" stroke="#d0393f" stroke-width="1.3"/><line x1="78" y1="658.6" x2="107.5" y2="658.6" stroke="#3b4fa0" stroke-width="1.3"/><line x1="109.1" y1="650.6" x2="132.3" y2="650.6" stroke="#d0393f" stroke-width="1.3"/><line x1="109.1" y1="658.6" x2="132.3" y2="658.6" stroke="#3b4fa0" stroke-width="1.3"/><line x1="133.9" y1="650.6" x2="156.7" y2="650.6" stroke="#d0393f" stroke-width="1.3"/><line x1="133.9" y1="658.6" x2="156.7" y2="658.6" stroke="#3b4fa0" stroke-width="1.3"/><line x1="158.3" y1="650.6" x2="178.9" y2="650.6" stroke="#d0393f" stroke-width="1.3"/><line x1="158.3" y1="658.6" x2="178.9" y2="658.6" stroke="#3b4fa0" stroke-width="1.3"/><line x1="180.5" y1="650.6" x2="201.1" y2="650.6" stroke="#d0393f" stroke-width="1.3"/><line x1="180.5" y1="658.6" x2="201.1" y2="658.6" stroke="#3b4fa0" stroke-width="1.3"/><line x1="202.7" y1="650.6" x2="221.2" y2="650.6" stroke="#d0393f" stroke-width="1.3"/><line x1="202.7" y1="651.6" x2="221.2" y2="651.6" stroke="#3b4fa0" stroke-width="1"/><line x1="211.95" y1="646.7" x2="221.2" y2="646.7" stroke="#d0393f" stroke-width="1"/><line x1="222.8" y1="650.6" x2="239.5" y2="650.6" stroke="#d0393f" stroke-width="1.3"/><line x1="222.8" y1="658.6" x2="239.5" y2="658.6" stroke="#3b4fa0" stroke-width="1.3"/><line x1="241.1" y1="650.6" x2="247" y2="650.6" stroke="#d0393f" stroke-width="1.3"/><line x1="241.1" y1="651.6" x2="247" y2="651.6" stroke="#3b4fa0" stroke-width="1"/><line x1="244.05" y1="646.7" x2="247" y2="646.7" stroke="#d0393f" stroke-width="1"/><line x1="251.27" y1="650.6" x2="257.5" y2="650.6" stroke="#d0393f" stroke-width="1.3"/><line x1="251.27" y1="651.6" x2="257.5" y2="651.6" stroke="#3b4fa0" stroke-width="1"/><line x1="254.38" y1="646.7" x2="257.5" y2="646.7" stroke="#d0393f" stroke-width="1"/><line x1="259.1" y1="650.6" x2="274.8" y2="650.6" stroke="#d0393f" stroke-width="1.3"/><line x1="259.1" y1="651.6" x2="274.8" y2="651.6" stroke="#3b4fa0" stroke-width="1"/><line x1="266.95" y1="646.7" x2="274.8" y2="646.7" stroke="#d0393f" stroke-width="1"/><line x1="276.4" y1="650.6" x2="291.7" y2="650.6" stroke="#d0393f" stroke-width="1.3"/><line x1="276.4" y1="658.6" x2="291.7" y2="658.6" stroke="#3b4fa0" stroke-width="1.3"/><line x1="293.3" y1="650.6" x2="308.3" y2="650.6" stroke="#d0393f" stroke-width="1.3"/><line x1="293.3" y1="658.6" x2="308.3" y2="658.6" stroke="#3b4fa0" stroke-width="1.3"/><line x1="312.44" y1="650.6" x2="322.6" y2="650.6" stroke="#d0393f" stroke-width="1.3"/><line x1="312.44" y1="658.6" x2="322.6" y2="658.6" stroke="#3b4fa0" stroke-width="1.3"/><line x1="325.69" y1="650.6" x2="336.6" y2="650.6" stroke="#d0393f" stroke-width="1.3"/><line x1="325.69" y1="651.6" x2="336.6" y2="651.6" stroke="#3b4fa0" stroke-width="1"/><line x1="331.14" y1="646.7" x2="336.6" y2="646.7" stroke="#d0393f" stroke-width="1"/><line x1="339.46" y1="650.6" x2="348.7" y2="650.6" stroke="#d0393f" stroke-width="1.3"/><line x1="339.46" y1="651.6" x2="348.7" y2="651.6" stroke="#3b4fa0" stroke-width="1"/><line x1="344.08" y1="646.7" x2="348.7" y2="646.7" stroke="#d0393f" stroke-width="1"/><line x1="350.3" y1="650.6" x2="360.2" y2="650.6" stroke="#d0393f" stroke-width="1.3"/><line x1="350.3" y1="658.6" x2="360.2" y2="658.6" stroke="#3b4fa0" stroke-width="1.3"/><line x1="361.8" y1="650.6" x2="369.8" y2="650.6" stroke="#d0393f" stroke-width="1.3"/><line x1="361.8" y1="658.6" x2="369.8" y2="658.6" stroke="#3b4fa0" stroke-width="1.3"/><line x1="371.4" y1="650.6" x2="379.5" y2="650.6" stroke="#d0393f" stroke-width="1.3"/><line x1="371.4" y1="658.6" x2="379.5" y2="658.6" stroke="#3b4fa0" stroke-width="1.3"/><line x1="381.1" y1="650.6" x2="387.2" y2="650.6" stroke="#d0393f" stroke-width="1.3"/><line x1="381.1" y1="658.6" x2="387.2" y2="658.6" stroke="#3b4fa0" stroke-width="1.3"/><line x1="388.8" y1="650.6" x2="395.6" y2="650.6" stroke="#d0393f" stroke-width="1.3"/><line x1="388.8" y1="658.6" x2="395.6" y2="658.6" stroke="#3b4fa0" stroke-width="1.3"/><line x1="398.16" y1="650.6" x2="402" y2="650.6" stroke="#d0393f" stroke-width="1.3"/><line x1="398.16" y1="658.6" x2="402" y2="658.6" stroke="#3b4fa0" stroke-width="1.3"/><line x1="404.22" y1="650.6" x2="407.7" y2="650.6" stroke="#d0393f" stroke-width="1.3"/><line x1="404.22" y1="658.6" x2="407.7" y2="658.6" stroke="#3b4fa0" stroke-width="1.3"/><rect x="216.9" y="642.7" width="1.2" height="1.2" fill="#d0393f"/><rect x="261.4" y="645.9" width="1.2" height="1.2" fill="#d0393f"/><rect x="326.9" y="642.4" width="1.2" height="1.2" fill="#d0393f"/><rect x="329.4" y="646.4" width="1.2" height="1.2" fill="#d0393f"/><rect x="328.4" y="654.8" width="1.2" height="1.2" fill="#3b4fa0"/><rect x="231.4" y="640.4" width="1.2" height="1.2" fill="#d0393f"/><rect x="290.4" y="640.4" width="1.2" height="1.2" fill="#d0393f"/><rect x="242.4" y="654.4" width="1.2" height="1.2" fill="#3b4fa0"/><rect x="263.4" y="654.4" width="1.2" height="1.2" fill="#3b4fa0"/><rect x="268.4" y="654.4" width="1.2" height="1.2" fill="#3b4fa0"/><rect x="273.4" y="654.4" width="1.2" height="1.2" fill="#3b4fa0"/><rect x="345.4" y="647.4" width="1.2" height="1.2" fill="#d0393f"/><line x1="45.7" y1="667" x2="71.5" y2="667" stroke="#444" stroke-width="0.6"/><line x1="45.7" y1="665.6" x2="45.7" y2="667" stroke="#444" stroke-width="0.5"/><line x1="48.28" y1="666.2" x2="48.28" y2="667" stroke="#444" stroke-width="0.5"/><line x1="50.86" y1="666.2" x2="50.86" y2="667" stroke="#444" stroke-width="0.5"/><line x1="53.44" y1="666.2" x2="53.44" y2="667" stroke="#444" stroke-width="0.5"/><line x1="56.02" y1="666.2" x2="56.02" y2="667" stroke="#444" stroke-width="0.5"/><line x1="58.6" y1="665.6" x2="58.6" y2="667" stroke="#444" stroke-width="0.5"/><line x1="61.18" y1="666.2" x2="61.18" y2="667" stroke="#444" stroke-width="0.5"/><line x1="63.76" y1="666.2" x2="63.76" y2="667" stroke="#444" stroke-width="0.5"/><line x1="66.34" y1="666.2" x2="66.34" y2="667" stroke="#444" stroke-width="0.5"/><line x1="68.92" y1="666.2" x2="68.92" y2="667" stroke="#444" stroke-width="0.5"/><line x1="71.5" y1="665.6" x2="71.5" y2="667" stroke="#444" stroke-width="0.5"/><text x="46" y="676.6" font-size="5.2" fill="#333" text-anchor="middle">1</text><text x="58.8" y="676.6" font-size="5.2" fill="#333" text-anchor="middle">101</text><text x="71.5" y="676.6" font-size="5.2" fill="#333" text-anchor="middle">201</text><text x="229.9" y="683" font-size="8.6" fill="#333" text-anchor="middle">Position (Mb)</text></svg></body></html>
